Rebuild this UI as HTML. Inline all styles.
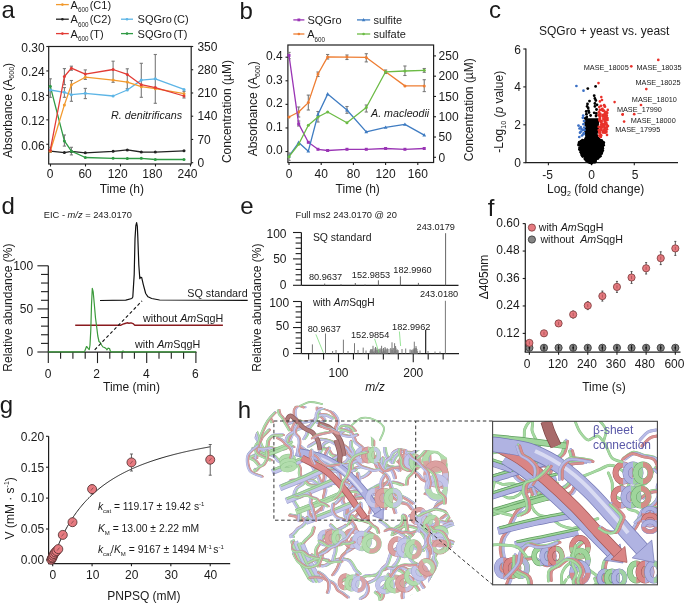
<!DOCTYPE html>
<html><head><meta charset="utf-8"><style>
html,body{margin:0;padding:0;background:#fff;}
body{width:685px;height:604px;overflow:hidden;}
svg{display:block;font-family:"Liberation Sans", sans-serif;filter:blur(0.3px);}
</style></head><body>
<svg width="685" height="604" viewBox="0 0 685 604">
<style>
.tg,.Tg,.tp,.Tp,.tl,.Tl,.td,.Td,.tG,.TG,.tP,.TP,.tL,.TL{fill:none;stroke-linecap:round;stroke-linejoin:round}.TG{stroke:#b2ddad}.tG{stroke:#8fc28b}.TP{stroke:#dca0a0}.tP{stroke:#c08585}.TL{stroke:#c4c6ea}.tL{stroke:#a0a3d3}
.Tg{stroke:#a6d9a2}.tg{stroke:#80b87c}.Tp{stroke:#d99090}.tp{stroke:#b87676}.Tl{stroke:#b8bbe6}.tl{stroke:#9093c8}.Td{stroke:#a86a6a}.td{stroke:#7a4545}
</style>
<defs><path id="q1" d="M287.6 423.3C288.5 423.0 291.2 422.2 292.9 421.6C294.7 421.1 296.4 419.8 298.2 419.8C299.9 419.8 301.6 421.4 303.4 421.5C305.2 421.7 307.1 421.0 308.9 420.8C310.8 420.6 312.7 420.1 314.5 420.3C316.3 420.5 318.0 422.1 319.7 422.0C321.5 422.0 324.0 420.4 324.9 420.0"/><path id="q2" d="M317.6 464.9C317.3 464.2 315.7 462.0 315.5 460.5C315.4 459.0 316.1 457.2 316.8 455.8C317.4 454.4 318.8 453.2 319.6 451.9C320.5 450.5 321.2 449.1 322.0 447.6C322.7 446.2 322.9 444.3 323.9 443.2C325.0 442.0 327.5 441.2 328.2 440.8"/><path id="q3" d="M335.7 428.9C335.8 429.7 335.8 432.3 336.4 433.7C337.0 435.1 338.9 436.0 339.4 437.4C340.0 438.8 339.7 440.6 339.8 442.2C339.9 443.8 340.1 445.4 340.0 446.9C339.9 448.5 339.1 450.0 339.0 451.6C338.8 453.2 339.0 454.8 339.0 456.4C339.0 458.0 338.9 459.7 339.1 461.2C339.3 462.7 339.8 464.0 340.0 465.5C340.2 466.9 340.0 470.0 340.0 470.0C340.0 470.0 340.5 466.8 340.0 465.5C339.5 464.1 337.4 462.4 336.9 461.8"/><path id="q4" d="M322.3 447.8C323.3 448.0 326.6 448.2 328.3 449.2C329.9 450.3 330.4 453.0 332.0 454.2C333.6 455.3 336.5 455.4 337.9 456.1C339.2 456.8 340.6 457.8 340.0 458.5C339.4 459.3 336.0 459.7 334.1 460.5C332.2 461.3 330.4 462.2 328.6 463.4C326.9 464.5 324.7 466.7 323.9 467.4"/><path id="q5" d="M282.9 434.3C281.9 434.4 279.2 434.3 277.3 434.5C275.5 434.7 273.4 434.6 271.9 435.5C270.4 436.3 269.0 438.0 268.3 439.6C267.5 441.2 268.0 443.3 267.4 445.1C266.8 446.8 266.2 448.8 264.9 450.0C263.7 451.2 261.6 451.5 259.9 452.3C258.2 453.0 256.5 453.8 254.9 454.6C253.2 455.3 250.0 456.1 250.0 456.9C250.0 457.7 253.4 458.4 254.8 459.6C256.2 460.7 257.8 463.1 258.4 463.8"/><path id="q6" d="M300.1 445.5C300.9 446.1 303.1 448.2 304.8 449.2C306.5 450.3 308.8 450.6 310.2 451.9C311.6 453.2 312.0 455.5 313.1 457.2C314.3 458.8 315.9 460.1 317.1 461.7C318.4 463.2 319.2 465.3 320.5 466.7C321.8 468.0 324.0 470.4 325.1 470.0C326.1 469.6 326.9 466.2 326.9 464.3C326.9 462.3 325.2 460.5 325.1 458.5C324.9 456.6 325.3 454.4 325.9 452.5C326.5 450.7 328.4 448.2 328.9 447.3"/><path id="q7" d="M310.8 463.4C311.8 463.0 314.6 461.1 316.6 461.0C318.5 460.9 320.9 461.7 322.5 462.8C324.1 464.0 325.1 466.6 326.2 467.8C327.3 469.0 327.8 470.2 329.2 470.0C330.6 469.8 332.8 467.9 334.5 466.9C336.3 465.8 339.0 464.9 339.9 463.7C340.8 462.5 340.0 460.3 340.0 459.6"/><path id="q8" d="M256.2 457.3C256.3 456.5 256.3 454.0 256.9 452.5C257.4 451.0 259.2 449.9 259.6 448.4C260.1 446.9 259.8 445.1 259.5 443.5C259.2 441.9 258.5 440.3 257.7 438.9C256.9 437.5 255.8 436.3 254.7 435.1C253.6 433.8 252.1 432.4 251.3 431.6C250.5 430.7 250.2 430.2 250.0 429.9"/><path id="q9" d="M263.2 414.8C262.4 414.1 260.6 411.5 258.9 410.4C257.2 409.4 254.6 409.4 253.1 408.6C251.6 407.8 249.5 406.1 250.0 405.6C250.5 405.2 254.1 405.9 256.1 406.0C258.1 406.1 260.4 405.6 262.2 406.3C264.0 406.9 265.9 408.5 267.0 410.0C268.1 411.6 268.2 414.0 269.0 415.8C269.9 417.6 271.6 420.2 272.1 421.1"/><path id="q10" d="M288.3 442.8C288.7 441.8 289.7 439.0 290.4 437.1C291.2 435.3 292.3 433.5 292.8 431.6C293.3 429.7 292.8 427.5 293.3 425.6C293.9 423.8 295.8 422.2 296.0 420.3C296.3 418.4 294.9 416.4 294.7 414.4C294.5 412.4 294.3 410.0 294.9 408.4C295.6 406.9 297.1 405.3 298.7 405.0C300.3 404.7 303.6 406.1 304.5 406.4"/><path id="q11" d="M336.0 432.4C336.0 431.5 335.4 428.9 335.7 427.3C335.9 425.6 337.3 424.1 337.5 422.5C337.7 420.8 337.4 418.9 336.8 417.4C336.2 415.9 334.9 414.6 333.8 413.3C332.7 412.0 331.6 410.6 330.1 409.7C328.7 408.8 326.9 408.6 325.3 407.9C323.8 407.2 322.2 405.7 321.0 405.2C319.7 404.7 318.5 404.2 318.0 405.0C317.5 405.8 317.5 408.5 317.9 410.1C318.3 411.7 319.3 413.3 320.4 414.6C321.4 415.9 323.5 417.5 324.1 418.1"/><path id="q12" d="M285.7 462.7C284.6 462.4 281.0 461.8 279.1 460.6C277.3 459.4 276.3 456.9 274.5 455.6C272.6 454.3 270.0 454.1 268.1 452.9C266.2 451.7 264.4 450.1 263.1 448.3C261.7 446.5 260.8 444.3 260.0 442.2C259.1 440.1 258.5 437.9 257.8 435.7C257.1 433.5 256.0 431.4 255.6 429.2C255.3 427.0 256.4 424.4 255.8 422.3C255.2 420.3 252.6 418.8 252.0 416.7C251.3 414.6 252.0 411.0 252.0 409.8"/><path id="q13" d="M285.8 441.9C286.1 440.8 286.5 437.2 287.7 435.5C288.9 433.7 291.2 432.7 293.0 431.5C294.9 430.3 296.8 429.0 298.9 428.3C301.0 427.7 303.4 428.1 305.5 427.4C307.6 426.7 309.7 425.6 311.3 424.2C312.9 422.7 313.5 420.2 315.0 418.6C316.5 417.0 318.2 415.1 320.2 414.5C322.2 413.8 324.8 414.1 326.9 414.6C329.0 415.1 331.9 417.1 332.8 417.6"/><path id="q14" d="M304.1 438.0C304.5 437.4 306.0 435.4 306.6 434.0C307.3 432.6 307.3 430.9 308.0 429.5C308.6 428.0 309.7 426.8 310.5 425.5C311.4 424.1 312.3 422.8 313.2 421.6C314.2 420.3 315.7 419.3 316.3 417.9C316.8 416.5 316.2 414.7 316.7 413.2C317.1 411.7 317.9 410.0 319.0 409.1C320.1 408.1 322.0 408.0 323.4 407.3C324.8 406.6 326.0 405.1 327.4 405.0C328.8 404.9 331.1 406.3 331.9 406.5"/><path id="q15" d="M308.7 445.7C309.6 445.2 312.5 443.4 314.4 442.3C316.3 441.2 318.1 439.4 320.1 438.9C322.2 438.4 324.6 439.0 326.8 439.5C328.9 440.0 331.1 440.7 333.0 441.8C335.0 442.8 337.3 444.4 338.4 445.7C339.6 447.0 339.7 448.8 340.0 449.4"/><path id="q16" d="M252.2 448.0C253.0 448.0 255.4 447.7 256.9 447.8C258.5 447.8 260.0 448.1 261.6 448.1C263.1 448.1 264.7 448.0 266.2 447.8C267.8 447.7 269.3 447.0 270.9 447.1C272.4 447.2 273.9 448.0 275.4 448.3C276.9 448.6 278.5 448.8 280.0 448.8C281.6 448.8 283.2 448.7 284.7 448.2C286.1 447.7 287.3 446.3 288.8 445.9C290.2 445.6 292.6 446.2 293.4 446.3"/><path id="q17" d="M368.7 500.2C369.6 499.9 372.3 498.9 374.2 498.5C376.0 498.1 377.9 497.7 379.8 497.9C381.7 498.0 383.6 498.6 385.3 499.2C387.1 499.9 389.0 500.6 390.4 501.8C391.8 503.1 392.8 504.9 393.6 506.6C394.4 508.3 395.0 511.1 395.3 512.0"/><path id="q18" d="M369.8 471.4C369.1 472.0 367.1 474.1 365.5 475.1C363.9 476.1 362.0 477.2 360.2 477.4C358.4 477.6 356.4 476.4 354.6 476.5C352.8 476.6 350.8 477.3 349.2 478.3C347.6 479.2 346.6 481.2 344.9 482.1C343.3 482.9 341.2 483.1 339.3 483.2C337.5 483.3 334.6 482.8 333.7 482.7"/><path id="q19" d="M373.6 493.4C372.8 493.8 370.7 495.4 369.1 495.5C367.6 495.7 365.6 495.2 364.3 494.4C363.0 493.5 362.6 491.5 361.3 490.4C360.1 489.4 358.4 488.9 356.9 488.3C355.4 487.6 353.7 487.3 352.3 486.5C350.8 485.8 349.6 484.5 348.2 483.7C346.8 482.9 345.2 482.4 343.7 481.6C342.3 480.9 341.0 479.6 339.5 479.1C338.0 478.6 336.2 478.2 334.6 478.5C333.1 478.8 330.9 480.4 330.2 480.8"/><path id="q20" d="M441.2 517.7C442.0 517.1 444.6 515.7 445.9 514.3C447.2 513.0 448.4 511.0 449.1 509.5C449.8 508.1 450.3 507.1 450.0 505.7C449.7 504.2 448.3 502.1 447.0 500.7C445.7 499.4 443.8 498.6 442.1 497.7C440.3 496.9 438.5 496.1 436.7 495.5C434.9 494.9 433.0 494.5 431.1 494.0C429.2 493.6 426.4 493.1 425.4 492.9"/><path id="q21" d="M351.5 469.1C351.3 469.9 350.2 472.3 350.3 473.8C350.4 475.4 351.9 476.8 352.2 478.4C352.5 480.0 352.5 481.9 352.0 483.3C351.4 484.8 350.1 486.1 349.0 487.3C347.8 488.4 345.9 488.9 345.0 490.2C344.1 491.5 344.2 493.4 343.7 495.0C343.3 496.5 342.3 498.2 342.4 499.7C342.5 501.3 343.8 502.7 344.3 504.3C344.8 505.9 345.2 507.5 345.4 509.1C345.5 510.7 344.9 512.4 345.1 514.0C345.4 515.6 346.4 517.9 346.7 518.7"/><path id="q22" d="M445.7 463.3C445.6 464.1 445.1 466.6 445.4 468.2C445.6 469.7 446.7 471.1 447.3 472.7C447.8 474.2 448.7 475.7 448.7 477.3C448.8 478.9 447.8 480.4 447.4 482.0C447.1 483.6 447.2 485.3 446.6 486.8C446.0 488.2 444.4 489.3 443.6 490.7C442.8 492.1 442.3 493.6 441.8 495.2C441.3 496.7 441.3 498.5 440.5 499.9C439.7 501.2 437.9 501.9 437.0 503.2C436.1 504.5 435.3 506.9 434.9 507.6"/><path id="q23" d="M301.7 480.5C302.6 480.1 305.5 478.8 307.4 478.3C309.4 477.8 311.7 478.2 313.5 477.4C315.3 476.7 316.8 475.0 318.5 473.8C320.1 472.6 321.7 471.3 323.4 470.1C325.1 468.9 326.8 467.8 328.5 466.7C330.2 465.6 332.9 464.0 333.7 463.5"/><path id="q24" d="M398.2 460.7C399.0 461.3 401.6 463.1 403.0 464.5C404.5 466.0 405.4 468.3 407.1 469.2C408.8 470.2 411.3 469.6 413.2 470.3C415.0 471.1 416.7 472.5 418.3 473.9C419.8 475.2 420.8 477.3 422.4 478.5C424.0 479.7 426.1 480.7 428.1 480.9C430.1 481.1 432.2 479.8 434.2 479.9C436.2 480.1 438.1 481.3 440.1 481.7C442.2 482.2 445.3 482.3 446.3 482.4"/><path id="q25" d="M383.6 469.3C383.7 468.5 384.5 465.9 384.2 464.4C383.8 462.9 382.7 461.4 381.6 460.2C380.5 459.0 379.1 458.1 377.7 457.2C376.3 456.4 374.8 455.5 373.3 455.1C371.7 454.7 370.0 454.4 368.4 454.6C366.8 454.8 364.5 455.9 363.7 456.2"/><path id="q26" d="M357.8 472.7C358.0 473.8 359.0 477.2 359.1 479.5C359.1 481.7 358.6 484.1 358.2 486.3C357.7 488.6 357.1 490.8 356.3 492.9C355.5 495.1 354.4 497.2 353.2 499.1C352.0 501.0 349.7 502.5 349.0 504.5C348.3 506.6 348.8 509.1 349.0 511.4C349.2 513.7 349.9 516.7 350.3 518.2C350.8 519.6 350.8 520.5 351.8 520.0C352.9 519.5 355.0 516.6 356.4 514.9C357.9 513.1 359.9 511.5 360.6 509.4C361.3 507.3 360.5 503.7 360.4 502.5"/><path id="q27" d="M398.9 495.3C398.5 494.8 397.2 492.6 396.0 491.8C394.7 490.9 393.1 490.6 391.6 490.3C390.1 490.0 388.5 489.8 387.0 490.0C385.5 490.2 384.0 491.0 382.6 491.5C381.1 492.1 379.8 492.9 378.3 493.3C376.8 493.7 375.2 493.5 373.7 493.8C372.2 494.2 370.7 495.2 369.3 495.2C367.8 495.2 366.3 494.0 364.8 494.0C363.3 493.9 361.7 494.3 360.2 494.8C358.8 495.3 357.2 496.0 356.2 497.1C355.2 498.1 354.7 500.6 354.4 501.3"/><path id="q28" d="M319.2 518.2C318.1 518.3 314.8 518.7 312.8 519.0C310.9 519.3 309.1 520.4 307.3 520.0C305.4 519.6 303.7 517.6 301.7 516.8C299.8 516.1 297.5 515.8 295.5 515.4C293.6 515.0 289.9 514.4 290.0 514.4C290.1 514.5 294.5 514.9 296.2 515.8C297.9 516.8 298.7 519.6 300.4 520.0C302.1 520.4 304.6 519.2 306.5 518.2C308.4 517.3 309.8 515.5 311.6 514.4C313.4 513.2 315.4 512.5 317.1 511.3C318.9 510.1 321.2 507.8 322.0 507.1"/><path id="q29" d="M294.3 479.6C293.6 479.7 290.0 479.9 290.0 480.4C290.0 480.8 292.9 481.9 294.5 482.2C296.0 482.5 297.8 482.6 299.3 482.1C300.8 481.7 301.9 479.9 303.4 479.5C304.9 479.1 306.6 479.6 308.2 479.7C309.8 479.8 311.6 479.5 313.0 480.0C314.5 480.5 315.6 481.9 316.9 482.8C318.2 483.8 319.4 485.1 320.8 485.7C322.3 486.3 324.0 486.3 325.6 486.2C327.2 486.1 329.5 485.2 330.3 485.0"/><path id="q30" d="M413.3 502.6C412.5 502.0 410.0 500.2 408.3 499.1C406.6 498.1 404.8 497.0 403.0 496.2C401.1 495.4 399.1 494.9 397.2 494.2C395.3 493.6 393.4 492.6 391.4 492.3C389.4 492.0 387.3 492.4 385.3 492.4C383.3 492.3 381.2 492.1 379.2 492.1C377.2 492.1 374.9 491.5 373.1 492.2C371.3 492.8 370.1 495.1 368.3 495.9C366.5 496.8 364.3 496.9 362.3 497.2C360.3 497.5 357.3 497.7 356.3 497.8"/><path id="q31" d="M325.0 461.1C325.8 461.3 328.3 461.6 329.7 462.2C331.2 462.9 332.7 463.9 333.7 465.1C334.7 466.3 334.8 468.2 335.7 469.5C336.5 470.9 338.1 471.8 338.9 473.2C339.6 474.6 339.6 476.3 340.0 477.9C340.5 479.4 341.0 481.0 341.5 482.5C342.0 484.0 343.0 485.5 343.1 487.1C343.2 488.6 342.5 490.3 342.2 491.8C341.8 493.4 341.6 495.1 340.9 496.5C340.2 498.0 339.1 499.3 338.0 500.4C336.9 501.6 334.9 503.0 334.3 503.5"/><path id="q32" d="M311.2 473.4C310.4 474.2 308.0 476.6 306.6 478.4C305.1 480.1 304.0 482.2 302.3 483.7C300.7 485.2 298.1 485.8 296.7 487.5C295.4 489.2 294.7 491.6 294.2 493.8C293.8 496.0 293.5 498.5 294.0 500.6C294.5 502.7 296.5 504.4 297.4 506.5C298.3 508.6 299.1 510.8 299.4 513.0C299.7 515.2 299.2 518.6 299.2 519.8"/><path id="q33" d="M321.8 509.3C322.1 508.2 323.4 505.0 323.8 502.8C324.1 500.6 323.7 498.2 323.9 496.0C324.2 493.7 325.4 491.5 325.3 489.3C325.3 487.1 323.5 485.0 323.4 482.8C323.3 480.6 324.6 478.3 324.6 476.1C324.7 473.8 323.8 470.4 323.6 469.3"/><path id="q34" d="M323.1 484.8C322.6 484.1 320.9 482.2 320.2 480.7C319.4 479.3 319.1 477.5 318.3 476.0C317.6 474.6 316.3 473.3 315.5 471.9C314.7 470.4 314.4 468.7 313.6 467.2C312.8 465.7 312.0 464.1 310.9 462.9C309.7 461.8 308.2 460.7 306.6 460.2C305.1 459.7 303.1 459.5 301.6 459.9C300.0 460.3 298.8 461.9 297.3 462.5C295.8 463.2 293.7 463.4 292.4 463.9C291.2 464.5 289.6 465.7 290.0 465.9C290.4 466.1 294.2 465.4 295.0 465.2"/><path id="q35" d="M402.7 484.2C401.9 483.9 399.5 483.1 397.9 482.6C396.2 482.2 394.5 481.4 392.9 481.6C391.3 481.8 389.9 483.6 388.3 483.8C386.7 484.1 385.0 482.8 383.3 483.0C381.7 483.1 380.1 484.0 378.5 484.6C377.0 485.3 375.5 486.1 374.0 486.9C372.5 487.7 371.2 488.8 369.6 489.5C368.1 490.3 366.5 490.9 364.8 491.2C363.2 491.5 361.5 491.4 359.8 491.4C358.1 491.3 356.4 491.0 354.7 490.9C353.0 490.9 350.5 490.9 349.6 490.9"/><path id="q36" d="M433.6 509.0C434.4 508.2 436.3 505.4 438.0 504.1C439.7 502.7 442.0 502.1 443.8 500.9C445.6 499.6 447.7 498.2 448.8 496.5C449.8 494.7 450.8 491.9 450.0 490.3C449.2 488.7 446.3 487.7 444.3 487.0C442.2 486.2 438.8 485.9 437.8 485.6"/><path id="q37" d="M297.7 463.1C298.1 463.8 299.5 466.0 299.9 467.6C300.2 469.2 299.4 471.0 299.7 472.7C299.9 474.3 300.4 476.1 301.4 477.4C302.3 478.7 304.0 479.5 305.3 480.6C306.6 481.6 307.6 483.2 309.1 483.9C310.5 484.6 312.3 484.6 314.0 484.8C315.7 485.1 317.4 484.7 319.0 485.1C320.6 485.5 322.9 486.9 323.6 487.2"/><path id="q38" d="M376.2 455.9C376.1 457.0 375.2 460.2 375.6 462.2C376.0 464.1 377.2 466.2 378.5 467.7C379.7 469.3 381.8 470.3 383.3 471.7C384.9 473.1 386.6 474.4 387.7 476.1C388.8 477.8 389.1 480.0 389.8 482.0C390.4 484.0 391.3 485.9 391.6 488.0C392.0 490.0 391.3 492.4 392.1 494.2C392.9 496.0 394.8 497.4 396.5 498.7C398.1 500.0 400.0 501.1 401.9 501.9C403.8 502.7 406.2 502.5 407.9 503.6C409.6 504.6 411.3 507.5 412.0 508.3"/><path id="q39" d="M369.7 512.4C369.9 511.7 370.8 509.4 370.9 508.0C370.9 506.5 369.8 504.9 370.0 503.5C370.1 502.0 371.6 500.7 371.7 499.2C371.9 497.8 370.7 496.2 370.9 494.7C371.0 493.3 372.0 491.8 372.9 490.6C373.8 489.4 375.1 488.4 376.3 487.6C377.6 486.8 379.1 486.3 380.5 485.7C381.9 485.1 383.6 484.9 384.8 484.0C386.0 483.2 387.3 481.2 387.8 480.6"/><path id="q40" d="M395.0 477.3C394.7 476.3 394.0 473.2 393.1 471.4C392.2 469.5 391.2 467.5 389.6 466.3C388.1 465.1 385.9 464.5 383.9 463.9C382.0 463.4 379.7 463.7 377.9 463.0C376.0 462.3 374.1 461.1 372.6 459.7C371.1 458.4 370.5 456.1 368.9 454.8C367.3 453.6 365.2 452.9 363.3 452.3C361.3 451.7 358.2 451.5 357.2 451.3"/><path id="q41" d="M360.8 466.2C359.8 466.5 356.8 467.2 354.9 467.9C353.0 468.6 351.2 469.7 349.2 470.2C347.2 470.7 345.1 470.9 343.1 470.9C341.0 471.0 339.0 470.6 336.9 470.6C334.9 470.5 332.8 470.5 330.8 470.4C328.7 470.3 326.7 469.8 324.7 469.8C322.6 469.7 320.4 469.7 318.5 470.3C316.6 470.9 314.1 472.8 313.2 473.3"/><path id="q42" d="M342.8 463.1C343.5 462.5 345.9 461.2 347.0 459.9C348.1 458.6 349.3 456.9 349.5 455.3C349.8 453.6 349.3 450.9 348.7 450.1C348.1 449.2 347.2 449.6 346.0 450.0C344.7 450.4 342.8 451.5 341.4 452.5C339.9 453.5 338.9 455.0 337.4 456.0C336.0 457.0 334.1 457.5 332.8 458.5C331.5 459.6 330.7 461.4 329.4 462.6C328.2 463.8 326.6 464.7 325.3 465.8C323.9 466.9 322.8 468.4 321.4 469.3C319.9 470.3 317.3 471.0 316.5 471.4"/><path id="q43" d="M385.1 508.2C384.7 507.4 383.9 504.9 383.1 503.4C382.2 501.9 380.6 500.8 380.0 499.2C379.4 497.7 379.3 495.7 379.5 494.1C379.8 492.4 381.3 490.9 381.6 489.3C381.8 487.6 381.0 485.8 381.1 484.1C381.1 482.4 381.3 480.6 381.8 479.0C382.4 477.4 384.0 475.2 384.5 474.5"/><path id="q44" d="M455.5 542.8C454.6 542.9 451.9 542.8 450.4 543.3C448.8 543.8 447.4 545.0 446.0 546.0C444.6 547.0 443.5 548.3 442.1 549.3C440.7 550.3 439.0 550.8 437.7 551.8C436.4 552.9 435.2 554.2 434.3 555.7C433.4 557.1 432.6 559.6 432.3 560.4"/><path id="q45" d="M438.3 585.0C439.4 584.8 442.7 584.1 445.0 584.1C447.2 584.1 449.7 584.7 451.6 585.0C453.4 585.4 456.2 586.5 456.0 586.1C455.8 585.8 451.9 584.2 450.1 583.0C448.3 581.7 446.8 580.0 445.0 578.6C443.3 577.3 440.5 575.4 439.6 574.8"/><path id="q46" d="M298.0 575.6C297.6 574.7 296.8 571.8 295.6 570.4C294.3 569.0 291.7 568.2 290.7 567.2C289.8 566.1 289.7 565.5 290.0 564.1C290.3 562.8 291.8 560.7 292.4 558.9C293.0 557.0 293.5 555.0 293.5 553.2C293.4 551.3 292.3 549.5 291.9 547.6C291.5 545.7 291.2 542.8 291.1 541.8"/><path id="q47" d="M417.3 595.8C416.4 595.8 413.6 595.2 412.1 595.7C410.5 596.2 409.3 598.2 408.0 598.9C406.7 599.6 405.2 600.6 404.3 600.0C403.3 599.4 402.5 596.8 402.4 595.1C402.2 593.5 402.9 591.7 403.2 590.0C403.4 588.2 403.1 586.3 403.7 584.8C404.3 583.2 405.6 581.7 407.0 580.7C408.3 579.7 410.4 579.7 411.9 578.8C413.3 578.0 414.7 576.7 415.9 575.5C417.1 574.3 418.0 572.7 419.1 571.4C420.2 570.0 422.0 568.1 422.5 567.4"/><path id="q48" d="M425.9 538.7C425.4 537.8 424.2 535.0 423.0 533.3C421.9 531.6 420.7 529.9 419.1 528.7C417.5 527.5 415.4 526.9 413.5 526.3C411.5 525.8 409.5 525.2 407.5 525.3C405.5 525.3 403.2 525.6 401.6 526.6C399.9 527.6 399.3 530.1 397.7 531.3C396.2 532.5 393.2 533.5 392.3 534.0"/><path id="q49" d="M382.0 587.2C382.7 586.5 385.2 584.6 386.2 583.0C387.2 581.3 387.1 579.1 388.0 577.3C388.9 575.6 391.0 574.5 391.7 572.7C392.5 571.0 391.7 568.6 392.4 566.8C393.2 565.1 395.3 564.0 396.3 562.4C397.4 560.7 398.4 558.9 398.9 557.0C399.4 555.2 399.7 553.1 399.5 551.1C399.3 549.2 398.1 546.4 397.8 545.5"/><path id="q50" d="M431.9 578.4C431.4 577.5 430.1 574.4 428.9 572.7C427.6 570.9 426.2 569.3 424.5 567.9C422.9 566.5 420.9 565.5 419.0 564.5C417.1 563.4 414.8 563.0 413.2 561.6C411.7 560.2 410.1 558.1 409.7 556.2C409.2 554.2 410.8 551.8 410.4 549.7C410.0 547.7 407.8 546.0 407.5 543.9C407.2 541.9 407.7 539.4 408.6 537.6C409.6 535.7 412.4 533.7 413.1 532.9"/><path id="q51" d="M420.2 530.9C420.1 529.9 419.0 526.7 419.2 524.7C419.4 522.7 420.2 520.5 421.4 518.9C422.6 517.3 425.2 515.9 426.4 515.2C427.6 514.6 428.2 514.0 428.6 515.0C429.0 516.0 428.8 519.1 429.0 521.2C429.1 523.3 429.9 525.5 429.5 527.4C429.1 529.4 427.0 531.0 426.5 532.9C426.0 534.9 426.4 537.1 426.3 539.1C426.2 541.2 425.4 543.4 425.7 545.3C426.0 547.3 427.9 549.0 428.3 551.0C428.8 553.0 428.4 556.2 428.4 557.2"/><path id="q52" d="M409.8 515.2C410.8 515.1 413.9 514.3 415.5 515.0C417.1 515.7 418.6 517.7 419.3 519.4C420.0 521.1 419.0 523.5 419.6 525.2C420.3 527.0 421.8 528.4 423.1 529.9C424.3 531.4 426.3 532.4 427.1 534.1C427.9 535.7 427.9 538.0 427.6 539.8C427.3 541.7 426.3 543.6 425.2 545.1C424.1 546.7 421.7 548.4 421.0 549.1"/><path id="q53" d="M383.9 569.3C384.7 569.0 386.9 567.3 388.6 567.1C390.2 566.8 392.0 568.0 393.7 567.8C395.3 567.7 396.9 566.1 398.5 566.0C400.1 565.9 401.9 566.7 403.5 567.2C405.1 567.8 406.7 568.6 408.2 569.5C409.7 570.3 411.4 570.9 412.6 572.0C413.9 573.2 414.7 574.8 415.8 576.1C417.0 577.4 418.6 578.3 419.6 579.6C420.6 581.0 421.0 582.8 422.0 584.2C422.9 585.7 424.1 586.9 425.1 588.3C426.2 589.7 427.7 591.8 428.2 592.4"/><path id="q54" d="M329.9 544.0C329.3 544.7 327.8 546.7 326.5 547.8C325.3 548.9 323.8 549.7 322.5 550.7C321.1 551.7 320.0 553.0 318.5 553.7C317.0 554.5 315.3 554.8 313.7 555.1C312.1 555.3 310.3 554.9 308.7 555.2C307.0 555.4 305.5 556.2 303.9 556.5C302.2 556.8 300.5 557.2 298.9 557.1C297.3 557.0 295.5 556.4 294.0 555.9C292.5 555.5 289.8 554.7 290.0 554.6C290.2 554.4 293.4 554.6 295.0 554.9C296.6 555.2 299.0 556.0 299.8 556.2"/><path id="q55" d="M452.2 559.9C452.6 558.9 454.0 555.9 454.6 554.2C455.2 552.5 456.7 550.9 456.0 549.6C455.3 548.3 452.2 547.8 450.6 546.5C449.1 545.2 448.1 543.3 446.7 541.8C445.3 540.3 443.7 539.0 442.2 537.5C440.8 536.0 439.6 534.2 438.0 533.0C436.3 531.8 433.4 530.7 432.4 530.2"/><path id="q56" d="M396.8 568.4C397.8 568.9 401.3 569.8 402.8 571.3C404.3 572.7 404.5 575.5 405.9 577.2C407.3 578.9 409.4 579.9 411.1 581.4C412.8 582.8 414.6 584.1 416.0 585.8C417.5 587.5 418.4 589.5 419.6 591.4C420.8 593.3 422.5 596.2 423.1 597.1"/><path id="q57" d="M359.7 573.1C359.0 572.5 356.8 570.7 355.6 569.3C354.5 567.8 353.8 566.0 352.8 564.5C351.8 562.9 350.9 561.0 349.5 560.0C348.1 559.0 345.9 558.7 344.1 558.5C342.3 558.3 340.4 558.5 338.5 558.7C336.7 558.9 334.7 559.1 333.1 559.9C331.4 560.6 330.2 562.2 328.6 563.1C327.0 564.0 325.2 565.2 323.4 565.3C321.7 565.3 319.5 564.6 318.1 563.6C316.6 562.6 315.6 560.8 314.6 559.2C313.6 557.7 312.5 555.1 312.0 554.3"/><path id="q58" d="M411.6 534.6C411.0 534.1 408.5 532.6 407.7 531.2C406.9 529.7 407.0 527.8 406.7 526.1C406.4 524.4 406.1 522.6 405.9 520.9C405.6 519.2 405.7 516.7 405.2 515.8C404.7 514.8 403.2 514.3 402.8 515.0C402.4 515.7 403.3 518.6 402.9 520.2C402.4 521.8 401.4 523.5 400.2 524.7C398.9 525.8 396.8 526.0 395.6 527.2C394.4 528.4 393.5 531.0 393.1 531.8"/><path id="q59" d="M318.7 565.6C318.7 564.5 319.5 561.2 319.1 559.2C318.6 557.2 316.3 555.6 315.9 553.6C315.5 551.6 315.9 549.1 316.6 547.2C317.4 545.3 319.1 543.7 320.3 541.9C321.5 540.1 322.3 537.9 323.8 536.5C325.4 535.2 327.6 534.4 329.5 533.5C331.5 532.7 334.6 531.7 335.6 531.4"/><path id="q60" d="M340.2 581.8C341.0 581.3 343.0 579.2 344.7 578.7C346.3 578.1 348.3 578.8 350.1 578.6C351.9 578.5 353.7 577.9 355.5 577.7C357.3 577.6 359.2 578.2 360.9 577.8C362.7 577.4 364.1 575.8 365.8 575.3C367.5 574.9 369.5 575.3 371.2 575.1C373.0 574.9 375.0 574.8 376.6 574.0C378.1 573.2 379.1 571.4 380.6 570.4C382.1 569.3 384.6 568.2 385.4 567.8"/><path id="q61" d="M345.9 524.8C345.2 525.2 343.2 526.4 341.8 527.2C340.4 528.0 339.0 528.9 337.5 529.3C336.0 529.7 334.3 529.5 332.7 529.6C331.1 529.7 329.4 529.4 328.0 530.0C326.5 530.5 325.6 532.2 324.2 532.9C322.8 533.7 320.4 534.3 319.7 534.5"/><path id="q62" d="M451.9 559.6C452.1 560.6 452.7 563.7 453.2 565.8C453.6 567.9 453.9 570.1 454.4 572.1C454.9 574.1 455.7 575.8 456.0 577.8C456.3 579.8 456.0 582.0 456.0 584.2C456.0 586.3 456.3 588.4 456.0 590.5C455.7 592.6 454.7 595.7 454.4 596.7"/><path id="q63" d="M423.0 550.0C421.9 549.7 418.5 549.1 416.6 548.1C414.6 547.1 412.9 545.5 411.4 543.8C409.9 542.2 409.2 539.8 407.7 538.2C406.2 536.6 404.2 535.4 402.4 534.1C400.6 532.8 398.9 531.2 396.9 530.2C394.9 529.2 392.4 529.3 390.5 528.3C388.6 527.2 387.2 525.2 385.4 523.9C383.7 522.5 380.8 520.7 379.9 520.0"/><path id="q64" d="M437.8 589.6C437.9 588.5 437.7 585.0 438.5 582.9C439.2 580.8 441.2 579.3 442.1 577.3C443.0 575.2 442.9 572.7 443.9 570.8C445.0 568.8 446.7 567.2 448.4 565.7C450.1 564.3 452.7 563.7 454.0 562.0C455.3 560.3 455.8 557.8 456.0 555.6C456.2 553.4 455.1 551.0 455.1 548.9C455.1 546.9 456.9 544.6 456.0 543.2C455.1 541.7 450.9 540.8 449.9 540.3"/><path id="q65" d="M367.9 582.2C369.0 581.7 372.4 580.7 374.2 579.4C376.1 578.1 377.7 576.4 379.0 574.5C380.3 572.7 380.6 570.1 381.9 568.3C383.3 566.5 385.8 565.6 387.0 563.7C388.3 561.9 388.5 559.3 389.3 557.2C390.1 555.1 390.5 552.5 391.9 550.9C393.3 549.2 396.1 548.7 397.7 547.1C399.3 545.6 400.0 543.2 401.5 541.4C402.9 539.6 405.4 537.3 406.2 536.4"/><path id="q66" d="M375.7 591.5C376.3 592.0 378.5 593.3 379.3 594.6C380.1 595.9 380.3 598.4 380.4 599.3C380.5 600.2 379.7 600.6 380.1 600.0C380.4 599.4 382.1 597.4 382.6 595.9C383.1 594.5 382.6 592.7 383.1 591.2C383.6 589.7 385.0 588.5 385.5 587.1C386.0 585.6 385.6 583.8 386.2 582.4C386.7 580.9 388.5 579.8 388.8 578.4C389.2 576.9 388.5 574.4 388.4 573.6"/><path id="q67" d="M356.0 574.2C356.6 574.8 358.6 576.6 360.0 577.6C361.5 578.7 363.4 579.2 364.6 580.4C365.8 581.7 366.8 583.4 367.3 585.0C367.8 586.7 368.1 588.7 367.7 590.3C367.4 592.0 366.3 593.8 365.1 595.0C364.0 596.3 361.3 597.3 360.6 597.8"/><path id="q68" d="M431.2 593.0C431.4 592.0 432.7 588.8 432.4 586.7C432.2 584.7 430.0 582.9 429.8 580.9C429.6 578.9 430.5 576.6 431.4 574.7C432.2 572.8 434.1 571.3 434.9 569.4C435.8 567.5 436.8 565.3 436.7 563.3C436.5 561.3 434.4 559.4 434.2 557.4C433.9 555.3 435.5 553.0 435.1 551.1C434.8 549.1 433.1 547.3 432.1 545.5C431.0 543.6 429.3 541.9 428.9 539.9C428.5 537.9 429.5 535.7 429.6 533.6C429.6 531.4 429.3 528.3 429.3 527.2"/><path id="q69" d="M303.4 587.4C304.1 586.6 306.4 584.3 307.4 582.4C308.4 580.6 309.0 578.4 309.5 576.4C309.9 574.3 310.3 572.1 310.0 570.0C309.7 568.0 309.0 565.6 307.7 564.0C306.5 562.5 303.6 562.2 302.3 560.6C301.1 559.0 300.3 556.7 300.1 554.6C299.9 552.6 300.8 550.4 301.3 548.3C301.8 546.3 302.1 544.0 303.2 542.2C304.2 540.4 306.0 539.1 307.5 537.6C309.0 536.0 310.9 534.7 311.9 532.9C313.0 531.2 313.5 527.8 313.8 526.8"/><path id="q70" d="M333.0 574.0C333.7 573.0 335.9 570.3 337.0 568.3C338.1 566.3 338.8 564.1 339.7 561.9C340.5 559.8 340.9 557.3 342.1 555.4C343.3 553.5 345.7 552.3 346.9 550.4C348.2 548.5 348.8 546.1 349.7 544.0C350.6 541.9 351.9 538.6 352.3 537.6"/><path id="q71" d="M345.9 515.1C346.5 515.0 348.3 514.1 349.2 515.0C350.1 515.9 350.6 518.6 351.5 520.4C352.3 522.1 353.6 523.6 354.5 525.3C355.4 527.1 355.7 529.3 357.0 530.6C358.3 531.9 360.4 532.9 362.3 533.1C364.1 533.3 366.1 531.5 367.9 531.7C369.7 531.8 372.3 533.7 373.2 534.1"/><path id="q72" d="M427.7 526.8C428.5 526.5 430.7 525.4 432.2 524.7C433.7 523.9 435.1 523.0 436.6 522.4C438.1 521.8 439.7 521.1 441.3 521.0C442.9 520.9 444.6 522.0 446.2 521.9C447.8 521.9 449.5 521.3 451.0 520.7C452.6 520.2 454.7 519.4 455.5 518.7C456.4 518.0 455.9 516.9 456.0 516.6"/><path id="q73" d="M347.7 550.6C348.4 550.2 350.5 549.0 351.8 548.0C353.1 547.1 354.5 546.1 355.4 544.8C356.4 543.6 356.5 541.7 357.5 540.5C358.4 539.2 360.2 538.6 361.2 537.4C362.2 536.2 362.3 534.2 363.3 533.0C364.3 531.8 366.0 531.2 367.1 530.1C368.3 529.0 369.7 527.1 370.3 526.5"/><path id="q74" d="M332.9 561.1C333.1 560.2 333.4 557.7 333.8 556.0C334.2 554.4 335.0 552.8 335.3 551.2C335.6 549.5 335.5 547.7 335.7 546.1C335.9 544.4 336.0 542.6 336.5 541.0C337.0 539.4 338.6 538.1 338.9 536.5C339.2 534.9 338.9 532.9 338.2 531.4C337.4 530.0 335.8 529.0 334.5 527.8C333.3 526.7 331.3 525.0 330.7 524.4"/><path id="q75" d="M430.6 528.1C431.4 527.9 434.0 526.8 435.9 526.4C437.7 526.1 439.6 526.6 441.4 526.2C443.2 525.7 444.8 524.6 446.5 523.8C448.2 523.1 450.0 521.8 451.6 521.7C453.2 521.7 456.2 522.9 456.0 523.4C455.8 523.9 452.3 524.0 450.6 524.7C448.9 525.3 446.9 526.0 445.6 527.1C444.3 528.3 443.6 530.3 442.6 531.8C441.5 533.3 440.3 534.7 439.2 536.2C438.0 537.6 436.7 539.0 435.7 540.6C434.8 542.1 433.9 544.8 433.5 545.6"/><path id="q76" d="M293.0 536.0C292.5 535.9 289.8 536.3 290.0 535.7C290.2 535.1 292.9 533.7 294.1 532.5C295.3 531.3 296.1 529.6 297.4 528.4C298.6 527.3 300.4 526.7 301.7 525.6C303.1 524.5 304.5 523.3 305.4 521.8C306.2 520.4 306.7 517.7 307.0 516.9"/><path id="q77" d="M392.3 461.6C391.5 460.9 388.9 459.0 387.7 457.4C386.5 455.7 385.8 453.6 385.3 451.6C384.8 449.6 385.0 447.4 384.8 445.4C384.6 443.3 384.3 441.2 384.2 439.2C384.2 437.1 384.6 435.0 384.6 432.9C384.5 430.9 384.7 428.1 383.9 426.7C383.1 425.4 381.5 425.0 379.8 425.0C378.2 425.0 374.9 426.7 373.9 427.0"/><path id="q78" d="M399.5 469.8C398.5 469.2 395.8 467.0 393.7 466.5C391.6 466.1 389.2 466.7 387.1 467.1C384.9 467.5 382.8 468.3 380.6 468.7C378.4 469.2 376.2 469.9 374.0 469.8C371.9 469.6 369.8 468.5 367.7 467.8C365.6 467.2 363.3 466.8 361.4 465.7C359.5 464.6 358.2 462.6 356.4 461.3C354.6 460.0 352.5 459.2 350.7 457.8C349.0 456.5 347.3 454.9 346.1 453.1C345.0 451.2 344.2 447.9 343.8 446.8"/><path id="q79" d="M340.0 438.6C340.5 439.5 341.6 442.6 342.9 444.1C344.2 445.6 346.4 446.2 347.8 447.7C349.3 449.1 349.9 451.4 351.5 452.6C353.1 453.8 355.3 454.4 357.3 454.6C359.3 454.9 361.4 454.0 363.4 454.1C365.5 454.3 367.7 454.4 369.5 455.3C371.2 456.3 373.1 459.0 373.8 459.7"/><path id="q80" d="M357.1 434.2C356.1 434.4 353.2 435.6 351.1 435.8C349.1 435.9 346.9 435.4 345.0 434.9C343.1 434.4 339.9 433.5 340.0 432.6C340.1 431.7 344.1 430.8 345.4 429.5C346.7 428.3 347.0 424.8 347.8 425.0C348.7 425.2 349.4 428.8 350.4 430.6C351.3 432.5 352.6 434.2 353.5 436.0C354.4 437.9 354.7 440.1 355.9 441.7C357.1 443.3 359.3 444.1 360.8 445.6C362.3 447.0 364.1 449.5 364.7 450.3"/><path id="q81" d="M409.7 440.5C409.6 439.5 409.2 436.6 409.2 434.6C409.3 432.7 409.5 430.3 409.8 428.7C410.2 427.1 411.6 424.7 411.5 425.0C411.3 425.3 410.2 428.8 409.1 430.4C408.0 432.0 405.8 432.9 404.9 434.5C403.9 436.2 403.7 439.3 403.4 440.3"/><path id="q82" d="M382.8 457.3C382.7 458.1 382.2 460.8 382.0 462.6C381.8 464.4 381.5 466.7 381.6 468.0C381.7 469.2 382.1 470.5 382.7 470.0C383.2 469.5 384.1 466.7 384.7 465.0C385.4 463.3 385.3 461.2 386.4 459.9C387.4 458.5 389.7 458.2 390.8 456.8C392.0 455.5 392.0 453.3 393.2 452.0C394.4 450.7 396.2 450.0 397.8 449.2C399.4 448.4 402.0 447.6 402.8 447.2"/><path id="q83" d="M417.6 449.1C416.9 449.6 414.7 451.4 413.1 451.8C411.5 452.3 409.6 451.8 407.9 451.7C406.2 451.5 404.4 450.5 402.8 450.8C401.1 451.1 399.5 452.1 398.1 453.2C396.8 454.3 395.6 455.7 394.7 457.2C393.8 458.7 393.1 461.2 392.8 462.0"/><path id="q84" d="M379.7 463.1C380.3 464.1 381.9 467.7 383.1 468.8C384.3 470.0 385.4 470.3 387.0 470.0C388.7 469.7 391.0 467.8 393.1 467.3C395.2 466.7 397.5 466.5 399.7 466.5C401.9 466.5 404.2 466.6 406.3 467.2C408.3 467.8 411.0 469.5 411.9 470.0"/><path id="q85" d="M351.1 440.8C351.1 441.7 350.6 444.6 351.1 446.4C351.5 448.1 353.4 449.5 353.8 451.3C354.2 453.0 353.7 455.0 353.4 456.9C353.2 458.7 352.6 460.5 352.3 462.4C352.0 464.2 351.3 466.7 351.5 467.9C351.8 469.2 353.4 469.7 353.7 470.0"/><path id="q86" d="M355.6 468.9C355.0 469.1 353.5 470.4 352.2 470.0C350.9 469.6 349.2 467.4 347.6 466.4C345.9 465.3 343.6 464.2 342.3 463.6C341.1 463.0 339.5 462.4 340.0 462.6C340.5 462.7 343.7 464.4 345.6 464.4C347.5 464.5 349.5 463.5 351.3 462.8C353.1 462.1 354.8 460.9 356.6 460.1C358.4 459.4 360.3 458.9 362.2 458.2C364.0 457.6 366.0 457.0 367.7 456.1C369.4 455.2 371.7 453.3 372.5 452.8"/><path id="q87" d="M373.2 444.6C373.2 443.8 373.3 441.5 373.2 439.9C373.1 438.4 372.7 436.8 372.7 435.3C372.7 433.8 373.3 432.2 373.2 430.7C373.1 429.1 372.5 427.1 372.2 426.1C372.0 425.2 371.5 424.4 371.6 425.0C371.7 425.6 372.6 427.9 372.9 429.5C373.2 431.0 373.3 432.5 373.5 434.1C373.6 435.6 373.8 438.0 373.8 438.7"/><path id="q88" d="M446.8 435.5C447.0 435.1 448.9 433.8 448.0 433.2C447.1 432.6 443.8 432.3 441.6 432.0C439.5 431.7 437.1 432.1 435.2 431.3C433.3 430.4 431.3 428.1 430.2 427.0C429.2 426.0 429.7 424.5 428.8 425.0C427.9 425.5 425.9 428.3 424.8 430.1C423.8 432.0 422.7 434.1 422.4 436.2C422.2 438.3 422.7 440.6 423.4 442.6C424.2 444.6 426.0 446.1 427.0 448.0C427.9 450.0 428.7 452.1 429.1 454.2C429.5 456.3 429.3 459.6 429.4 460.7"/><path id="q89" d="M271.0 459.6C270.2 459.3 268.0 458.4 266.5 457.7C265.0 457.1 263.5 456.3 262.0 455.6C260.6 454.9 258.7 454.5 257.7 453.3C256.6 452.2 255.9 450.4 255.7 448.8C255.5 447.3 255.7 445.4 256.4 444.0C257.1 442.6 258.9 441.7 259.9 440.4C260.8 439.1 261.3 437.5 262.3 436.2C263.3 434.9 264.6 433.9 265.8 432.7C266.9 431.5 268.6 429.7 269.2 429.1"/><path id="q90" d="M277.8 437.2C278.6 437.7 281.1 438.6 282.5 439.7C283.9 440.7 284.8 442.3 286.1 443.5C287.4 444.7 289.1 445.5 290.1 446.9C291.1 448.3 291.9 450.1 292.0 451.8C292.2 453.5 291.1 456.1 290.9 456.9"/><path id="q91" d="M255.0 468.7C255.2 468.9 255.2 470.4 255.9 470.0C256.6 469.6 257.9 467.4 259.2 466.5C260.4 465.5 262.3 465.3 263.4 464.2C264.5 463.2 265.3 461.6 266.0 460.2C266.6 458.8 267.2 457.2 267.4 455.6C267.6 454.1 267.2 451.6 267.2 450.8"/><path id="q92" d="M297.2 424.8C296.9 425.5 295.5 427.4 295.2 428.8C294.9 430.2 295.0 432.0 295.6 433.3C296.1 434.6 297.9 435.4 298.6 436.7C299.2 438.0 299.5 439.6 299.5 441.1C299.6 442.6 299.2 444.1 298.9 445.6C298.7 447.0 297.9 448.5 298.0 450.0C298.0 451.4 299.1 453.6 299.3 454.3"/><path id="q93" d="M278.5 408.7C278.7 409.5 279.0 412.0 279.7 413.4C280.4 414.8 281.9 415.8 282.7 417.1C283.6 418.4 284.2 420.0 284.9 421.4C285.7 422.8 286.5 424.2 287.4 425.5C288.2 426.9 289.5 428.9 289.9 429.6"/><path id="q94" d="M320.7 425.0C321.6 425.4 324.2 426.7 326.0 427.4C327.9 428.0 330.0 428.0 331.7 428.8C333.4 429.6 335.0 431.6 336.4 432.3C337.8 433.0 340.3 433.1 340.0 432.8C339.7 432.5 336.5 430.6 334.7 430.4C332.8 430.2 330.9 431.4 329.0 431.9C327.1 432.3 325.2 432.5 323.3 433.0C321.4 433.4 319.4 433.8 317.6 434.5C315.9 435.3 313.4 437.0 312.6 437.5"/><path id="q95" d="M406.7 483.8C406.9 482.7 406.9 479.1 407.8 477.2C408.8 475.2 411.3 474.1 412.5 472.3C413.8 470.5 414.9 468.4 415.6 466.2C416.3 464.1 415.7 461.5 416.6 459.5C417.6 457.6 419.9 456.3 421.4 454.7C422.9 453.2 424.8 450.8 425.5 450.0"/><path id="q96" d="M367.1 451.4C366.0 451.7 362.5 452.2 360.4 453.0C358.2 453.7 355.8 454.6 354.2 456.1C352.6 457.6 351.3 459.8 350.6 462.0C349.9 464.1 350.4 466.6 349.8 468.8C349.2 471.0 348.2 473.1 347.1 475.2C346.0 477.2 344.3 478.9 343.3 480.9C342.4 483.0 342.2 485.4 341.4 487.6C340.6 489.7 339.8 492.0 338.4 493.8C337.1 495.6 334.2 497.7 333.4 498.5"/><path id="q97" d="M419.5 514.8C420.4 514.4 422.8 513.0 424.5 512.2C426.2 511.5 428.0 510.9 429.7 510.3C431.5 509.7 433.2 508.6 435.0 508.5C436.8 508.3 438.7 508.9 440.5 509.3C442.3 509.8 444.2 510.3 445.8 511.1C447.4 512.0 449.8 513.1 450.0 514.5C450.2 515.8 447.5 518.3 447.1 519.2C446.6 520.2 447.2 519.9 447.2 520.0"/><path id="q98" d="M308.8 510.4C308.9 511.1 308.9 513.7 309.6 515.0C310.2 516.3 311.9 517.5 312.9 518.3C313.8 519.2 314.9 520.5 315.2 520.0C315.5 519.5 314.8 516.9 314.5 515.4C314.2 513.8 313.7 512.3 313.3 510.8C313.0 509.3 312.8 507.7 312.3 506.2C311.9 504.7 310.7 503.4 310.5 501.9C310.3 500.4 311.3 498.7 311.1 497.2C310.9 495.7 309.6 493.6 309.4 492.8"/><path id="q99" d="M312.1 452.8C313.0 453.3 316.2 454.6 317.8 456.0C319.3 457.5 320.1 459.8 321.7 461.3C323.2 462.7 325.2 464.1 327.2 464.7C329.2 465.3 331.6 465.0 333.8 464.8C335.9 464.6 339.1 463.8 340.2 463.6"/><path id="q100" d="M444.9 502.8C444.7 501.7 444.9 498.1 444.0 496.2C443.0 494.4 440.2 493.5 439.0 491.7C437.9 489.9 437.5 487.6 436.9 485.4C436.4 483.3 436.5 480.9 435.9 478.8C435.3 476.7 434.6 474.4 433.3 472.7C432.0 471.0 429.9 469.8 428.0 468.6C426.1 467.5 424.0 466.6 421.9 465.9C419.8 465.3 416.4 464.9 415.4 464.7"/><path id="q101" d="M428.8 487.0C429.0 486.1 429.9 483.6 429.9 481.9C429.9 480.2 429.1 478.5 428.7 476.9C428.3 475.2 428.4 473.3 427.6 471.8C426.9 470.3 425.4 469.2 424.3 467.9C423.1 466.6 422.0 465.3 420.8 464.0C419.6 462.8 418.5 461.4 417.1 460.4C415.8 459.3 414.0 458.8 412.7 457.7C411.4 456.6 409.9 454.4 409.3 453.8"/><path id="q102" d="M313.9 463.0C313.5 462.3 312.4 460.3 311.9 458.9C311.3 457.5 310.6 456.1 310.5 454.6C310.4 453.1 311.0 450.8 311.2 450.1C311.4 449.3 311.7 449.3 311.8 450.0C312.0 450.7 311.8 453.8 311.9 454.6"/><path id="q103" d="M333.1 503.4C333.0 504.5 332.0 508.1 332.5 510.2C333.1 512.3 334.7 514.6 336.3 516.0C338.0 517.4 340.9 518.0 342.7 518.7C344.5 519.3 346.2 520.9 347.2 520.0C348.3 519.1 347.9 515.2 349.2 513.4C350.4 511.6 352.9 510.7 354.6 509.1C356.3 507.6 358.5 504.9 359.3 504.1"/><path id="q104" d="M328.0 505.6C327.3 505.3 325.4 504.0 324.0 503.4C322.6 502.8 320.9 502.7 319.6 501.8C318.4 501.0 317.9 499.1 316.7 498.3C315.5 497.5 313.7 497.6 312.3 497.0C310.8 496.5 309.6 495.4 308.1 495.0C306.7 494.7 305.0 494.6 303.5 494.9C302.1 495.2 300.8 496.5 299.3 496.7C297.8 496.9 295.5 496.2 294.7 496.1"/><path id="q105" d="M353.9 541.5C353.0 541.7 350.6 542.7 348.9 542.9C347.2 543.2 345.4 542.8 343.7 542.9C341.9 543.1 340.2 543.4 338.5 543.8C336.8 544.1 335.2 544.7 333.5 545.0C331.7 545.2 329.8 545.6 328.3 545.2C326.7 544.7 325.5 543.0 324.0 542.2C322.5 541.3 320.1 540.4 319.3 540.0"/><path id="q106" d="M427.0 523.8C427.5 524.5 429.5 526.4 430.1 528.0C430.6 529.5 430.7 531.5 430.4 533.2C430.1 534.8 428.6 536.3 428.3 537.9C428.1 539.6 428.4 541.5 428.9 543.1C429.4 544.7 430.8 546.1 431.3 547.7C431.7 549.4 431.5 552.1 431.6 552.9"/><path id="q107" d="M442.3 563.4C442.8 564.4 445.1 567.3 445.4 569.4C445.7 571.5 445.0 574.1 443.9 576.0C442.9 577.9 440.8 579.2 439.2 580.8C437.6 582.4 435.8 583.8 434.3 585.4C432.8 587.1 431.6 589.1 430.1 590.8C428.7 592.5 427.2 594.4 425.4 595.6C423.6 596.8 421.3 598.1 419.1 598.2C417.0 598.2 413.8 596.5 412.7 596.1"/><path id="q108" d="M341.6 560.9C340.6 560.9 337.7 561.0 335.8 561.1C333.9 561.2 331.8 562.0 330.0 561.6C328.2 561.2 326.8 559.4 325.0 558.9C323.2 558.3 321.1 558.0 319.2 558.1C317.4 558.2 315.4 558.7 313.6 559.4C311.8 560.1 309.4 561.7 308.5 562.1"/><path id="q109" d="M292.4 541.3C292.0 542.2 289.5 545.2 290.0 546.8C290.5 548.4 293.5 550.2 295.6 550.9C297.7 551.6 300.4 550.2 302.5 550.8C304.6 551.5 306.0 553.9 308.1 554.9C310.1 556.0 312.4 556.4 314.7 556.9C316.9 557.5 319.2 557.8 321.5 558.3C323.7 558.7 327.1 559.4 328.3 559.6"/><path id="q110" d="M322.7 551.7C322.5 552.7 321.8 555.7 321.1 557.7C320.4 559.6 319.8 561.9 318.4 563.3C317.0 564.7 314.7 565.4 312.8 566.0C310.8 566.5 308.5 567.0 306.6 566.5C304.7 566.1 303.0 564.4 301.3 563.2C299.6 562.0 297.7 560.9 296.5 559.3C295.3 557.7 294.3 554.5 293.9 553.6"/><path id="q111" d="M416.0 530.6C415.3 530.8 413.1 531.9 411.6 532.0C410.2 532.1 408.6 531.3 407.1 531.2C405.6 531.2 404.1 531.9 402.6 531.8C401.1 531.6 399.7 530.8 398.3 530.3C396.8 529.8 395.4 529.1 394.0 528.7C392.5 528.4 390.9 528.0 389.4 528.3C388.0 528.5 386.0 529.9 385.3 530.2"/><path id="q112" d="M348.2 596.7C347.4 596.1 344.8 594.1 343.1 592.8C341.3 591.5 339.1 590.7 337.7 589.1C336.3 587.5 336.1 584.8 334.6 583.4C333.2 581.9 330.9 581.2 329.0 580.2C327.0 579.2 325.1 578.1 323.1 577.4C321.0 576.8 318.8 576.5 316.7 576.4C314.5 576.3 311.3 576.8 310.2 576.9"/><path id="q113" d="M354.4 527.3C353.7 528.2 351.7 530.6 350.5 532.3C349.2 534.0 348.3 536.0 346.8 537.4C345.3 538.8 343.0 539.4 341.3 540.6C339.7 541.8 338.4 543.7 336.7 544.8C334.9 545.9 332.6 546.1 330.8 547.2C329.1 548.3 327.7 550.1 326.0 551.2C324.2 552.3 321.2 553.5 320.3 553.9"/><path id="q114" d="M447.1 550.3C447.4 549.5 448.7 547.3 448.9 545.7C449.2 544.2 449.1 542.4 448.6 540.9C448.2 539.3 446.9 538.1 446.1 536.7C445.2 535.3 444.7 533.6 443.5 532.5C442.3 531.4 440.7 530.7 439.2 530.2C437.6 529.7 435.7 530.3 434.3 529.6C432.9 528.9 431.4 526.8 430.8 526.2"/><path id="q115" d="M378.4 532.0C378.1 531.2 377.7 528.6 376.8 527.4C375.8 526.2 373.9 525.8 372.6 524.8C371.3 523.8 370.4 522.3 369.0 521.5C367.6 520.7 365.9 520.3 364.3 520.0C362.7 519.7 361.0 520.0 359.4 519.6C357.8 519.2 356.0 518.5 354.9 517.7C353.7 516.9 353.0 514.7 352.4 515.0C351.8 515.3 351.8 518.3 351.1 519.7C350.4 521.2 348.7 523.1 348.2 523.7"/><path id="q116" d="M318.8 571.5C319.8 572.2 322.9 573.8 324.5 575.4C326.1 577.0 327.8 578.9 328.5 581.0C329.2 583.0 329.1 585.6 328.8 587.8C328.5 590.0 327.4 592.3 326.6 594.3C325.8 596.3 325.0 600.0 324.0 600.0C323.0 600.0 321.1 595.1 320.5 594.1"/><path id="q117" d="M391.5 575.7C392.0 574.8 393.6 572.2 394.8 570.6C396.1 569.0 397.3 567.1 399.0 566.1C400.7 565.1 402.9 564.6 404.9 564.3C406.9 564.1 408.9 564.7 411.0 564.6C413.0 564.5 416.0 564.0 417.1 563.9"/><path id="q118" d="M388.6 429.0C389.1 429.5 390.7 431.3 392.0 431.9C393.4 432.6 395.1 432.3 396.5 432.9C397.9 433.4 399.5 434.1 400.4 435.2C401.3 436.3 401.3 438.1 402.0 439.5C402.7 440.8 404.1 441.8 404.7 443.2C405.2 444.6 405.4 446.2 405.4 447.7C405.3 449.2 404.7 451.4 404.6 452.2"/><path id="q119" d="M355.0 430.1C354.4 429.5 352.8 427.3 351.5 426.5C350.1 425.6 348.5 425.2 346.9 425.0C345.4 424.8 343.1 424.6 341.9 425.2C340.8 425.7 339.5 427.5 340.0 428.2C340.5 429.0 343.2 429.0 344.8 429.5C346.5 430.0 348.8 430.9 349.6 431.1"/><path id="q120" d="M403.7 436.7C403.3 437.4 401.6 439.3 401.2 440.7C400.8 442.2 401.7 443.9 401.4 445.4C401.2 446.9 399.9 448.2 399.6 449.7C399.4 451.2 399.7 452.9 400.1 454.4C400.5 455.9 401.6 457.2 401.9 458.7C402.3 460.2 401.6 462.0 402.1 463.4C402.5 464.8 403.5 466.3 404.6 467.3C405.8 468.3 408.1 469.1 408.8 469.4"/><path id="q121" d="M398.9 427.8C399.7 427.7 402.1 427.2 403.7 427.3C405.3 427.3 406.9 428.4 408.5 428.2C410.0 428.0 411.3 426.5 412.8 426.0C414.2 425.5 415.7 425.0 417.2 425.0C418.8 425.0 420.6 425.2 422.0 425.8C423.4 426.5 424.5 427.9 425.8 428.8C427.2 429.7 428.6 430.5 430.1 431.1C431.6 431.7 434.0 432.2 434.8 432.4"/><path id="q122" d="M275.0 412.0C273.8 413.3 270.2 416.7 268.0 420.0C265.8 423.3 263.7 427.8 262.0 432.0C260.3 436.2 258.7 442.8 258.0 445.0"/><path id="q123" d="M258.0 445.0C256.3 446.7 249.3 450.8 248.0 455.0C246.7 459.2 247.7 466.5 250.0 470.0C252.3 473.5 260.0 475.0 262.0 476.0"/><path id="q124" d="M570.8 449.4C571.1 450.8 572.9 455.0 572.6 457.8C572.4 460.5 569.0 463.2 569.3 465.7C569.5 468.1 573.9 470.2 574.2 472.7C574.4 475.2 572.4 478.3 570.8 480.6C569.2 482.9 567.0 485.1 564.6 486.5C562.2 488.0 559.2 489.0 556.4 489.1C553.7 489.2 550.6 488.4 548.1 487.3C545.5 486.1 542.4 482.9 541.2 482.1"/><path id="q125" d="M488.8 463.8C488.6 462.2 487.9 457.0 487.7 454.2C487.5 451.5 486.0 448.6 487.6 447.4C489.2 446.3 494.4 446.1 497.2 447.1C500.1 448.1 501.8 451.9 504.6 453.2C507.4 454.6 512.5 454.9 514.1 455.2"/><path id="q126" d="M618.9 553.1C616.8 554.0 608.7 555.5 606.1 558.7C603.5 561.9 604.2 567.8 603.3 572.4C602.4 577.0 601.1 583.3 600.8 586.2C600.4 589.1 602.1 591.3 601.3 589.8C600.5 588.3 596.8 579.1 595.9 576.9"/><path id="q127" d="M510.6 439.3C510.3 440.9 508.9 445.7 508.7 449.0C508.4 452.2 508.3 455.7 509.0 458.9C509.6 462.1 511.2 465.1 512.6 468.1C514.0 471.1 515.1 474.5 517.3 476.8C519.5 479.2 524.2 481.3 525.6 482.2"/><path id="q128" d="M507.3 584.1C507.7 582.5 510.7 577.0 509.8 574.2C509.0 571.5 503.4 570.3 502.2 567.5C501.0 564.6 503.0 560.7 502.9 557.3C502.8 553.9 501.5 550.5 501.5 547.2C501.5 543.8 501.9 540.2 503.1 537.1C504.3 534.0 507.1 531.6 508.7 528.6C510.2 525.6 510.8 522.1 512.3 519.0C513.7 516.0 515.3 512.9 517.4 510.2C519.5 507.6 523.6 504.4 524.9 503.3"/><path id="q129" d="M625.5 535.8C626.8 534.5 631.1 531.0 633.3 528.2C635.5 525.4 637.0 522.1 638.7 518.9C640.4 515.7 640.9 511.5 643.3 509.0C645.6 506.6 650.3 506.4 652.9 504.1C655.6 501.8 658.2 498.5 659.1 495.2C660.1 491.9 657.9 487.6 658.5 484.4C659.0 481.2 662.9 478.7 662.4 476.0C661.9 473.2 656.4 469.2 655.2 467.8"/><path id="q130" d="M526.9 490.8C528.3 490.4 532.5 488.0 534.8 488.4C537.2 488.9 539.0 492.0 541.2 493.6C543.5 495.2 545.9 497.9 548.3 497.9C550.6 497.9 552.8 494.2 555.3 493.6C557.9 493.1 560.9 494.9 563.5 494.6C566.2 494.3 569.4 493.6 571.4 492.0C573.4 490.4 574.9 486.1 575.6 484.9"/><path id="q131" d="M584.1 540.0C583.0 540.9 578.7 542.9 577.5 545.2C576.4 547.4 577.4 550.7 577.1 553.5C576.9 556.2 576.2 559.0 576.0 561.7C575.8 564.5 576.9 567.7 575.8 570.0C574.8 572.4 570.7 574.7 569.7 575.7"/><path id="q132" d="M555.9 560.0C554.7 560.7 551.3 564.0 548.8 564.2C546.3 564.5 543.4 562.8 541.0 561.6C538.5 560.5 536.4 558.0 533.9 557.3C531.3 556.7 528.4 558.0 525.6 557.9C522.9 557.8 518.9 556.7 517.5 556.5"/><path id="q133" d="M649.6 518.8C650.4 517.2 652.0 511.1 654.2 509.5C656.3 507.9 662.7 509.2 662.4 508.9C662.1 508.6 655.1 506.7 652.2 507.6C649.2 508.5 647.1 512.3 644.4 514.5C641.8 516.7 637.7 519.8 636.3 520.9"/><path id="q134" d="M566.1 440.1C565.6 442.1 565.1 448.5 563.1 451.9C561.1 455.3 556.5 457.0 554.2 460.3C551.9 463.6 550.2 467.6 549.3 471.5C548.4 475.4 550.2 480.2 548.7 483.7C547.1 487.1 541.2 490.6 539.7 492.0"/><path id="q135" d="M584.4 461.5C582.6 461.6 577.2 462.0 573.6 462.4C570.0 462.8 566.4 463.2 562.9 463.7C559.3 464.2 555.8 465.2 552.2 465.3C548.6 465.5 544.4 463.5 541.4 464.6C538.3 465.8 535.6 469.4 533.9 472.4C532.1 475.4 530.8 479.3 530.8 482.8C530.8 486.2 533.3 491.4 533.9 493.1"/><path id="q136" d="M623.7 458.0C625.3 457.0 629.9 452.6 633.4 452.1C636.8 451.6 640.6 454.3 644.3 455.2C647.9 456.2 652.7 455.8 655.3 458.0C657.9 460.2 658.6 464.9 659.8 468.4C660.9 472.0 662.0 475.9 662.4 479.4C662.8 482.9 664.3 487.3 662.4 489.2C660.5 491.1 654.6 489.5 651.2 490.8C647.7 492.2 643.3 496.0 641.7 497.1"/><path id="q137" d="M521.9 589.6C523.2 589.6 528.6 592.1 529.7 589.8C530.8 587.5 530.5 579.5 528.3 575.9C526.1 572.4 518.7 572.1 516.5 568.5C514.3 565.0 515.4 556.9 515.2 554.6"/><path id="q138" d="M558.5 541.1C556.9 541.7 552.2 544.0 548.9 544.8C545.6 545.6 542.0 545.9 538.6 545.7C535.2 545.5 531.4 542.7 528.5 543.5C525.6 544.4 522.8 548.0 521.3 551.0C519.8 553.9 520.8 558.0 519.5 561.1C518.2 564.2 515.7 566.9 513.4 569.5C511.2 572.1 507.4 575.6 506.1 576.8"/><path id="q139" d="M518.2 444.8C518.8 446.2 519.7 451.3 521.7 453.6C523.6 455.9 527.3 456.5 529.7 458.6C532.0 460.6 534.8 463.0 535.8 465.7C536.8 468.5 536.5 472.2 535.8 475.2C535.0 478.1 532.1 482.1 531.3 483.5"/><path id="q140" d="M549.7 465.1C548.6 466.3 545.7 470.1 543.4 472.3C541.0 474.4 538.5 476.5 535.7 478.0C533.0 479.5 528.6 479.2 526.7 481.3C524.8 483.4 524.3 487.5 524.4 490.6C524.5 493.6 526.9 496.5 527.5 499.6C528.0 502.8 529.1 506.8 527.7 509.2C526.4 511.6 520.8 513.1 519.4 513.9"/><path id="q141" d="M591.6 460.4C589.8 460.1 584.2 458.7 580.5 458.3C576.7 458.0 572.3 456.9 569.1 458.4C566.0 459.8 562.9 463.5 561.5 466.8C560.1 470.1 560.9 476.2 560.8 478.1"/><path id="q142" d="M583.6 588.7C582.8 587.2 579.4 582.7 579.1 579.6C578.8 576.5 582.3 573.0 582.0 569.9C581.6 566.8 579.4 563.0 577.0 561.1C574.5 559.1 570.3 557.7 567.3 558.2C564.3 558.8 561.8 562.3 559.0 564.1C556.2 566.0 551.9 566.8 550.3 569.3C548.8 571.9 549.9 577.8 549.8 579.5"/><path id="q143" d="M600.4 526.8C601.6 527.5 605.0 530.3 607.6 530.9C610.2 531.6 613.9 531.9 615.9 530.6C617.9 529.3 618.6 525.8 619.7 523.2C620.8 520.7 623.0 517.8 622.6 515.5C622.2 513.1 619.4 511.0 617.5 508.9C615.7 506.9 612.5 504.2 611.5 503.2"/></defs>
<text x="1.50" y="18.30" font-size="24" text-anchor="start" fill="#1a1a1a"  style="">a</text>
<text x="239.50" y="18.50" font-size="24" text-anchor="start" fill="#1a1a1a"  style="">b</text>
<text x="489.00" y="18.20" font-size="24" text-anchor="start" fill="#1a1a1a"  style="">c</text>
<text x="1.50" y="213.60" font-size="24" text-anchor="start" fill="#1a1a1a"  style="">d</text>
<text x="240.20" y="213.80" font-size="24" text-anchor="start" fill="#1a1a1a"  style="">e</text>
<text x="487.80" y="215.50" font-size="24" text-anchor="start" fill="#1a1a1a"  style="">f</text>
<text x="-0.20" y="412.60" font-size="24" text-anchor="start" fill="#1a1a1a"  style="">g</text>
<text x="237.80" y="417.80" font-size="24" text-anchor="start" fill="#1a1a1a"  style="">h</text>
<rect x="48.7" y="46.5" width="142.5" height="117.5" fill="none" stroke="#1e1e1e" stroke-width="1.2"/>
<line x1="46.30" y1="46.50" x2="48.70" y2="46.50" stroke="#1e1e1e" stroke-width="1.1" />
<text x="44.60" y="51.80" font-size="12" text-anchor="end" fill="#1a1a1a"  style="">0.30</text>
<line x1="46.30" y1="70.95" x2="48.70" y2="70.95" stroke="#1e1e1e" stroke-width="1.1" />
<text x="44.60" y="76.25" font-size="12" text-anchor="end" fill="#1a1a1a"  style="">0.24</text>
<line x1="46.30" y1="95.40" x2="48.70" y2="95.40" stroke="#1e1e1e" stroke-width="1.1" />
<text x="44.60" y="100.70" font-size="12" text-anchor="end" fill="#1a1a1a"  style="">0.18</text>
<line x1="46.30" y1="119.85" x2="48.70" y2="119.85" stroke="#1e1e1e" stroke-width="1.1" />
<text x="44.60" y="125.15" font-size="12" text-anchor="end" fill="#1a1a1a"  style="">0.12</text>
<line x1="46.30" y1="144.30" x2="48.70" y2="144.30" stroke="#1e1e1e" stroke-width="1.1" />
<text x="44.60" y="149.60" font-size="12" text-anchor="end" fill="#1a1a1a"  style="">0.06</text>
<line x1="191.20" y1="162.70" x2="193.20" y2="162.70" stroke="#1e1e1e" stroke-width="1.1" />
<text x="197.40" y="166.90" font-size="12" text-anchor="start" fill="#1a1a1a"  style="">0</text>
<line x1="191.20" y1="139.46" x2="193.20" y2="139.46" stroke="#1e1e1e" stroke-width="1.1" />
<text x="197.40" y="143.66" font-size="12" text-anchor="start" fill="#1a1a1a"  style="">70</text>
<line x1="191.20" y1="116.22" x2="193.20" y2="116.22" stroke="#1e1e1e" stroke-width="1.1" />
<text x="197.40" y="120.42" font-size="12" text-anchor="start" fill="#1a1a1a"  style="">140</text>
<line x1="191.20" y1="92.98" x2="193.20" y2="92.98" stroke="#1e1e1e" stroke-width="1.1" />
<text x="197.40" y="97.18" font-size="12" text-anchor="start" fill="#1a1a1a"  style="">210</text>
<line x1="191.20" y1="69.74" x2="193.20" y2="69.74" stroke="#1e1e1e" stroke-width="1.1" />
<text x="197.40" y="73.94" font-size="12" text-anchor="start" fill="#1a1a1a"  style="">280</text>
<line x1="191.20" y1="46.50" x2="193.20" y2="46.50" stroke="#1e1e1e" stroke-width="1.1" />
<text x="197.40" y="50.70" font-size="12" text-anchor="start" fill="#1a1a1a"  style="">350</text>
<line x1="50.50" y1="164.00" x2="50.50" y2="166.50" stroke="#1e1e1e" stroke-width="1.1" />
<line x1="85.50" y1="164.00" x2="85.50" y2="166.50" stroke="#1e1e1e" stroke-width="1.1" />
<line x1="120.50" y1="164.00" x2="120.50" y2="166.50" stroke="#1e1e1e" stroke-width="1.1" />
<line x1="155.49" y1="164.00" x2="155.49" y2="166.50" stroke="#1e1e1e" stroke-width="1.1" />
<line x1="190.49" y1="164.00" x2="190.49" y2="166.50" stroke="#1e1e1e" stroke-width="1.1" />
<text x="50.00" y="177.70" font-size="12" text-anchor="middle" fill="#1a1a1a"  style="">0</text>
<text x="85.10" y="177.70" font-size="12" text-anchor="middle" fill="#1a1a1a"  style="">60</text>
<text x="117.70" y="177.70" font-size="12" text-anchor="middle" fill="#1a1a1a"  style="">120</text>
<text x="152.30" y="177.70" font-size="12" text-anchor="middle" fill="#1a1a1a"  style="">180</text>
<text x="187.50" y="177.70" font-size="12" text-anchor="middle" fill="#1a1a1a"  style="">240</text>
<text x="121.90" y="192.90" font-size="12" text-anchor="middle" fill="#1a1a1a"  style="">Time (h)</text>
<text transform="translate(11.8,110.5) rotate(-90)" font-size="12" text-anchor="middle" fill="#1a1a1a">Absorbance (A<tspan font-size="7" dy="2.5">600</tspan><tspan dy="-2.5">)</tspan></text>
<text transform="translate(230.9,111.6) rotate(-90)" font-size="12" text-anchor="middle" fill="#1a1a1a">Concentration (µM)</text>
<line x1="50.30" y1="78.80" x2="50.30" y2="97.30" stroke="#7a7a7a" stroke-width="1.1" />
<line x1="48.70" y1="78.80" x2="51.90" y2="78.80" stroke="#7a7a7a" stroke-width="1.1" />
<line x1="48.70" y1="97.30" x2="51.90" y2="97.30" stroke="#7a7a7a" stroke-width="1.1" />
<line x1="64.40" y1="68.60" x2="64.40" y2="84.70" stroke="#7a7a7a" stroke-width="1.1" />
<line x1="62.80" y1="68.60" x2="66.00" y2="68.60" stroke="#7a7a7a" stroke-width="1.1" />
<line x1="62.80" y1="84.70" x2="66.00" y2="84.70" stroke="#7a7a7a" stroke-width="1.1" />
<line x1="64.40" y1="87.60" x2="64.40" y2="97.30" stroke="#7a7a7a" stroke-width="1.1" />
<line x1="62.80" y1="87.60" x2="66.00" y2="87.60" stroke="#7a7a7a" stroke-width="1.1" />
<line x1="62.80" y1="97.30" x2="66.00" y2="97.30" stroke="#7a7a7a" stroke-width="1.1" />
<line x1="71.40" y1="66.20" x2="71.40" y2="70.20" stroke="#7a7a7a" stroke-width="1.1" />
<line x1="69.80" y1="66.20" x2="73.00" y2="66.20" stroke="#7a7a7a" stroke-width="1.1" />
<line x1="69.80" y1="70.20" x2="73.00" y2="70.20" stroke="#7a7a7a" stroke-width="1.1" />
<line x1="71.40" y1="80.50" x2="71.40" y2="101.30" stroke="#7a7a7a" stroke-width="1.1" />
<line x1="69.80" y1="80.50" x2="73.00" y2="80.50" stroke="#7a7a7a" stroke-width="1.1" />
<line x1="69.80" y1="101.30" x2="73.00" y2="101.30" stroke="#7a7a7a" stroke-width="1.1" />
<line x1="85.30" y1="69.90" x2="85.30" y2="79.40" stroke="#7a7a7a" stroke-width="1.1" />
<line x1="83.70" y1="69.90" x2="86.90" y2="69.90" stroke="#7a7a7a" stroke-width="1.1" />
<line x1="83.70" y1="79.40" x2="86.90" y2="79.40" stroke="#7a7a7a" stroke-width="1.1" />
<line x1="85.30" y1="88.40" x2="85.30" y2="98.60" stroke="#7a7a7a" stroke-width="1.1" />
<line x1="83.70" y1="88.40" x2="86.90" y2="88.40" stroke="#7a7a7a" stroke-width="1.1" />
<line x1="83.70" y1="98.60" x2="86.90" y2="98.60" stroke="#7a7a7a" stroke-width="1.1" />
<line x1="113.10" y1="61.20" x2="113.10" y2="82.30" stroke="#7a7a7a" stroke-width="1.1" />
<line x1="111.50" y1="61.20" x2="114.70" y2="61.20" stroke="#7a7a7a" stroke-width="1.1" />
<line x1="111.50" y1="82.30" x2="114.70" y2="82.30" stroke="#7a7a7a" stroke-width="1.1" />
<line x1="127.30" y1="68.80" x2="127.30" y2="88.70" stroke="#7a7a7a" stroke-width="1.1" />
<line x1="125.70" y1="68.80" x2="128.90" y2="68.80" stroke="#7a7a7a" stroke-width="1.1" />
<line x1="125.70" y1="88.70" x2="128.90" y2="88.70" stroke="#7a7a7a" stroke-width="1.1" />
<line x1="141.30" y1="63.30" x2="141.30" y2="97.30" stroke="#7a7a7a" stroke-width="1.1" />
<line x1="139.70" y1="63.30" x2="142.90" y2="63.30" stroke="#7a7a7a" stroke-width="1.1" />
<line x1="139.70" y1="97.30" x2="142.90" y2="97.30" stroke="#7a7a7a" stroke-width="1.1" />
<line x1="155.30" y1="54.50" x2="155.30" y2="103.30" stroke="#7a7a7a" stroke-width="1.1" />
<line x1="153.70" y1="54.50" x2="156.90" y2="54.50" stroke="#7a7a7a" stroke-width="1.1" />
<line x1="153.70" y1="103.30" x2="156.90" y2="103.30" stroke="#7a7a7a" stroke-width="1.1" />
<line x1="184.00" y1="91.30" x2="184.00" y2="98.00" stroke="#7a7a7a" stroke-width="1.1" />
<line x1="182.40" y1="91.30" x2="185.60" y2="91.30" stroke="#7a7a7a" stroke-width="1.1" />
<line x1="182.40" y1="98.00" x2="185.60" y2="98.00" stroke="#7a7a7a" stroke-width="1.1" />
<line x1="64.40" y1="135.00" x2="64.40" y2="146.10" stroke="#7a7a7a" stroke-width="1.1" />
<line x1="62.80" y1="135.00" x2="66.00" y2="135.00" stroke="#7a7a7a" stroke-width="1.1" />
<line x1="62.80" y1="146.10" x2="66.00" y2="146.10" stroke="#7a7a7a" stroke-width="1.1" />
<line x1="71.40" y1="147.30" x2="71.40" y2="154.90" stroke="#7a7a7a" stroke-width="1.1" />
<line x1="69.80" y1="147.30" x2="73.00" y2="147.30" stroke="#7a7a7a" stroke-width="1.1" />
<line x1="69.80" y1="154.90" x2="73.00" y2="154.90" stroke="#7a7a7a" stroke-width="1.1" />
<line x1="50.30" y1="147.30" x2="50.30" y2="152.00" stroke="#7a7a7a" stroke-width="1.1" />
<line x1="48.70" y1="147.30" x2="51.90" y2="147.30" stroke="#7a7a7a" stroke-width="1.1" />
<line x1="48.70" y1="152.00" x2="51.90" y2="152.00" stroke="#7a7a7a" stroke-width="1.1" />
<polyline points="50.30,151.20 64.40,152.60 71.40,151.40 85.30,152.80 113.10,151.30 127.30,149.90 141.30,152.00 155.30,152.10 184.00,150.80" fill="none" stroke="#222222" stroke-width="1.3" stroke-linejoin="round" />
<circle cx="50.30" cy="151.20" r="1.5" fill="#222222" stroke="none" stroke-width="0"/>
<circle cx="64.40" cy="152.60" r="1.5" fill="#222222" stroke="none" stroke-width="0"/>
<circle cx="71.40" cy="151.40" r="1.5" fill="#222222" stroke="none" stroke-width="0"/>
<circle cx="85.30" cy="152.80" r="1.5" fill="#222222" stroke="none" stroke-width="0"/>
<circle cx="113.10" cy="151.30" r="1.5" fill="#222222" stroke="none" stroke-width="0"/>
<circle cx="127.30" cy="149.90" r="1.5" fill="#222222" stroke="none" stroke-width="0"/>
<circle cx="141.30" cy="152.00" r="1.5" fill="#222222" stroke="none" stroke-width="0"/>
<circle cx="155.30" cy="152.10" r="1.5" fill="#222222" stroke="none" stroke-width="0"/>
<circle cx="184.00" cy="150.80" r="1.5" fill="#222222" stroke="none" stroke-width="0"/>
<polyline points="50.30,86.30 64.40,140.90 71.40,151.20 85.30,157.50 113.10,158.30 127.30,158.50 141.30,158.30 155.30,159.50 184.00,159.50" fill="none" stroke="#2f9a44" stroke-width="1.3" stroke-linejoin="round" />
<circle cx="50.30" cy="86.30" r="1.5" fill="#2f9a44" stroke="none" stroke-width="0"/>
<circle cx="64.40" cy="140.90" r="1.5" fill="#2f9a44" stroke="none" stroke-width="0"/>
<circle cx="71.40" cy="151.20" r="1.5" fill="#2f9a44" stroke="none" stroke-width="0"/>
<circle cx="85.30" cy="157.50" r="1.5" fill="#2f9a44" stroke="none" stroke-width="0"/>
<circle cx="113.10" cy="158.30" r="1.5" fill="#2f9a44" stroke="none" stroke-width="0"/>
<circle cx="127.30" cy="158.50" r="1.5" fill="#2f9a44" stroke="none" stroke-width="0"/>
<circle cx="141.30" cy="158.30" r="1.5" fill="#2f9a44" stroke="none" stroke-width="0"/>
<circle cx="155.30" cy="159.50" r="1.5" fill="#2f9a44" stroke="none" stroke-width="0"/>
<circle cx="184.00" cy="159.50" r="1.5" fill="#2f9a44" stroke="none" stroke-width="0"/>
<polyline points="50.30,90.00 64.40,92.30 71.40,94.70 85.30,93.30 113.10,96.00 127.30,90.00 141.30,80.10 155.30,78.80 184.00,89.40" fill="none" stroke="#5db5e6" stroke-width="1.3" stroke-linejoin="round" />
<circle cx="50.30" cy="90.00" r="1.5" fill="#5db5e6" stroke="none" stroke-width="0"/>
<circle cx="64.40" cy="92.30" r="1.5" fill="#5db5e6" stroke="none" stroke-width="0"/>
<circle cx="71.40" cy="94.70" r="1.5" fill="#5db5e6" stroke="none" stroke-width="0"/>
<circle cx="85.30" cy="93.30" r="1.5" fill="#5db5e6" stroke="none" stroke-width="0"/>
<circle cx="113.10" cy="96.00" r="1.5" fill="#5db5e6" stroke="none" stroke-width="0"/>
<circle cx="127.30" cy="90.00" r="1.5" fill="#5db5e6" stroke="none" stroke-width="0"/>
<circle cx="141.30" cy="80.10" r="1.5" fill="#5db5e6" stroke="none" stroke-width="0"/>
<circle cx="155.30" cy="78.80" r="1.5" fill="#5db5e6" stroke="none" stroke-width="0"/>
<circle cx="184.00" cy="89.40" r="1.5" fill="#5db5e6" stroke="none" stroke-width="0"/>
<polyline points="50.30,151.20 64.40,104.90 71.40,84.70 85.30,77.20 113.10,80.10 127.30,82.10 141.30,86.70 155.30,88.70 184.00,93.70" fill="none" stroke="#f29a2e" stroke-width="1.3" stroke-linejoin="round" />
<circle cx="50.30" cy="151.20" r="1.5" fill="#f29a2e" stroke="none" stroke-width="0"/>
<circle cx="64.40" cy="104.90" r="1.5" fill="#f29a2e" stroke="none" stroke-width="0"/>
<circle cx="71.40" cy="84.70" r="1.5" fill="#f29a2e" stroke="none" stroke-width="0"/>
<circle cx="85.30" cy="77.20" r="1.5" fill="#f29a2e" stroke="none" stroke-width="0"/>
<circle cx="113.10" cy="80.10" r="1.5" fill="#f29a2e" stroke="none" stroke-width="0"/>
<circle cx="127.30" cy="82.10" r="1.5" fill="#f29a2e" stroke="none" stroke-width="0"/>
<circle cx="141.30" cy="86.70" r="1.5" fill="#f29a2e" stroke="none" stroke-width="0"/>
<circle cx="155.30" cy="88.70" r="1.5" fill="#f29a2e" stroke="none" stroke-width="0"/>
<circle cx="184.00" cy="93.70" r="1.5" fill="#f29a2e" stroke="none" stroke-width="0"/>
<polyline points="50.30,150.20 64.40,76.50 71.40,68.20 85.30,74.10 113.10,69.50 127.30,74.40 141.30,84.70 155.30,87.60 184.00,96.00" fill="none" stroke="#e23b35" stroke-width="1.3" stroke-linejoin="round" />
<circle cx="50.30" cy="150.20" r="1.5" fill="#e23b35" stroke="none" stroke-width="0"/>
<circle cx="64.40" cy="76.50" r="1.5" fill="#e23b35" stroke="none" stroke-width="0"/>
<circle cx="71.40" cy="68.20" r="1.5" fill="#e23b35" stroke="none" stroke-width="0"/>
<circle cx="85.30" cy="74.10" r="1.5" fill="#e23b35" stroke="none" stroke-width="0"/>
<circle cx="113.10" cy="69.50" r="1.5" fill="#e23b35" stroke="none" stroke-width="0"/>
<circle cx="127.30" cy="74.40" r="1.5" fill="#e23b35" stroke="none" stroke-width="0"/>
<circle cx="141.30" cy="84.70" r="1.5" fill="#e23b35" stroke="none" stroke-width="0"/>
<circle cx="155.30" cy="87.60" r="1.5" fill="#e23b35" stroke="none" stroke-width="0"/>
<circle cx="184.00" cy="96.00" r="1.5" fill="#e23b35" stroke="none" stroke-width="0"/>
<text x="111.00" y="118.80" font-size="10.75" text-anchor="start" fill="#1a1a1a"  style="font-style:italic">R. denitrificans</text>
<line x1="56.00" y1="4.60" x2="68.80" y2="4.60" stroke="#f29a2e" stroke-width="1.3" />
<circle cx="62.40" cy="4.60" r="1.3" fill="#f29a2e" stroke="none" stroke-width="0"/>
<text x="70.6" y="8.80" font-size="11" fill="#1a1a1a">A<tspan font-size="6.3" dy="3.3">600</tspan><tspan dy="-3.3" dx="1.2">(C1)</tspan></text>
<line x1="56.00" y1="19.20" x2="68.80" y2="19.20" stroke="#222222" stroke-width="1.3" />
<circle cx="62.40" cy="19.20" r="1.3" fill="#222222" stroke="none" stroke-width="0"/>
<text x="70.6" y="23.40" font-size="11" fill="#1a1a1a">A<tspan font-size="6.3" dy="3.3">600</tspan><tspan dy="-3.3" dx="1.2">(C2)</tspan></text>
<line x1="56.00" y1="33.60" x2="68.80" y2="33.60" stroke="#e23b35" stroke-width="1.3" />
<circle cx="62.40" cy="33.60" r="1.3" fill="#e23b35" stroke="none" stroke-width="0"/>
<text x="70.6" y="37.80" font-size="11" fill="#1a1a1a">A<tspan font-size="6.3" dy="3.3">600</tspan><tspan dy="-3.3" dx="1.2">(T)</tspan></text>
<line x1="121.00" y1="19.20" x2="133.00" y2="19.20" stroke="#5db5e6" stroke-width="1.3" />
<circle cx="127.00" cy="19.20" r="1.3" fill="#5db5e6" stroke="none" stroke-width="0"/>
<text x="137.60" y="23.40" font-size="11" text-anchor="start" fill="#1a1a1a"  style="">SQGro<tspan dx="1.6">(C)</tspan></text>
<line x1="121.00" y1="33.60" x2="133.00" y2="33.60" stroke="#2f9a44" stroke-width="1.3" />
<circle cx="127.00" cy="33.60" r="1.3" fill="#2f9a44" stroke="none" stroke-width="0"/>
<text x="137.60" y="37.80" font-size="11" text-anchor="start" fill="#1a1a1a"  style="">SQGro<tspan dx="1.6">(T)</tspan></text>
<rect x="287.9" y="45.0" width="145.70000000000005" height="117.5" fill="none" stroke="#1e1e1e" stroke-width="1.2"/>
<line x1="285.50" y1="57.20" x2="287.90" y2="57.20" stroke="#1e1e1e" stroke-width="1.1" />
<text x="282.70" y="60.00" font-size="12" text-anchor="end" fill="#1a1a1a"  style="">0.4</text>
<line x1="285.50" y1="80.78" x2="287.90" y2="80.78" stroke="#1e1e1e" stroke-width="1.1" />
<text x="282.70" y="83.58" font-size="12" text-anchor="end" fill="#1a1a1a"  style="">0.3</text>
<line x1="285.50" y1="104.36" x2="287.90" y2="104.36" stroke="#1e1e1e" stroke-width="1.1" />
<text x="282.70" y="107.16" font-size="12" text-anchor="end" fill="#1a1a1a"  style="">0.2</text>
<line x1="285.50" y1="127.94" x2="287.90" y2="127.94" stroke="#1e1e1e" stroke-width="1.1" />
<text x="282.70" y="130.74" font-size="12" text-anchor="end" fill="#1a1a1a"  style="">0.1</text>
<line x1="285.50" y1="151.52" x2="287.90" y2="151.52" stroke="#1e1e1e" stroke-width="1.1" />
<text x="282.70" y="154.32" font-size="12" text-anchor="end" fill="#1a1a1a"  style="">0.0</text>
<line x1="433.60" y1="55.90" x2="436.00" y2="55.90" stroke="#1e1e1e" stroke-width="1.1" />
<text x="438.60" y="60.20" font-size="12" text-anchor="start" fill="#1a1a1a"  style="">250</text>
<line x1="433.60" y1="76.18" x2="436.00" y2="76.18" stroke="#1e1e1e" stroke-width="1.1" />
<text x="438.60" y="80.48" font-size="12" text-anchor="start" fill="#1a1a1a"  style="">200</text>
<line x1="433.60" y1="96.46" x2="436.00" y2="96.46" stroke="#1e1e1e" stroke-width="1.1" />
<text x="438.60" y="100.76" font-size="12" text-anchor="start" fill="#1a1a1a"  style="">150</text>
<line x1="433.60" y1="116.74" x2="436.00" y2="116.74" stroke="#1e1e1e" stroke-width="1.1" />
<text x="438.60" y="121.04" font-size="12" text-anchor="start" fill="#1a1a1a"  style="">100</text>
<line x1="433.60" y1="137.02" x2="436.00" y2="137.02" stroke="#1e1e1e" stroke-width="1.1" />
<text x="438.60" y="141.32" font-size="12" text-anchor="start" fill="#1a1a1a"  style="">50</text>
<line x1="433.60" y1="157.30" x2="436.00" y2="157.30" stroke="#1e1e1e" stroke-width="1.1" />
<text x="438.60" y="161.60" font-size="12" text-anchor="start" fill="#1a1a1a"  style="">0</text>
<line x1="289.00" y1="162.50" x2="289.00" y2="165.10" stroke="#1e1e1e" stroke-width="1.1" />
<text x="289.00" y="178.20" font-size="12" text-anchor="middle" fill="#1a1a1a"  style="">0</text>
<line x1="321.20" y1="162.50" x2="321.20" y2="165.10" stroke="#1e1e1e" stroke-width="1.1" />
<text x="321.20" y="178.20" font-size="12" text-anchor="middle" fill="#1a1a1a"  style="">40</text>
<line x1="353.40" y1="162.50" x2="353.40" y2="165.10" stroke="#1e1e1e" stroke-width="1.1" />
<text x="353.40" y="178.20" font-size="12" text-anchor="middle" fill="#1a1a1a"  style="">80</text>
<line x1="385.60" y1="162.50" x2="385.60" y2="165.10" stroke="#1e1e1e" stroke-width="1.1" />
<text x="385.60" y="178.20" font-size="12" text-anchor="middle" fill="#1a1a1a"  style="">120</text>
<line x1="417.80" y1="162.50" x2="417.80" y2="165.10" stroke="#1e1e1e" stroke-width="1.1" />
<text x="417.80" y="178.20" font-size="12" text-anchor="middle" fill="#1a1a1a"  style="">160</text>
<text x="357.70" y="192.80" font-size="12" text-anchor="middle" fill="#1a1a1a"  style="">Time (h)</text>
<text transform="translate(257.4,108.8) rotate(-90)" font-size="12" text-anchor="middle" fill="#1a1a1a">Absorbance (A<tspan font-size="7" dy="2.5">600</tspan><tspan dy="-2.5">)</tspan></text>
<text transform="translate(472.9,109.7) rotate(-90)" font-size="12" text-anchor="middle" fill="#1a1a1a">Concentration (µM)</text>
<line x1="298.66" y1="107.00" x2="298.66" y2="117.00" stroke="#7a7a7a" stroke-width="1.1" />
<line x1="297.06" y1="107.00" x2="300.26" y2="107.00" stroke="#7a7a7a" stroke-width="1.1" />
<line x1="297.06" y1="117.00" x2="300.26" y2="117.00" stroke="#7a7a7a" stroke-width="1.1" />
<line x1="308.32" y1="95.10" x2="308.32" y2="110.00" stroke="#7a7a7a" stroke-width="1.1" />
<line x1="306.72" y1="95.10" x2="309.92" y2="95.10" stroke="#7a7a7a" stroke-width="1.1" />
<line x1="306.72" y1="110.00" x2="309.92" y2="110.00" stroke="#7a7a7a" stroke-width="1.1" />
<line x1="366.28" y1="53.70" x2="366.28" y2="61.90" stroke="#7a7a7a" stroke-width="1.1" />
<line x1="364.68" y1="53.70" x2="367.88" y2="53.70" stroke="#7a7a7a" stroke-width="1.1" />
<line x1="364.68" y1="61.90" x2="367.88" y2="61.90" stroke="#7a7a7a" stroke-width="1.1" />
<line x1="424.24" y1="79.70" x2="424.24" y2="91.60" stroke="#7a7a7a" stroke-width="1.1" />
<line x1="422.64" y1="79.70" x2="425.84" y2="79.70" stroke="#7a7a7a" stroke-width="1.1" />
<line x1="422.64" y1="91.60" x2="425.84" y2="91.60" stroke="#7a7a7a" stroke-width="1.1" />
<line x1="289.00" y1="153.00" x2="289.00" y2="160.40" stroke="#7a7a7a" stroke-width="1.1" />
<line x1="287.40" y1="153.00" x2="290.60" y2="153.00" stroke="#7a7a7a" stroke-width="1.1" />
<line x1="287.40" y1="160.40" x2="290.60" y2="160.40" stroke="#7a7a7a" stroke-width="1.1" />
<line x1="366.28" y1="105.00" x2="366.28" y2="112.00" stroke="#7a7a7a" stroke-width="1.1" />
<line x1="364.68" y1="105.00" x2="367.88" y2="105.00" stroke="#7a7a7a" stroke-width="1.1" />
<line x1="364.68" y1="112.00" x2="367.88" y2="112.00" stroke="#7a7a7a" stroke-width="1.1" />
<line x1="404.92" y1="66.00" x2="404.92" y2="75.50" stroke="#7a7a7a" stroke-width="1.1" />
<line x1="403.32" y1="66.00" x2="406.52" y2="66.00" stroke="#7a7a7a" stroke-width="1.1" />
<line x1="403.32" y1="75.50" x2="406.52" y2="75.50" stroke="#7a7a7a" stroke-width="1.1" />
<line x1="424.24" y1="68.50" x2="424.24" y2="72.30" stroke="#7a7a7a" stroke-width="1.1" />
<line x1="422.64" y1="68.50" x2="425.84" y2="68.50" stroke="#7a7a7a" stroke-width="1.1" />
<line x1="422.64" y1="72.30" x2="425.84" y2="72.30" stroke="#7a7a7a" stroke-width="1.1" />
<line x1="346.96" y1="106.50" x2="346.96" y2="113.30" stroke="#7a7a7a" stroke-width="1.1" />
<line x1="345.36" y1="106.50" x2="348.56" y2="106.50" stroke="#7a7a7a" stroke-width="1.1" />
<line x1="345.36" y1="113.30" x2="348.56" y2="113.30" stroke="#7a7a7a" stroke-width="1.1" />
<line x1="317.98" y1="111.50" x2="317.98" y2="122.00" stroke="#7a7a7a" stroke-width="1.1" />
<line x1="316.38" y1="111.50" x2="319.58" y2="111.50" stroke="#7a7a7a" stroke-width="1.1" />
<line x1="316.38" y1="122.00" x2="319.58" y2="122.00" stroke="#7a7a7a" stroke-width="1.1" />
<line x1="289.00" y1="52.40" x2="289.00" y2="58.60" stroke="#7a7a7a" stroke-width="1.1" />
<line x1="287.40" y1="52.40" x2="290.60" y2="52.40" stroke="#7a7a7a" stroke-width="1.1" />
<line x1="287.40" y1="58.60" x2="290.60" y2="58.60" stroke="#7a7a7a" stroke-width="1.1" />
<line x1="327.64" y1="54.50" x2="327.64" y2="59.00" stroke="#7a7a7a" stroke-width="1.1" />
<line x1="326.04" y1="54.50" x2="329.24" y2="54.50" stroke="#7a7a7a" stroke-width="1.1" />
<line x1="326.04" y1="59.00" x2="329.24" y2="59.00" stroke="#7a7a7a" stroke-width="1.1" />
<line x1="346.96" y1="55.00" x2="346.96" y2="59.50" stroke="#7a7a7a" stroke-width="1.1" />
<line x1="345.36" y1="55.00" x2="348.56" y2="55.00" stroke="#7a7a7a" stroke-width="1.1" />
<line x1="345.36" y1="59.50" x2="348.56" y2="59.50" stroke="#7a7a7a" stroke-width="1.1" />
<line x1="317.98" y1="72.00" x2="317.98" y2="76.50" stroke="#7a7a7a" stroke-width="1.1" />
<line x1="316.38" y1="72.00" x2="319.58" y2="72.00" stroke="#7a7a7a" stroke-width="1.1" />
<line x1="316.38" y1="76.50" x2="319.58" y2="76.50" stroke="#7a7a7a" stroke-width="1.1" />
<line x1="298.66" y1="121.00" x2="298.66" y2="126.00" stroke="#7a7a7a" stroke-width="1.1" />
<line x1="297.06" y1="121.00" x2="300.26" y2="121.00" stroke="#7a7a7a" stroke-width="1.1" />
<line x1="297.06" y1="126.00" x2="300.26" y2="126.00" stroke="#7a7a7a" stroke-width="1.1" />
<line x1="385.60" y1="70.00" x2="385.60" y2="73.50" stroke="#7a7a7a" stroke-width="1.1" />
<line x1="384.00" y1="70.00" x2="387.20" y2="70.00" stroke="#7a7a7a" stroke-width="1.1" />
<line x1="384.00" y1="73.50" x2="387.20" y2="73.50" stroke="#7a7a7a" stroke-width="1.1" />
<polyline points="289.00,117.00 298.66,112.00 308.32,102.60 317.98,74.00 327.64,56.90 346.96,57.10 366.28,57.40 385.60,71.80 404.92,85.90 424.24,85.90" fill="none" stroke="#ee7d32" stroke-width="1.3" stroke-linejoin="round" />
<circle cx="289.00" cy="117.00" r="1.5" fill="#ee7d32" stroke="none" stroke-width="0"/>
<circle cx="298.66" cy="112.00" r="1.5" fill="#ee7d32" stroke="none" stroke-width="0"/>
<circle cx="308.32" cy="102.60" r="1.5" fill="#ee7d32" stroke="none" stroke-width="0"/>
<circle cx="317.98" cy="74.00" r="1.5" fill="#ee7d32" stroke="none" stroke-width="0"/>
<circle cx="327.64" cy="56.90" r="1.5" fill="#ee7d32" stroke="none" stroke-width="0"/>
<circle cx="346.96" cy="57.10" r="1.5" fill="#ee7d32" stroke="none" stroke-width="0"/>
<circle cx="366.28" cy="57.40" r="1.5" fill="#ee7d32" stroke="none" stroke-width="0"/>
<circle cx="385.60" cy="71.80" r="1.5" fill="#ee7d32" stroke="none" stroke-width="0"/>
<circle cx="404.92" cy="85.90" r="1.5" fill="#ee7d32" stroke="none" stroke-width="0"/>
<circle cx="424.24" cy="85.90" r="1.5" fill="#ee7d32" stroke="none" stroke-width="0"/>
<polyline points="289.00,55.40 298.66,123.90 308.32,142.30 317.98,149.30 327.64,150.50 346.96,149.30 366.28,149.30 385.60,148.50 404.92,149.30 424.24,148.50" fill="none" stroke="#9a35b5" stroke-width="1.3" stroke-linejoin="round" />
<rect x="287.50" y="53.90" width="3.00" height="3.00" fill="#9a35b5" stroke="none" stroke-width="0" />
<rect x="297.16" y="122.40" width="3.00" height="3.00" fill="#9a35b5" stroke="none" stroke-width="0" />
<rect x="306.82" y="140.80" width="3.00" height="3.00" fill="#9a35b5" stroke="none" stroke-width="0" />
<rect x="316.48" y="147.80" width="3.00" height="3.00" fill="#9a35b5" stroke="none" stroke-width="0" />
<rect x="326.14" y="149.00" width="3.00" height="3.00" fill="#9a35b5" stroke="none" stroke-width="0" />
<rect x="345.46" y="147.80" width="3.00" height="3.00" fill="#9a35b5" stroke="none" stroke-width="0" />
<rect x="364.78" y="147.80" width="3.00" height="3.00" fill="#9a35b5" stroke="none" stroke-width="0" />
<rect x="384.10" y="147.00" width="3.00" height="3.00" fill="#9a35b5" stroke="none" stroke-width="0" />
<rect x="403.42" y="147.80" width="3.00" height="3.00" fill="#9a35b5" stroke="none" stroke-width="0" />
<rect x="422.74" y="147.00" width="3.00" height="3.00" fill="#9a35b5" stroke="none" stroke-width="0" />
<polyline points="289.00,156.20 298.66,142.60 308.32,151.20 317.98,114.50 327.64,94.10 346.96,110.00 366.28,131.90 385.60,127.40 404.92,124.40 424.24,135.10" fill="none" stroke="#3f7cc2" stroke-width="1.3" stroke-linejoin="round" />
<path d="M287.10,157.60 L290.90,157.60 L289.00,154.20Z" fill="#3f7cc2"/>
<path d="M296.76,144.00 L300.56,144.00 L298.66,140.60Z" fill="#3f7cc2"/>
<path d="M306.42,152.60 L310.22,152.60 L308.32,149.20Z" fill="#3f7cc2"/>
<path d="M316.08,115.90 L319.88,115.90 L317.98,112.50Z" fill="#3f7cc2"/>
<path d="M325.74,95.50 L329.54,95.50 L327.64,92.10Z" fill="#3f7cc2"/>
<path d="M345.06,111.40 L348.86,111.40 L346.96,108.00Z" fill="#3f7cc2"/>
<path d="M364.38,133.30 L368.18,133.30 L366.28,129.90Z" fill="#3f7cc2"/>
<path d="M383.70,128.80 L387.50,128.80 L385.60,125.40Z" fill="#3f7cc2"/>
<path d="M403.02,125.80 L406.82,125.80 L404.92,122.40Z" fill="#3f7cc2"/>
<path d="M422.34,136.50 L426.14,136.50 L424.24,133.10Z" fill="#3f7cc2"/>
<polyline points="289.00,156.70 298.66,144.30 308.32,125.20 317.98,117.00 327.64,112.00 346.96,122.70 366.28,107.50 385.60,71.80 404.92,71.00 424.24,70.30" fill="none" stroke="#6cbb45" stroke-width="1.3" stroke-linejoin="round" />
<circle cx="289.00" cy="156.70" r="1.5" fill="#6cbb45" stroke="none" stroke-width="0"/>
<circle cx="298.66" cy="144.30" r="1.5" fill="#6cbb45" stroke="none" stroke-width="0"/>
<circle cx="308.32" cy="125.20" r="1.5" fill="#6cbb45" stroke="none" stroke-width="0"/>
<circle cx="317.98" cy="117.00" r="1.5" fill="#6cbb45" stroke="none" stroke-width="0"/>
<circle cx="327.64" cy="112.00" r="1.5" fill="#6cbb45" stroke="none" stroke-width="0"/>
<circle cx="346.96" cy="122.70" r="1.5" fill="#6cbb45" stroke="none" stroke-width="0"/>
<circle cx="366.28" cy="107.50" r="1.5" fill="#6cbb45" stroke="none" stroke-width="0"/>
<circle cx="385.60" cy="71.80" r="1.5" fill="#6cbb45" stroke="none" stroke-width="0"/>
<circle cx="404.92" cy="71.00" r="1.5" fill="#6cbb45" stroke="none" stroke-width="0"/>
<circle cx="424.24" cy="70.30" r="1.5" fill="#6cbb45" stroke="none" stroke-width="0"/>
<text x="371.00" y="117.30" font-size="10.7" text-anchor="start" fill="#1a1a1a"  style="font-style:italic">A. macleodii</text>
<line x1="293.30" y1="19.90" x2="304.40" y2="19.90" stroke="#9a35b5" stroke-width="1.3" />
<rect x="297.45" y="18.50" width="2.80" height="2.80" fill="#9a35b5" stroke="none" stroke-width="0" />
<text x="307.40" y="24.20" font-size="11" text-anchor="start" fill="#1a1a1a"  style="">SQGro</text>
<line x1="293.30" y1="34.00" x2="304.40" y2="34.00" stroke="#ee7d32" stroke-width="1.3" />
<circle cx="298.85" cy="34.00" r="1.3" fill="#ee7d32" stroke="none" stroke-width="0"/>
<text x="307.2" y="38.2" font-size="11" fill="#1a1a1a">A<tspan font-size="6.3" dy="3.3">600</tspan></text>
<line x1="357.00" y1="19.90" x2="370.20" y2="19.90" stroke="#3f7cc2" stroke-width="1.3" />
<path d="M361.80,21.20 L365.40,21.20 L363.60,18.00Z" fill="#3f7cc2"/>
<text x="373.40" y="24.20" font-size="11" text-anchor="start" fill="#1a1a1a"  style="">sulfite</text>
<line x1="357.00" y1="34.00" x2="370.20" y2="34.00" stroke="#6cbb45" stroke-width="1.3" />
<circle cx="363.60" cy="34.00" r="1.3" fill="#6cbb45" stroke="none" stroke-width="0"/>
<text x="373.40" y="38.20" font-size="11" text-anchor="start" fill="#1a1a1a"  style="">sulfate</text>
<line x1="525.90" y1="48.60" x2="525.90" y2="162.70" stroke="#1e1e1e" stroke-width="1.2" />
<line x1="525.30" y1="162.70" x2="678.00" y2="162.70" stroke="#1e1e1e" stroke-width="1.2" />
<line x1="523.30" y1="162.70" x2="525.90" y2="162.70" stroke="#1e1e1e" stroke-width="1.1" />
<text x="521.00" y="167.20" font-size="12" text-anchor="end" fill="#1a1a1a"  style="">0</text>
<line x1="523.30" y1="124.80" x2="525.90" y2="124.80" stroke="#1e1e1e" stroke-width="1.1" />
<text x="521.00" y="129.30" font-size="12" text-anchor="end" fill="#1a1a1a"  style="">2</text>
<line x1="523.30" y1="86.90" x2="525.90" y2="86.90" stroke="#1e1e1e" stroke-width="1.1" />
<text x="521.00" y="91.40" font-size="12" text-anchor="end" fill="#1a1a1a"  style="">4</text>
<line x1="523.30" y1="49.00" x2="525.90" y2="49.00" stroke="#1e1e1e" stroke-width="1.1" />
<text x="521.00" y="53.50" font-size="12" text-anchor="end" fill="#1a1a1a"  style="">6</text>
<line x1="548.40" y1="162.70" x2="548.40" y2="165.30" stroke="#1e1e1e" stroke-width="1.1" />
<line x1="591.60" y1="162.70" x2="591.60" y2="165.30" stroke="#1e1e1e" stroke-width="1.1" />
<line x1="634.30" y1="162.70" x2="634.30" y2="165.30" stroke="#1e1e1e" stroke-width="1.1" />
<text x="547.50" y="179.40" font-size="12" text-anchor="middle" fill="#1a1a1a"  style="">-5</text>
<text x="591.50" y="179.40" font-size="12" text-anchor="middle" fill="#1a1a1a"  style="">0</text>
<text x="635.00" y="179.40" font-size="12" text-anchor="middle" fill="#1a1a1a"  style="">5</text>
<text x="547.0" y="192.6" font-size="12" fill="#1a1a1a">Log<tspan font-size="7" dy="3">2</tspan><tspan dy="-3"> (fold change)</tspan></text>
<text transform="translate(502.5,111.8) rotate(-90)" font-size="12" text-anchor="middle" fill="#1a1a1a">-Log<tspan font-size="7" dy="3">10</tspan><tspan dy="-3"> (</tspan><tspan font-style="italic">p</tspan> value)</text>
<text x="604.20" y="34.50" font-size="12" text-anchor="middle" fill="#1a1a1a"  style="">SQGro + yeast vs. yeast</text>
<path d="M585.5,137.0 L585.5,120.0 L586.5,118.3 L596.5,118.3 L597.5,120.0 L597.5,137.0 L596.7,137.0 L597.3,137.5 L597.9,138.0 L598.6,138.5 L599.2,139.0 L599.8,139.5 L600.4,140.0 L601.0,140.5 L601.7,141.0 L602.3,141.5 L602.9,142.0 L603.5,142.5 L603.9,143.0 L603.8,143.5 L603.7,144.0 L603.6,144.5 L603.5,145.0 L603.4,145.5 L603.3,146.0 L603.2,146.5 L603.0,147.0 L602.9,147.5 L602.8,148.0 L602.7,148.5 L602.6,149.0 L602.5,149.5 L602.4,150.0 L602.3,150.5 L602.2,151.0 L601.9,151.5 L601.7,152.0 L601.5,152.5 L601.3,153.0 L601.0,153.5 L600.8,154.0 L600.6,154.5 L600.4,155.0 L600.2,155.5 L599.9,156.0 L599.6,156.5 L599.1,157.0 L598.7,157.5 L598.2,158.0 L597.7,158.5 L597.2,159.0 L596.7,159.5 L596.3,160.0 L595.8,160.5 L595.3,161.0 L594.9,161.5 L594.4,162.0 L594.0,162.5 L593.6,163.0 L593.1,163.5 L592.7,164.0 L592.2,164.5 L591.8,165.0 L591.2,165.0 L590.8,164.5 L590.3,164.0 L589.9,163.5 L589.4,163.0 L589.0,162.5 L588.6,162.0 L588.1,161.5 L587.7,161.0 L587.2,160.5 L586.7,160.0 L586.3,159.5 L585.8,159.0 L585.3,158.5 L584.8,158.0 L584.3,157.5 L583.9,157.0 L583.4,156.5 L583.1,156.0 L582.8,155.5 L582.6,155.0 L582.4,154.5 L582.2,154.0 L582.0,153.5 L581.7,153.0 L581.5,152.5 L581.3,152.0 L581.1,151.5 L580.8,151.0 L580.7,150.5 L580.6,150.0 L580.5,149.5 L580.4,149.0 L580.3,148.5 L580.2,148.0 L580.1,147.5 L580.0,147.0 L579.8,146.5 L579.7,146.0 L579.6,145.5 L579.5,145.0 L579.4,144.5 L579.3,144.0 L579.2,143.5 L579.1,143.0 L579.5,142.5 L580.1,142.0 L580.7,141.5 L581.3,141.0 L582.0,140.5 L582.6,140.0 L583.2,139.5 L583.8,139.0 L584.4,138.5 L585.1,138.0 L585.7,137.5 L586.3,137.0Z" fill="#000"/>
<circle cx="601.53" cy="148.76" r="1.35" fill="#000" stroke="none" stroke-width="0"/>
<circle cx="587.67" cy="159.23" r="1.35" fill="#000" stroke="none" stroke-width="0"/>
<circle cx="582.60" cy="150.31" r="1.35" fill="#000" stroke="none" stroke-width="0"/>
<circle cx="579.99" cy="144.89" r="1.35" fill="#000" stroke="none" stroke-width="0"/>
<circle cx="587.15" cy="160.15" r="1.35" fill="#000" stroke="none" stroke-width="0"/>
<circle cx="602.51" cy="147.30" r="1.35" fill="#000" stroke="none" stroke-width="0"/>
<circle cx="581.91" cy="153.00" r="1.35" fill="#000" stroke="none" stroke-width="0"/>
<circle cx="587.52" cy="158.62" r="1.35" fill="#000" stroke="none" stroke-width="0"/>
<circle cx="580.42" cy="141.95" r="1.35" fill="#000" stroke="none" stroke-width="0"/>
<circle cx="597.71" cy="157.23" r="1.35" fill="#000" stroke="none" stroke-width="0"/>
<circle cx="585.81" cy="158.90" r="1.35" fill="#000" stroke="none" stroke-width="0"/>
<circle cx="581.30" cy="149.99" r="1.35" fill="#000" stroke="none" stroke-width="0"/>
<circle cx="579.28" cy="144.23" r="1.35" fill="#000" stroke="none" stroke-width="0"/>
<circle cx="580.14" cy="145.20" r="1.35" fill="#000" stroke="none" stroke-width="0"/>
<circle cx="586.28" cy="137.77" r="1.35" fill="#000" stroke="none" stroke-width="0"/>
<circle cx="594.74" cy="159.01" r="1.35" fill="#000" stroke="none" stroke-width="0"/>
<circle cx="587.33" cy="137.44" r="1.35" fill="#000" stroke="none" stroke-width="0"/>
<circle cx="588.47" cy="161.10" r="1.35" fill="#000" stroke="none" stroke-width="0"/>
<circle cx="592.74" cy="162.49" r="1.35" fill="#000" stroke="none" stroke-width="0"/>
<circle cx="580.81" cy="151.72" r="1.35" fill="#000" stroke="none" stroke-width="0"/>
<circle cx="580.59" cy="144.01" r="1.35" fill="#000" stroke="none" stroke-width="0"/>
<circle cx="597.07" cy="137.39" r="1.35" fill="#000" stroke="none" stroke-width="0"/>
<circle cx="582.39" cy="140.07" r="1.35" fill="#000" stroke="none" stroke-width="0"/>
<circle cx="597.06" cy="137.28" r="1.35" fill="#000" stroke="none" stroke-width="0"/>
<circle cx="581.34" cy="141.62" r="1.35" fill="#000" stroke="none" stroke-width="0"/>
<circle cx="581.02" cy="141.96" r="1.35" fill="#000" stroke="none" stroke-width="0"/>
<circle cx="601.78" cy="146.98" r="1.35" fill="#000" stroke="none" stroke-width="0"/>
<circle cx="603.81" cy="142.53" r="1.35" fill="#000" stroke="none" stroke-width="0"/>
<circle cx="594.83" cy="162.35" r="1.35" fill="#000" stroke="none" stroke-width="0"/>
<circle cx="586.63" cy="137.51" r="1.35" fill="#000" stroke="none" stroke-width="0"/>
<circle cx="588.14" cy="159.21" r="1.35" fill="#000" stroke="none" stroke-width="0"/>
<circle cx="599.60" cy="140.81" r="1.35" fill="#000" stroke="none" stroke-width="0"/>
<circle cx="599.17" cy="157.09" r="1.35" fill="#000" stroke="none" stroke-width="0"/>
<circle cx="581.95" cy="147.04" r="1.35" fill="#000" stroke="none" stroke-width="0"/>
<circle cx="583.60" cy="152.15" r="1.35" fill="#000" stroke="none" stroke-width="0"/>
<circle cx="600.87" cy="146.59" r="1.35" fill="#000" stroke="none" stroke-width="0"/>
<circle cx="580.75" cy="152.27" r="1.35" fill="#000" stroke="none" stroke-width="0"/>
<circle cx="581.64" cy="141.75" r="1.35" fill="#000" stroke="none" stroke-width="0"/>
<circle cx="578.96" cy="142.94" r="1.35" fill="#000" stroke="none" stroke-width="0"/>
<circle cx="581.15" cy="141.12" r="1.35" fill="#000" stroke="none" stroke-width="0"/>
<circle cx="602.38" cy="147.09" r="1.35" fill="#000" stroke="none" stroke-width="0"/>
<circle cx="582.07" cy="147.96" r="1.35" fill="#000" stroke="none" stroke-width="0"/>
<circle cx="600.49" cy="150.32" r="1.35" fill="#000" stroke="none" stroke-width="0"/>
<circle cx="598.97" cy="155.32" r="1.35" fill="#000" stroke="none" stroke-width="0"/>
<circle cx="594.06" cy="160.53" r="1.35" fill="#000" stroke="none" stroke-width="0"/>
<circle cx="582.51" cy="141.56" r="1.35" fill="#000" stroke="none" stroke-width="0"/>
<circle cx="581.80" cy="149.46" r="1.35" fill="#000" stroke="none" stroke-width="0"/>
<circle cx="587.30" cy="160.85" r="1.35" fill="#000" stroke="none" stroke-width="0"/>
<circle cx="597.75" cy="138.80" r="1.35" fill="#000" stroke="none" stroke-width="0"/>
<circle cx="585.69" cy="138.57" r="1.35" fill="#000" stroke="none" stroke-width="0"/>
<circle cx="582.73" cy="150.81" r="1.35" fill="#000" stroke="none" stroke-width="0"/>
<circle cx="601.80" cy="140.60" r="1.35" fill="#000" stroke="none" stroke-width="0"/>
<circle cx="582.50" cy="154.08" r="1.35" fill="#000" stroke="none" stroke-width="0"/>
<circle cx="595.71" cy="161.01" r="1.35" fill="#000" stroke="none" stroke-width="0"/>
<circle cx="584.95" cy="155.23" r="1.35" fill="#000" stroke="none" stroke-width="0"/>
<circle cx="598.56" cy="153.54" r="1.35" fill="#000" stroke="none" stroke-width="0"/>
<circle cx="578.47" cy="145.09" r="1.35" fill="#000" stroke="none" stroke-width="0"/>
<circle cx="598.93" cy="138.96" r="1.35" fill="#000" stroke="none" stroke-width="0"/>
<circle cx="586.73" cy="160.41" r="1.35" fill="#000" stroke="none" stroke-width="0"/>
<circle cx="593.10" cy="160.79" r="1.35" fill="#000" stroke="none" stroke-width="0"/>
<circle cx="579.76" cy="149.31" r="1.35" fill="#000" stroke="none" stroke-width="0"/>
<circle cx="579.49" cy="147.85" r="1.35" fill="#000" stroke="none" stroke-width="0"/>
<circle cx="600.36" cy="151.89" r="1.35" fill="#000" stroke="none" stroke-width="0"/>
<circle cx="587.93" cy="137.32" r="1.35" fill="#000" stroke="none" stroke-width="0"/>
<circle cx="601.29" cy="153.62" r="1.35" fill="#000" stroke="none" stroke-width="0"/>
<circle cx="600.44" cy="155.93" r="1.35" fill="#000" stroke="none" stroke-width="0"/>
<circle cx="599.16" cy="155.05" r="1.35" fill="#000" stroke="none" stroke-width="0"/>
<circle cx="586.12" cy="158.80" r="1.35" fill="#000" stroke="none" stroke-width="0"/>
<circle cx="601.71" cy="150.38" r="1.35" fill="#000" stroke="none" stroke-width="0"/>
<circle cx="579.50" cy="149.50" r="1.35" fill="#000" stroke="none" stroke-width="0"/>
<circle cx="598.51" cy="139.94" r="1.35" fill="#000" stroke="none" stroke-width="0"/>
<circle cx="594.85" cy="137.29" r="1.35" fill="#000" stroke="none" stroke-width="0"/>
<circle cx="581.42" cy="152.91" r="1.35" fill="#000" stroke="none" stroke-width="0"/>
<circle cx="602.27" cy="145.91" r="1.35" fill="#000" stroke="none" stroke-width="0"/>
<circle cx="603.37" cy="143.28" r="1.35" fill="#000" stroke="none" stroke-width="0"/>
<circle cx="603.14" cy="142.16" r="1.35" fill="#000" stroke="none" stroke-width="0"/>
<circle cx="582.81" cy="156.62" r="1.35" fill="#000" stroke="none" stroke-width="0"/>
<circle cx="601.06" cy="146.99" r="1.35" fill="#000" stroke="none" stroke-width="0"/>
<circle cx="601.19" cy="140.50" r="1.35" fill="#000" stroke="none" stroke-width="0"/>
<circle cx="584.91" cy="159.07" r="1.35" fill="#000" stroke="none" stroke-width="0"/>
<circle cx="581.30" cy="144.20" r="1.35" fill="#000" stroke="none" stroke-width="0"/>
<circle cx="579.88" cy="149.26" r="1.35" fill="#000" stroke="none" stroke-width="0"/>
<circle cx="602.65" cy="146.95" r="1.35" fill="#000" stroke="none" stroke-width="0"/>
<circle cx="598.49" cy="155.62" r="1.35" fill="#000" stroke="none" stroke-width="0"/>
<circle cx="597.92" cy="158.55" r="1.35" fill="#000" stroke="none" stroke-width="0"/>
<circle cx="597.28" cy="138.08" r="1.35" fill="#000" stroke="none" stroke-width="0"/>
<circle cx="579.67" cy="145.03" r="1.35" fill="#000" stroke="none" stroke-width="0"/>
<circle cx="582.27" cy="147.53" r="1.35" fill="#000" stroke="none" stroke-width="0"/>
<circle cx="585.02" cy="158.57" r="1.35" fill="#000" stroke="none" stroke-width="0"/>
<circle cx="585.34" cy="157.72" r="1.35" fill="#000" stroke="none" stroke-width="0"/>
<circle cx="601.66" cy="153.38" r="1.35" fill="#000" stroke="none" stroke-width="0"/>
<circle cx="582.03" cy="154.80" r="1.35" fill="#000" stroke="none" stroke-width="0"/>
<circle cx="579.01" cy="143.66" r="1.35" fill="#000" stroke="none" stroke-width="0"/>
<circle cx="582.48" cy="150.91" r="1.35" fill="#000" stroke="none" stroke-width="0"/>
<circle cx="602.78" cy="144.08" r="1.35" fill="#000" stroke="none" stroke-width="0"/>
<circle cx="589.18" cy="161.62" r="1.35" fill="#000" stroke="none" stroke-width="0"/>
<circle cx="586.44" cy="157.59" r="1.35" fill="#000" stroke="none" stroke-width="0"/>
<circle cx="592.85" cy="161.25" r="1.35" fill="#000" stroke="none" stroke-width="0"/>
<circle cx="581.33" cy="148.79" r="1.35" fill="#000" stroke="none" stroke-width="0"/>
<circle cx="600.69" cy="151.79" r="1.35" fill="#000" stroke="none" stroke-width="0"/>
<circle cx="584.11" cy="153.93" r="1.35" fill="#000" stroke="none" stroke-width="0"/>
<circle cx="587.85" cy="159.52" r="1.35" fill="#000" stroke="none" stroke-width="0"/>
<circle cx="586.09" cy="160.40" r="1.35" fill="#000" stroke="none" stroke-width="0"/>
<circle cx="600.37" cy="150.96" r="1.35" fill="#000" stroke="none" stroke-width="0"/>
<circle cx="584.04" cy="155.67" r="1.35" fill="#000" stroke="none" stroke-width="0"/>
<circle cx="597.83" cy="139.15" r="1.35" fill="#000" stroke="none" stroke-width="0"/>
<circle cx="601.81" cy="147.96" r="1.35" fill="#000" stroke="none" stroke-width="0"/>
<circle cx="586.22" cy="137.74" r="1.35" fill="#000" stroke="none" stroke-width="0"/>
<circle cx="597.47" cy="137.91" r="1.35" fill="#000" stroke="none" stroke-width="0"/>
<circle cx="593.29" cy="160.82" r="1.35" fill="#000" stroke="none" stroke-width="0"/>
<circle cx="602.87" cy="150.43" r="1.35" fill="#000" stroke="none" stroke-width="0"/>
<circle cx="580.24" cy="149.81" r="1.35" fill="#000" stroke="none" stroke-width="0"/>
<circle cx="602.89" cy="148.42" r="1.35" fill="#000" stroke="none" stroke-width="0"/>
<circle cx="581.62" cy="151.60" r="1.35" fill="#000" stroke="none" stroke-width="0"/>
<circle cx="595.64" cy="158.93" r="1.35" fill="#000" stroke="none" stroke-width="0"/>
<circle cx="581.20" cy="146.91" r="1.35" fill="#000" stroke="none" stroke-width="0"/>
<circle cx="600.50" cy="140.67" r="1.35" fill="#000" stroke="none" stroke-width="0"/>
<circle cx="580.40" cy="142.23" r="1.35" fill="#000" stroke="none" stroke-width="0"/>
<circle cx="582.08" cy="152.74" r="1.35" fill="#000" stroke="none" stroke-width="0"/>
<circle cx="597.27" cy="138.14" r="1.35" fill="#000" stroke="none" stroke-width="0"/>
<circle cx="589.83" cy="162.72" r="1.35" fill="#000" stroke="none" stroke-width="0"/>
<circle cx="581.74" cy="154.97" r="1.35" fill="#000" stroke="none" stroke-width="0"/>
<circle cx="600.87" cy="148.93" r="1.35" fill="#000" stroke="none" stroke-width="0"/>
<circle cx="581.56" cy="149.30" r="1.35" fill="#000" stroke="none" stroke-width="0"/>
<circle cx="594.94" cy="160.42" r="1.35" fill="#000" stroke="none" stroke-width="0"/>
<circle cx="599.61" cy="139.82" r="1.35" fill="#000" stroke="none" stroke-width="0"/>
<circle cx="587.64" cy="161.06" r="1.35" fill="#000" stroke="none" stroke-width="0"/>
<circle cx="590.56" cy="162.41" r="1.35" fill="#000" stroke="none" stroke-width="0"/>
<circle cx="602.27" cy="142.91" r="1.35" fill="#000" stroke="none" stroke-width="0"/>
<circle cx="600.86" cy="146.24" r="1.35" fill="#000" stroke="none" stroke-width="0"/>
<circle cx="582.47" cy="156.00" r="1.35" fill="#000" stroke="none" stroke-width="0"/>
<circle cx="581.74" cy="153.21" r="1.35" fill="#000" stroke="none" stroke-width="0"/>
<circle cx="587.61" cy="159.85" r="1.35" fill="#000" stroke="none" stroke-width="0"/>
<circle cx="580.57" cy="147.75" r="1.35" fill="#000" stroke="none" stroke-width="0"/>
<circle cx="586.72" cy="159.46" r="1.35" fill="#000" stroke="none" stroke-width="0"/>
<circle cx="587.42" cy="159.13" r="1.35" fill="#000" stroke="none" stroke-width="0"/>
<circle cx="600.19" cy="156.26" r="1.35" fill="#000" stroke="none" stroke-width="0"/>
<circle cx="603.74" cy="145.21" r="1.35" fill="#000" stroke="none" stroke-width="0"/>
<circle cx="579.30" cy="142.06" r="1.35" fill="#000" stroke="none" stroke-width="0"/>
<circle cx="583.83" cy="140.48" r="1.35" fill="#000" stroke="none" stroke-width="0"/>
<circle cx="597.17" cy="139.29" r="1.35" fill="#000" stroke="none" stroke-width="0"/>
<circle cx="596.71" cy="158.64" r="1.35" fill="#000" stroke="none" stroke-width="0"/>
<circle cx="583.70" cy="155.33" r="1.35" fill="#000" stroke="none" stroke-width="0"/>
<circle cx="584.51" cy="154.82" r="1.35" fill="#000" stroke="none" stroke-width="0"/>
<circle cx="602.20" cy="151.82" r="1.35" fill="#000" stroke="none" stroke-width="0"/>
<circle cx="588.62" cy="162.18" r="1.35" fill="#000" stroke="none" stroke-width="0"/>
<circle cx="600.06" cy="153.50" r="1.35" fill="#000" stroke="none" stroke-width="0"/>
<circle cx="582.11" cy="154.83" r="1.35" fill="#000" stroke="none" stroke-width="0"/>
<circle cx="582.64" cy="149.53" r="1.35" fill="#000" stroke="none" stroke-width="0"/>
<circle cx="599.81" cy="151.34" r="1.35" fill="#000" stroke="none" stroke-width="0"/>
<circle cx="586.74" cy="121.51" r="1.35" fill="#000" stroke="none" stroke-width="0"/>
<circle cx="597.85" cy="121.00" r="1.35" fill="#000" stroke="none" stroke-width="0"/>
<circle cx="586.82" cy="119.81" r="1.35" fill="#000" stroke="none" stroke-width="0"/>
<circle cx="585.49" cy="130.94" r="1.35" fill="#000" stroke="none" stroke-width="0"/>
<circle cx="596.80" cy="124.21" r="1.35" fill="#000" stroke="none" stroke-width="0"/>
<circle cx="585.84" cy="124.74" r="1.35" fill="#000" stroke="none" stroke-width="0"/>
<circle cx="585.33" cy="118.25" r="1.35" fill="#000" stroke="none" stroke-width="0"/>
<circle cx="596.66" cy="121.44" r="1.35" fill="#000" stroke="none" stroke-width="0"/>
<circle cx="585.83" cy="125.03" r="1.35" fill="#000" stroke="none" stroke-width="0"/>
<circle cx="586.42" cy="119.80" r="1.35" fill="#000" stroke="none" stroke-width="0"/>
<circle cx="597.10" cy="119.61" r="1.35" fill="#000" stroke="none" stroke-width="0"/>
<circle cx="597.59" cy="121.63" r="1.35" fill="#000" stroke="none" stroke-width="0"/>
<circle cx="585.54" cy="122.91" r="1.35" fill="#000" stroke="none" stroke-width="0"/>
<circle cx="596.18" cy="132.78" r="1.35" fill="#000" stroke="none" stroke-width="0"/>
<circle cx="597.51" cy="124.27" r="1.35" fill="#000" stroke="none" stroke-width="0"/>
<circle cx="596.33" cy="132.54" r="1.35" fill="#000" stroke="none" stroke-width="0"/>
<circle cx="596.53" cy="121.51" r="1.35" fill="#000" stroke="none" stroke-width="0"/>
<circle cx="597.98" cy="119.92" r="1.35" fill="#000" stroke="none" stroke-width="0"/>
<circle cx="586.61" cy="135.15" r="1.35" fill="#000" stroke="none" stroke-width="0"/>
<circle cx="596.61" cy="135.95" r="1.35" fill="#000" stroke="none" stroke-width="0"/>
<circle cx="585.98" cy="130.54" r="1.35" fill="#000" stroke="none" stroke-width="0"/>
<circle cx="597.25" cy="125.40" r="1.35" fill="#000" stroke="none" stroke-width="0"/>
<circle cx="597.96" cy="131.32" r="1.35" fill="#000" stroke="none" stroke-width="0"/>
<circle cx="585.55" cy="118.43" r="1.35" fill="#000" stroke="none" stroke-width="0"/>
<circle cx="596.96" cy="122.88" r="1.35" fill="#000" stroke="none" stroke-width="0"/>
<circle cx="595.92" cy="132.46" r="1.35" fill="#000" stroke="none" stroke-width="0"/>
<circle cx="597.80" cy="122.91" r="1.35" fill="#000" stroke="none" stroke-width="0"/>
<circle cx="597.93" cy="128.45" r="1.35" fill="#000" stroke="none" stroke-width="0"/>
<circle cx="585.76" cy="128.79" r="1.35" fill="#000" stroke="none" stroke-width="0"/>
<circle cx="585.95" cy="133.38" r="1.35" fill="#000" stroke="none" stroke-width="0"/>
<circle cx="586.29" cy="130.70" r="1.35" fill="#000" stroke="none" stroke-width="0"/>
<circle cx="596.89" cy="135.83" r="1.35" fill="#000" stroke="none" stroke-width="0"/>
<circle cx="597.04" cy="121.21" r="1.35" fill="#000" stroke="none" stroke-width="0"/>
<circle cx="597.89" cy="129.33" r="1.35" fill="#000" stroke="none" stroke-width="0"/>
<circle cx="597.16" cy="125.99" r="1.35" fill="#000" stroke="none" stroke-width="0"/>
<circle cx="596.91" cy="124.95" r="1.35" fill="#000" stroke="none" stroke-width="0"/>
<circle cx="576.40" cy="86.00" r="1.35" fill="#3a6fc4" stroke="none" stroke-width="0"/>
<circle cx="583.50" cy="90.70" r="1.35" fill="#3a6fc4" stroke="none" stroke-width="0"/>
<circle cx="583.20" cy="115.60" r="1.35" fill="#3a6fc4" stroke="none" stroke-width="0"/>
<circle cx="582.80" cy="117.80" r="1.35" fill="#3a6fc4" stroke="none" stroke-width="0"/>
<circle cx="578.50" cy="125.60" r="1.35" fill="#3a6fc4" stroke="none" stroke-width="0"/>
<circle cx="580.70" cy="127.00" r="1.35" fill="#3a6fc4" stroke="none" stroke-width="0"/>
<circle cx="583.50" cy="124.20" r="1.35" fill="#3a6fc4" stroke="none" stroke-width="0"/>
<circle cx="582.80" cy="129.90" r="1.35" fill="#3a6fc4" stroke="none" stroke-width="0"/>
<circle cx="580.00" cy="132.70" r="1.35" fill="#3a6fc4" stroke="none" stroke-width="0"/>
<circle cx="579.30" cy="137.00" r="1.35" fill="#3a6fc4" stroke="none" stroke-width="0"/>
<circle cx="583.50" cy="134.20" r="1.35" fill="#3a6fc4" stroke="none" stroke-width="0"/>
<circle cx="584.50" cy="130.00" r="1.35" fill="#3a6fc4" stroke="none" stroke-width="0"/>
<circle cx="584.00" cy="121.00" r="1.35" fill="#3a6fc4" stroke="none" stroke-width="0"/>
<circle cx="581.50" cy="129.00" r="1.35" fill="#3a6fc4" stroke="none" stroke-width="0"/>
<circle cx="579.50" cy="128.50" r="1.35" fill="#3a6fc4" stroke="none" stroke-width="0"/>
<circle cx="582.00" cy="135.50" r="1.35" fill="#3a6fc4" stroke="none" stroke-width="0"/>
<circle cx="584.20" cy="127.50" r="1.35" fill="#3a6fc4" stroke="none" stroke-width="0"/>
<circle cx="583.80" cy="133.00" r="1.35" fill="#3a6fc4" stroke="none" stroke-width="0"/>
<circle cx="581.00" cy="131.50" r="1.35" fill="#3a6fc4" stroke="none" stroke-width="0"/>
<circle cx="601.00" cy="135.21" r="1.45" fill="#e8312a" stroke="none" stroke-width="0"/>
<circle cx="604.51" cy="129.30" r="1.45" fill="#e8312a" stroke="none" stroke-width="0"/>
<circle cx="598.84" cy="130.11" r="1.45" fill="#e8312a" stroke="none" stroke-width="0"/>
<circle cx="603.81" cy="125.57" r="1.45" fill="#e8312a" stroke="none" stroke-width="0"/>
<circle cx="602.24" cy="127.24" r="1.45" fill="#e8312a" stroke="none" stroke-width="0"/>
<circle cx="599.07" cy="115.24" r="1.45" fill="#e8312a" stroke="none" stroke-width="0"/>
<circle cx="602.14" cy="123.91" r="1.45" fill="#e8312a" stroke="none" stroke-width="0"/>
<circle cx="605.04" cy="115.38" r="1.45" fill="#e8312a" stroke="none" stroke-width="0"/>
<circle cx="605.70" cy="112.27" r="1.45" fill="#e8312a" stroke="none" stroke-width="0"/>
<circle cx="605.00" cy="113.15" r="1.45" fill="#e8312a" stroke="none" stroke-width="0"/>
<circle cx="599.48" cy="131.33" r="1.45" fill="#e8312a" stroke="none" stroke-width="0"/>
<circle cx="607.14" cy="112.97" r="1.45" fill="#e8312a" stroke="none" stroke-width="0"/>
<circle cx="604.89" cy="106.64" r="1.45" fill="#e8312a" stroke="none" stroke-width="0"/>
<circle cx="602.31" cy="108.83" r="1.45" fill="#e8312a" stroke="none" stroke-width="0"/>
<circle cx="606.26" cy="116.59" r="1.45" fill="#e8312a" stroke="none" stroke-width="0"/>
<circle cx="599.98" cy="116.81" r="1.45" fill="#e8312a" stroke="none" stroke-width="0"/>
<circle cx="599.84" cy="118.55" r="1.45" fill="#e8312a" stroke="none" stroke-width="0"/>
<circle cx="603.95" cy="125.79" r="1.45" fill="#e8312a" stroke="none" stroke-width="0"/>
<circle cx="604.67" cy="116.83" r="1.45" fill="#e8312a" stroke="none" stroke-width="0"/>
<circle cx="605.22" cy="131.49" r="1.45" fill="#e8312a" stroke="none" stroke-width="0"/>
<circle cx="599.82" cy="114.43" r="1.45" fill="#e8312a" stroke="none" stroke-width="0"/>
<circle cx="599.75" cy="120.64" r="1.45" fill="#e8312a" stroke="none" stroke-width="0"/>
<circle cx="603.08" cy="115.03" r="1.45" fill="#e8312a" stroke="none" stroke-width="0"/>
<circle cx="603.12" cy="132.51" r="1.45" fill="#e8312a" stroke="none" stroke-width="0"/>
<circle cx="601.05" cy="124.82" r="1.45" fill="#e8312a" stroke="none" stroke-width="0"/>
<circle cx="605.05" cy="127.72" r="1.45" fill="#e8312a" stroke="none" stroke-width="0"/>
<circle cx="600.29" cy="114.06" r="1.45" fill="#e8312a" stroke="none" stroke-width="0"/>
<circle cx="600.73" cy="135.94" r="1.45" fill="#e8312a" stroke="none" stroke-width="0"/>
<circle cx="603.07" cy="126.22" r="1.45" fill="#e8312a" stroke="none" stroke-width="0"/>
<circle cx="600.34" cy="127.20" r="1.45" fill="#e8312a" stroke="none" stroke-width="0"/>
<circle cx="604.19" cy="105.31" r="1.45" fill="#e8312a" stroke="none" stroke-width="0"/>
<circle cx="600.91" cy="105.87" r="1.45" fill="#e8312a" stroke="none" stroke-width="0"/>
<circle cx="598.94" cy="112.23" r="1.45" fill="#e8312a" stroke="none" stroke-width="0"/>
<circle cx="601.08" cy="129.56" r="1.45" fill="#e8312a" stroke="none" stroke-width="0"/>
<circle cx="600.69" cy="136.90" r="1.45" fill="#e8312a" stroke="none" stroke-width="0"/>
<circle cx="602.91" cy="116.51" r="1.45" fill="#e8312a" stroke="none" stroke-width="0"/>
<circle cx="601.61" cy="121.07" r="1.45" fill="#e8312a" stroke="none" stroke-width="0"/>
<circle cx="599.79" cy="133.26" r="1.45" fill="#e8312a" stroke="none" stroke-width="0"/>
<circle cx="605.74" cy="119.54" r="1.45" fill="#e8312a" stroke="none" stroke-width="0"/>
<circle cx="605.92" cy="132.23" r="1.45" fill="#e8312a" stroke="none" stroke-width="0"/>
<circle cx="605.44" cy="119.44" r="1.45" fill="#e8312a" stroke="none" stroke-width="0"/>
<circle cx="605.25" cy="117.68" r="1.45" fill="#e8312a" stroke="none" stroke-width="0"/>
<circle cx="599.94" cy="109.99" r="1.45" fill="#e8312a" stroke="none" stroke-width="0"/>
<circle cx="606.04" cy="124.39" r="1.45" fill="#e8312a" stroke="none" stroke-width="0"/>
<circle cx="601.19" cy="129.67" r="1.45" fill="#e8312a" stroke="none" stroke-width="0"/>
<circle cx="604.42" cy="123.87" r="1.45" fill="#e8312a" stroke="none" stroke-width="0"/>
<circle cx="602.71" cy="115.53" r="1.45" fill="#e8312a" stroke="none" stroke-width="0"/>
<circle cx="603.44" cy="119.04" r="1.45" fill="#e8312a" stroke="none" stroke-width="0"/>
<circle cx="603.65" cy="131.50" r="1.45" fill="#e8312a" stroke="none" stroke-width="0"/>
<circle cx="602.73" cy="131.76" r="1.45" fill="#e8312a" stroke="none" stroke-width="0"/>
<circle cx="598.68" cy="115.08" r="1.45" fill="#e8312a" stroke="none" stroke-width="0"/>
<circle cx="606.71" cy="124.62" r="1.45" fill="#e8312a" stroke="none" stroke-width="0"/>
<circle cx="604.79" cy="121.08" r="1.45" fill="#e8312a" stroke="none" stroke-width="0"/>
<circle cx="605.40" cy="115.66" r="1.45" fill="#e8312a" stroke="none" stroke-width="0"/>
<circle cx="606.45" cy="112.11" r="1.45" fill="#e8312a" stroke="none" stroke-width="0"/>
<circle cx="604.45" cy="115.63" r="1.45" fill="#e8312a" stroke="none" stroke-width="0"/>
<circle cx="606.67" cy="115.48" r="1.45" fill="#e8312a" stroke="none" stroke-width="0"/>
<circle cx="602.52" cy="124.33" r="1.45" fill="#e8312a" stroke="none" stroke-width="0"/>
<circle cx="606.63" cy="127.33" r="1.45" fill="#e8312a" stroke="none" stroke-width="0"/>
<circle cx="601.08" cy="122.23" r="1.45" fill="#e8312a" stroke="none" stroke-width="0"/>
<circle cx="607.43" cy="119.89" r="1.45" fill="#e8312a" stroke="none" stroke-width="0"/>
<circle cx="600.57" cy="136.45" r="1.45" fill="#e8312a" stroke="none" stroke-width="0"/>
<circle cx="605.10" cy="121.78" r="1.45" fill="#e8312a" stroke="none" stroke-width="0"/>
<circle cx="599.35" cy="131.93" r="1.45" fill="#e8312a" stroke="none" stroke-width="0"/>
<circle cx="598.81" cy="127.00" r="1.45" fill="#e8312a" stroke="none" stroke-width="0"/>
<circle cx="603.80" cy="130.87" r="1.45" fill="#e8312a" stroke="none" stroke-width="0"/>
<circle cx="605.18" cy="116.97" r="1.45" fill="#e8312a" stroke="none" stroke-width="0"/>
<circle cx="602.07" cy="110.03" r="1.45" fill="#e8312a" stroke="none" stroke-width="0"/>
<circle cx="603.86" cy="110.76" r="1.45" fill="#e8312a" stroke="none" stroke-width="0"/>
<circle cx="599.40" cy="119.77" r="1.45" fill="#e8312a" stroke="none" stroke-width="0"/>
<circle cx="606.21" cy="131.39" r="1.45" fill="#e8312a" stroke="none" stroke-width="0"/>
<circle cx="598.50" cy="83.10" r="1.3" fill="#e8312a" stroke="none" stroke-width="0"/>
<circle cx="601.30" cy="97.10" r="1.3" fill="#e8312a" stroke="none" stroke-width="0"/>
<circle cx="599.90" cy="101.40" r="1.3" fill="#e8312a" stroke="none" stroke-width="0"/>
<circle cx="602.00" cy="100.00" r="1.3" fill="#e8312a" stroke="none" stroke-width="0"/>
<circle cx="614.60" cy="102.10" r="1.3" fill="#e8312a" stroke="none" stroke-width="0"/>
<circle cx="599.20" cy="107.10" r="1.3" fill="#e8312a" stroke="none" stroke-width="0"/>
<circle cx="602.80" cy="110.60" r="1.3" fill="#e8312a" stroke="none" stroke-width="0"/>
<circle cx="607.80" cy="109.90" r="1.3" fill="#e8312a" stroke="none" stroke-width="0"/>
<circle cx="605.60" cy="113.50" r="1.3" fill="#e8312a" stroke="none" stroke-width="0"/>
<circle cx="604.90" cy="120.60" r="1.3" fill="#e8312a" stroke="none" stroke-width="0"/>
<circle cx="606.30" cy="122.80" r="1.3" fill="#e8312a" stroke="none" stroke-width="0"/>
<circle cx="607.00" cy="129.20" r="1.3" fill="#e8312a" stroke="none" stroke-width="0"/>
<circle cx="604.90" cy="132.70" r="1.3" fill="#e8312a" stroke="none" stroke-width="0"/>
<circle cx="607.00" cy="134.90" r="1.3" fill="#e8312a" stroke="none" stroke-width="0"/>
<circle cx="599.20" cy="135.60" r="1.3" fill="#e8312a" stroke="none" stroke-width="0"/>
<circle cx="622.70" cy="114.20" r="1.3" fill="#e8312a" stroke="none" stroke-width="0"/>
<circle cx="624.10" cy="121.60" r="1.3" fill="#e8312a" stroke="none" stroke-width="0"/>
<circle cx="608.00" cy="126.00" r="1.3" fill="#e8312a" stroke="none" stroke-width="0"/>
<circle cx="607.50" cy="118.00" r="1.3" fill="#e8312a" stroke="none" stroke-width="0"/>
<circle cx="587.80" cy="88.60" r="1.4" fill="#000" stroke="none" stroke-width="0"/>
<circle cx="595.60" cy="86.40" r="1.4" fill="#000" stroke="none" stroke-width="0"/>
<circle cx="594.20" cy="95.70" r="1.4" fill="#000" stroke="none" stroke-width="0"/>
<circle cx="594.90" cy="98.50" r="1.4" fill="#000" stroke="none" stroke-width="0"/>
<circle cx="589.50" cy="101.10" r="1.4" fill="#000" stroke="none" stroke-width="0"/>
<circle cx="594.90" cy="103.50" r="1.4" fill="#000" stroke="none" stroke-width="0"/>
<circle cx="587.10" cy="106.40" r="1.4" fill="#000" stroke="none" stroke-width="0"/>
<circle cx="594.90" cy="106.40" r="1.4" fill="#000" stroke="none" stroke-width="0"/>
<circle cx="588.50" cy="110.60" r="1.4" fill="#000" stroke="none" stroke-width="0"/>
<circle cx="586.40" cy="114.20" r="1.4" fill="#000" stroke="none" stroke-width="0"/>
<circle cx="594.20" cy="112.80" r="1.4" fill="#000" stroke="none" stroke-width="0"/>
<circle cx="590.60" cy="115.50" r="1.4" fill="#000" stroke="none" stroke-width="0"/>
<circle cx="586.80" cy="117.00" r="1.4" fill="#000" stroke="none" stroke-width="0"/>
<circle cx="596.00" cy="116.00" r="1.4" fill="#000" stroke="none" stroke-width="0"/>
<circle cx="589.00" cy="112.50" r="1.4" fill="#000" stroke="none" stroke-width="0"/>
<circle cx="595.80" cy="100.50" r="1.4" fill="#000" stroke="none" stroke-width="0"/>
<circle cx="596.50" cy="109.50" r="1.4" fill="#000" stroke="none" stroke-width="0"/>
<circle cx="587.50" cy="104.00" r="1.4" fill="#000" stroke="none" stroke-width="0"/>
<circle cx="588.20" cy="108.00" r="1.4" fill="#000" stroke="none" stroke-width="0"/>
<circle cx="596.20" cy="113.50" r="1.4" fill="#000" stroke="none" stroke-width="0"/>
<circle cx="597.00" cy="104.80" r="1.4" fill="#000" stroke="none" stroke-width="0"/>
<circle cx="586.20" cy="111.50" r="1.4" fill="#000" stroke="none" stroke-width="0"/>
<circle cx="658.30" cy="59.90" r="1.35" fill="#e8312a" stroke="none" stroke-width="0"/>
<circle cx="631.30" cy="66.30" r="1.35" fill="#e8312a" stroke="none" stroke-width="0"/>
<circle cx="646.30" cy="89.10" r="1.35" fill="#e8312a" stroke="none" stroke-width="0"/>
<circle cx="641.00" cy="105.00" r="1.35" fill="#e8312a" stroke="none" stroke-width="0"/>
<circle cx="622.60" cy="114.60" r="1.35" fill="#e8312a" stroke="none" stroke-width="0"/>
<circle cx="634.20" cy="114.20" r="1.35" fill="#e8312a" stroke="none" stroke-width="0"/>
<text x="583.70" y="69.80" font-size="7.3" text-anchor="start" fill="#1a1a1a"  style="">MASE_18005</text>
<text x="636.50" y="69.80" font-size="7.3" text-anchor="start" fill="#1a1a1a"  style="">MASE_18035</text>
<text x="635.50" y="85.40" font-size="7.3" text-anchor="start" fill="#1a1a1a"  style="">MASE_18025</text>
<text x="631.80" y="101.90" font-size="7.3" text-anchor="start" fill="#1a1a1a"  style="">MASE_18010</text>
<text x="616.90" y="111.70" font-size="7.3" text-anchor="start" fill="#1a1a1a"  style="">MASE_17990</text>
<text x="630.70" y="122.60" font-size="7.3" text-anchor="start" fill="#1a1a1a"  style="">MASE_18000</text>
<text x="615.20" y="132.00" font-size="7.3" text-anchor="start" fill="#1a1a1a"  style="">MASE_17995</text>
<line x1="48.30" y1="265.80" x2="48.30" y2="352.10" stroke="#1e1e1e" stroke-width="1.2" />
<line x1="48.30" y1="352.10" x2="196.50" y2="352.10" stroke="#1e1e1e" stroke-width="1.2" />
<line x1="37.40" y1="352.00" x2="48.30" y2="352.00" stroke="#1e1e1e" stroke-width="1.1" />
<line x1="41.00" y1="343.38" x2="48.30" y2="343.38" stroke="#1e1e1e" stroke-width="1.1" />
<line x1="41.00" y1="334.76" x2="48.30" y2="334.76" stroke="#1e1e1e" stroke-width="1.1" />
<line x1="41.00" y1="326.14" x2="48.30" y2="326.14" stroke="#1e1e1e" stroke-width="1.1" />
<line x1="41.00" y1="317.52" x2="48.30" y2="317.52" stroke="#1e1e1e" stroke-width="1.1" />
<line x1="37.40" y1="308.90" x2="48.30" y2="308.90" stroke="#1e1e1e" stroke-width="1.1" />
<line x1="41.00" y1="300.28" x2="48.30" y2="300.28" stroke="#1e1e1e" stroke-width="1.1" />
<line x1="41.00" y1="291.66" x2="48.30" y2="291.66" stroke="#1e1e1e" stroke-width="1.1" />
<line x1="41.00" y1="283.04" x2="48.30" y2="283.04" stroke="#1e1e1e" stroke-width="1.1" />
<line x1="41.00" y1="274.42" x2="48.30" y2="274.42" stroke="#1e1e1e" stroke-width="1.1" />
<line x1="37.40" y1="265.80" x2="48.30" y2="265.80" stroke="#1e1e1e" stroke-width="1.1" />
<text x="33.20" y="270.10" font-size="12" text-anchor="end" fill="#1a1a1a"  style="">100</text>
<text x="33.20" y="313.20" font-size="12" text-anchor="end" fill="#1a1a1a"  style="">50</text>
<text x="33.20" y="356.30" font-size="12" text-anchor="end" fill="#1a1a1a"  style="">0</text>
<line x1="48.30" y1="352.10" x2="48.30" y2="363.10" stroke="#1e1e1e" stroke-width="1.1" />
<line x1="60.60" y1="352.10" x2="60.60" y2="358.70" stroke="#1e1e1e" stroke-width="1.1" />
<line x1="72.90" y1="352.10" x2="72.90" y2="358.70" stroke="#1e1e1e" stroke-width="1.1" />
<line x1="85.20" y1="352.10" x2="85.20" y2="358.70" stroke="#1e1e1e" stroke-width="1.1" />
<line x1="97.50" y1="352.10" x2="97.50" y2="363.10" stroke="#1e1e1e" stroke-width="1.1" />
<line x1="109.80" y1="352.10" x2="109.80" y2="358.70" stroke="#1e1e1e" stroke-width="1.1" />
<line x1="122.10" y1="352.10" x2="122.10" y2="358.70" stroke="#1e1e1e" stroke-width="1.1" />
<line x1="134.40" y1="352.10" x2="134.40" y2="358.70" stroke="#1e1e1e" stroke-width="1.1" />
<line x1="146.70" y1="352.10" x2="146.70" y2="363.10" stroke="#1e1e1e" stroke-width="1.1" />
<line x1="159.00" y1="352.10" x2="159.00" y2="358.70" stroke="#1e1e1e" stroke-width="1.1" />
<line x1="171.30" y1="352.10" x2="171.30" y2="358.70" stroke="#1e1e1e" stroke-width="1.1" />
<line x1="183.60" y1="352.10" x2="183.60" y2="358.70" stroke="#1e1e1e" stroke-width="1.1" />
<line x1="195.90" y1="352.10" x2="195.90" y2="363.10" stroke="#1e1e1e" stroke-width="1.1" />
<text x="48.20" y="377.90" font-size="12" text-anchor="middle" fill="#1a1a1a"  style="">0</text>
<text x="96.50" y="377.90" font-size="12" text-anchor="middle" fill="#1a1a1a"  style="">2</text>
<text x="146.30" y="377.90" font-size="12" text-anchor="middle" fill="#1a1a1a"  style="">4</text>
<text x="195.30" y="377.90" font-size="12" text-anchor="middle" fill="#1a1a1a"  style="">6</text>
<text x="131.50" y="390.90" font-size="12" text-anchor="middle" fill="#1a1a1a"  style="">Time (min)</text>
<text transform="translate(11.5,307.6) rotate(-90)" font-size="12" text-anchor="middle" fill="#1a1a1a">Relative abundance (%)</text>
<text x="43.8" y="217.9" font-size="9.3" fill="#1a1a1a">EIC - <tspan font-style="italic">m/z</tspan> = 243.0170</text>
<polyline points="100.00,300.50 125.80,300.20 131.80,298.50 132.80,297.00 134.20,274.60 135.00,238.90 135.80,226.00 136.60,222.60 137.30,226.00 137.80,236.90 138.80,264.70 139.80,278.60 140.70,277.20 141.70,277.60 143.30,284.60 145.70,293.50 148.00,296.80 151.70,298.50 159.60,300.00 247.70,300.30" fill="none" stroke="#111" stroke-width="1.2" stroke-linejoin="round" />
<text x="187.30" y="296.90" font-size="10.75" text-anchor="start" fill="#1a1a1a"  style="">SQ standard</text>
<polyline points="75.20,325.20 120.90,325.20 123.00,324.20 125.00,323.50 127.00,322.80 129.00,323.20 131.00,322.90 133.00,323.60 134.80,325.20 222.90,325.20" fill="none" stroke="#8a1a1e" stroke-width="1.4" stroke-linejoin="round" />
<text x="143.1" y="322" font-size="10.75" fill="#1a1a1a">without <tspan font-style="italic">Am</tspan>SqgH</text>
<polyline points="48.30,351.80 84.00,351.80 85.00,350.50 86.50,346.50 87.50,347.50 88.50,349.00 89.30,349.50 90.00,345.00 90.80,330.00 91.50,305.00 92.30,288.30 93.20,292.00 94.30,304.00 95.50,318.00 96.50,325.50 97.80,336.00 99.00,341.50 100.50,342.80 101.50,345.00 103.00,347.00 104.50,347.50 106.00,348.50 107.00,349.80 108.00,348.20 109.50,348.50 110.50,351.50 112.00,351.80 122.00,351.80 123.00,351.00 124.50,351.80 196.00,351.80" fill="none" stroke="#3b9a3b" stroke-width="1.2" stroke-linejoin="round" />
<text x="135.1" y="348.2" font-size="10.75" fill="#1a1a1a">with <tspan font-style="italic">Am</tspan>SqgH</text>
<line x1="94.70" y1="349.80" x2="142.10" y2="300.80" stroke="#111" stroke-width="1.1" stroke-dasharray="3.2,2.4"/>
<line x1="301.40" y1="232.50" x2="301.40" y2="285.30" stroke="#1e1e1e" stroke-width="1.2" />
<line x1="301.40" y1="285.30" x2="458.50" y2="285.30" stroke="#1e1e1e" stroke-width="1.2" />
<line x1="293.00" y1="285.30" x2="301.40" y2="285.30" stroke="#1e1e1e" stroke-width="1.1" />
<line x1="295.60" y1="280.02" x2="301.40" y2="280.02" stroke="#1e1e1e" stroke-width="1.1" />
<line x1="295.60" y1="274.74" x2="301.40" y2="274.74" stroke="#1e1e1e" stroke-width="1.1" />
<line x1="295.60" y1="269.46" x2="301.40" y2="269.46" stroke="#1e1e1e" stroke-width="1.1" />
<line x1="295.60" y1="264.18" x2="301.40" y2="264.18" stroke="#1e1e1e" stroke-width="1.1" />
<line x1="293.00" y1="258.90" x2="301.40" y2="258.90" stroke="#1e1e1e" stroke-width="1.1" />
<line x1="295.60" y1="253.62" x2="301.40" y2="253.62" stroke="#1e1e1e" stroke-width="1.1" />
<line x1="295.60" y1="248.34" x2="301.40" y2="248.34" stroke="#1e1e1e" stroke-width="1.1" />
<line x1="295.60" y1="243.06" x2="301.40" y2="243.06" stroke="#1e1e1e" stroke-width="1.1" />
<line x1="295.60" y1="237.78" x2="301.40" y2="237.78" stroke="#1e1e1e" stroke-width="1.1" />
<line x1="293.00" y1="232.50" x2="301.40" y2="232.50" stroke="#1e1e1e" stroke-width="1.1" />
<line x1="301.40" y1="301.50" x2="301.40" y2="353.60" stroke="#1e1e1e" stroke-width="1.2" />
<line x1="301.40" y1="353.60" x2="459.00" y2="353.60" stroke="#1e1e1e" stroke-width="1.2" />
<line x1="293.00" y1="353.60" x2="301.40" y2="353.60" stroke="#1e1e1e" stroke-width="1.1" />
<line x1="295.60" y1="348.39" x2="301.40" y2="348.39" stroke="#1e1e1e" stroke-width="1.1" />
<line x1="295.60" y1="343.18" x2="301.40" y2="343.18" stroke="#1e1e1e" stroke-width="1.1" />
<line x1="295.60" y1="337.97" x2="301.40" y2="337.97" stroke="#1e1e1e" stroke-width="1.1" />
<line x1="295.60" y1="332.76" x2="301.40" y2="332.76" stroke="#1e1e1e" stroke-width="1.1" />
<line x1="293.00" y1="327.55" x2="301.40" y2="327.55" stroke="#1e1e1e" stroke-width="1.1" />
<line x1="295.60" y1="322.34" x2="301.40" y2="322.34" stroke="#1e1e1e" stroke-width="1.1" />
<line x1="295.60" y1="317.13" x2="301.40" y2="317.13" stroke="#1e1e1e" stroke-width="1.1" />
<line x1="295.60" y1="311.92" x2="301.40" y2="311.92" stroke="#1e1e1e" stroke-width="1.1" />
<line x1="295.60" y1="306.71" x2="301.40" y2="306.71" stroke="#1e1e1e" stroke-width="1.1" />
<line x1="293.00" y1="301.50" x2="301.40" y2="301.50" stroke="#1e1e1e" stroke-width="1.1" />
<text x="286.50" y="238.20" font-size="12" text-anchor="end" fill="#1a1a1a"  style="">100</text>
<text x="286.50" y="262.60" font-size="12" text-anchor="end" fill="#1a1a1a"  style="">50</text>
<text x="286.50" y="289.00" font-size="12" text-anchor="end" fill="#1a1a1a"  style="">0</text>
<text x="289.20" y="307.10" font-size="12" text-anchor="end" fill="#1a1a1a"  style="">100</text>
<text x="289.20" y="329.90" font-size="12" text-anchor="end" fill="#1a1a1a"  style="">50</text>
<text x="289.20" y="357.00" font-size="12" text-anchor="end" fill="#1a1a1a"  style="">0</text>
<line x1="308.60" y1="353.70" x2="308.60" y2="359.50" stroke="#1e1e1e" stroke-width="1.1" />
<line x1="323.55" y1="353.70" x2="323.55" y2="359.50" stroke="#1e1e1e" stroke-width="1.1" />
<line x1="338.50" y1="353.70" x2="338.50" y2="362.20" stroke="#1e1e1e" stroke-width="1.1" />
<line x1="353.45" y1="353.70" x2="353.45" y2="359.50" stroke="#1e1e1e" stroke-width="1.1" />
<line x1="368.40" y1="353.70" x2="368.40" y2="359.50" stroke="#1e1e1e" stroke-width="1.1" />
<line x1="383.35" y1="353.70" x2="383.35" y2="359.50" stroke="#1e1e1e" stroke-width="1.1" />
<line x1="398.30" y1="353.70" x2="398.30" y2="359.50" stroke="#1e1e1e" stroke-width="1.1" />
<line x1="413.25" y1="353.70" x2="413.25" y2="362.20" stroke="#1e1e1e" stroke-width="1.1" />
<line x1="428.20" y1="353.70" x2="428.20" y2="359.50" stroke="#1e1e1e" stroke-width="1.1" />
<line x1="443.15" y1="353.70" x2="443.15" y2="359.50" stroke="#1e1e1e" stroke-width="1.1" />
<text x="338.50" y="377.30" font-size="12" text-anchor="middle" fill="#1a1a1a"  style="">100</text>
<text x="413.25" y="377.30" font-size="12" text-anchor="middle" fill="#1a1a1a"  style="">200</text>
<text x="375.00" y="390.50" font-size="12" text-anchor="middle" fill="#1a1a1a"  style="font-style:italic">m/z</text>
<text transform="translate(260.8,307.6) rotate(-90)" font-size="12" text-anchor="middle" fill="#1a1a1a">Relative abundance (%)</text>
<text x="295.50" y="217.80" font-size="9.3" text-anchor="start" fill="#1a1a1a"  style="">Full ms2 243.0170 @ 20</text>
<text x="312.90" y="241.40" font-size="10.45" text-anchor="start" fill="#1a1a1a"  style="">SQ standard</text>
<text x="312.9" y="305.5" font-size="10.2" fill="#1a1a1a">with <tspan font-style="italic">Am</tspan>SqgH</text>
<line x1="445.60" y1="233.20" x2="445.60" y2="285.60" stroke="#555" stroke-width="0.9" />
<line x1="400.40" y1="276.30" x2="400.40" y2="285.60" stroke="#555" stroke-width="0.9" />
<line x1="378.40" y1="280.30" x2="378.40" y2="285.60" stroke="#555" stroke-width="0.9" />
<line x1="355.30" y1="283.00" x2="355.30" y2="285.60" stroke="#555" stroke-width="0.9" />
<line x1="324.70" y1="283.60" x2="324.70" y2="285.60" stroke="#555" stroke-width="0.9" />
<line x1="418.40" y1="282.90" x2="418.40" y2="285.60" stroke="#555" stroke-width="0.9" />
<line x1="341.00" y1="284.30" x2="341.00" y2="285.60" stroke="#555" stroke-width="0.9" />
<line x1="365.00" y1="284.60" x2="365.00" y2="285.60" stroke="#555" stroke-width="0.9" />
<line x1="430.00" y1="284.80" x2="430.00" y2="285.60" stroke="#555" stroke-width="0.9" />
<text x="308.90" y="279.60" font-size="9.2" text-anchor="start" fill="#1a1a1a"  style="">80.9637</text>
<text x="351.80" y="277.80" font-size="9.2" text-anchor="start" fill="#1a1a1a"  style="">152.9853</text>
<text x="393.30" y="273.40" font-size="9.2" text-anchor="start" fill="#1a1a1a"  style="">182.9960</text>
<text x="416.60" y="230.30" font-size="9.2" text-anchor="start" fill="#1a1a1a"  style="">243.0179</text>
<line x1="312.40" y1="344.40" x2="312.40" y2="353.70" stroke="#6a6a6a" stroke-width="0.9" />
<line x1="325.50" y1="333.50" x2="325.50" y2="353.70" stroke="#6a6a6a" stroke-width="0.9" />
<line x1="332.60" y1="351.00" x2="332.60" y2="353.70" stroke="#6a6a6a" stroke-width="0.9" />
<line x1="343.40" y1="339.70" x2="343.40" y2="353.70" stroke="#6a6a6a" stroke-width="0.9" />
<line x1="354.50" y1="343.20" x2="354.50" y2="353.70" stroke="#6a6a6a" stroke-width="0.9" />
<line x1="363.20" y1="347.60" x2="363.20" y2="353.70" stroke="#6a6a6a" stroke-width="0.9" />
<line x1="373.00" y1="345.80" x2="373.00" y2="353.70" stroke="#6a6a6a" stroke-width="0.9" />
<line x1="375.50" y1="347.00" x2="375.50" y2="353.70" stroke="#6a6a6a" stroke-width="0.9" />
<line x1="381.60" y1="345.80" x2="381.60" y2="353.70" stroke="#6a6a6a" stroke-width="0.9" />
<line x1="383.50" y1="348.00" x2="383.50" y2="353.70" stroke="#6a6a6a" stroke-width="0.9" />
<line x1="385.00" y1="347.00" x2="385.00" y2="353.70" stroke="#6a6a6a" stroke-width="0.9" />
<line x1="392.00" y1="342.30" x2="392.00" y2="353.70" stroke="#6a6a6a" stroke-width="0.9" />
<line x1="394.60" y1="343.20" x2="394.60" y2="353.70" stroke="#6a6a6a" stroke-width="0.9" />
<line x1="395.60" y1="346.00" x2="395.60" y2="353.70" stroke="#6a6a6a" stroke-width="0.9" />
<line x1="405.70" y1="348.50" x2="405.70" y2="353.70" stroke="#6a6a6a" stroke-width="0.9" />
<line x1="414.30" y1="341.70" x2="414.30" y2="353.70" stroke="#6a6a6a" stroke-width="0.9" />
<line x1="416.00" y1="346.00" x2="416.00" y2="353.70" stroke="#6a6a6a" stroke-width="0.9" />
<line x1="445.40" y1="300.80" x2="445.40" y2="353.70" stroke="#6a6a6a" stroke-width="0.9" />
<line x1="336.00" y1="350.00" x2="336.00" y2="353.70" stroke="#6a6a6a" stroke-width="0.9" />
<line x1="348.00" y1="351.00" x2="348.00" y2="353.70" stroke="#6a6a6a" stroke-width="0.9" />
<line x1="358.00" y1="350.00" x2="358.00" y2="353.70" stroke="#6a6a6a" stroke-width="0.9" />
<line x1="366.00" y1="350.50" x2="366.00" y2="353.70" stroke="#6a6a6a" stroke-width="0.9" />
<line x1="371.00" y1="349.00" x2="371.00" y2="353.70" stroke="#6a6a6a" stroke-width="0.9" />
<line x1="378.00" y1="350.00" x2="378.00" y2="353.70" stroke="#6a6a6a" stroke-width="0.9" />
<line x1="388.00" y1="349.00" x2="388.00" y2="353.70" stroke="#6a6a6a" stroke-width="0.9" />
<line x1="398.00" y1="350.00" x2="398.00" y2="353.70" stroke="#6a6a6a" stroke-width="0.9" />
<line x1="402.00" y1="349.00" x2="402.00" y2="353.70" stroke="#6a6a6a" stroke-width="0.9" />
<line x1="410.00" y1="349.50" x2="410.00" y2="353.70" stroke="#6a6a6a" stroke-width="0.9" />
<line x1="420.00" y1="350.50" x2="420.00" y2="353.70" stroke="#6a6a6a" stroke-width="0.9" />
<line x1="428.00" y1="351.00" x2="428.00" y2="353.70" stroke="#6a6a6a" stroke-width="0.9" />
<line x1="435.00" y1="351.50" x2="435.00" y2="353.70" stroke="#6a6a6a" stroke-width="0.9" />
<line x1="440.00" y1="351.50" x2="440.00" y2="353.70" stroke="#6a6a6a" stroke-width="0.9" />
<line x1="370.00" y1="350.75" x2="370.00" y2="353.70" stroke="#7a7a7a" stroke-width="0.8" />
<line x1="370.60" y1="349.52" x2="370.60" y2="353.70" stroke="#7a7a7a" stroke-width="0.8" />
<line x1="371.20" y1="350.22" x2="371.20" y2="353.70" stroke="#7a7a7a" stroke-width="0.8" />
<line x1="371.80" y1="349.28" x2="371.80" y2="353.70" stroke="#7a7a7a" stroke-width="0.8" />
<line x1="372.40" y1="349.20" x2="372.40" y2="353.70" stroke="#7a7a7a" stroke-width="0.8" />
<line x1="373.00" y1="351.44" x2="373.00" y2="353.70" stroke="#7a7a7a" stroke-width="0.8" />
<line x1="373.60" y1="351.65" x2="373.60" y2="353.70" stroke="#7a7a7a" stroke-width="0.8" />
<line x1="374.20" y1="348.35" x2="374.20" y2="353.70" stroke="#7a7a7a" stroke-width="0.8" />
<line x1="374.80" y1="350.66" x2="374.80" y2="353.70" stroke="#7a7a7a" stroke-width="0.8" />
<line x1="375.40" y1="350.76" x2="375.40" y2="353.70" stroke="#7a7a7a" stroke-width="0.8" />
<line x1="376.00" y1="347.72" x2="376.00" y2="353.70" stroke="#7a7a7a" stroke-width="0.8" />
<line x1="376.60" y1="349.82" x2="376.60" y2="353.70" stroke="#7a7a7a" stroke-width="0.8" />
<line x1="377.20" y1="348.35" x2="377.20" y2="353.70" stroke="#7a7a7a" stroke-width="0.8" />
<line x1="377.80" y1="349.79" x2="377.80" y2="353.70" stroke="#7a7a7a" stroke-width="0.8" />
<line x1="378.40" y1="349.14" x2="378.40" y2="353.70" stroke="#7a7a7a" stroke-width="0.8" />
<line x1="379.00" y1="351.10" x2="379.00" y2="353.70" stroke="#7a7a7a" stroke-width="0.8" />
<line x1="379.60" y1="349.16" x2="379.60" y2="353.70" stroke="#7a7a7a" stroke-width="0.8" />
<line x1="380.20" y1="348.23" x2="380.20" y2="353.70" stroke="#7a7a7a" stroke-width="0.8" />
<line x1="380.80" y1="349.61" x2="380.80" y2="353.70" stroke="#7a7a7a" stroke-width="0.8" />
<line x1="381.40" y1="348.73" x2="381.40" y2="353.70" stroke="#7a7a7a" stroke-width="0.8" />
<line x1="382.00" y1="349.01" x2="382.00" y2="353.70" stroke="#7a7a7a" stroke-width="0.8" />
<line x1="382.60" y1="351.44" x2="382.60" y2="353.70" stroke="#7a7a7a" stroke-width="0.8" />
<line x1="383.20" y1="348.67" x2="383.20" y2="353.70" stroke="#7a7a7a" stroke-width="0.8" />
<line x1="383.80" y1="349.34" x2="383.80" y2="353.70" stroke="#7a7a7a" stroke-width="0.8" />
<line x1="384.40" y1="350.49" x2="384.40" y2="353.70" stroke="#7a7a7a" stroke-width="0.8" />
<line x1="385.00" y1="351.58" x2="385.00" y2="353.70" stroke="#7a7a7a" stroke-width="0.8" />
<line x1="385.60" y1="348.24" x2="385.60" y2="353.70" stroke="#7a7a7a" stroke-width="0.8" />
<line x1="386.20" y1="349.81" x2="386.20" y2="353.70" stroke="#7a7a7a" stroke-width="0.8" />
<line x1="386.80" y1="348.82" x2="386.80" y2="353.70" stroke="#7a7a7a" stroke-width="0.8" />
<line x1="387.40" y1="348.18" x2="387.40" y2="353.70" stroke="#7a7a7a" stroke-width="0.8" />
<line x1="390.00" y1="348.84" x2="390.00" y2="353.70" stroke="#7a7a7a" stroke-width="0.8" />
<line x1="390.60" y1="348.02" x2="390.60" y2="353.70" stroke="#7a7a7a" stroke-width="0.8" />
<line x1="391.20" y1="350.12" x2="391.20" y2="353.70" stroke="#7a7a7a" stroke-width="0.8" />
<line x1="391.80" y1="348.50" x2="391.80" y2="353.70" stroke="#7a7a7a" stroke-width="0.8" />
<line x1="392.40" y1="349.92" x2="392.40" y2="353.70" stroke="#7a7a7a" stroke-width="0.8" />
<line x1="393.00" y1="347.96" x2="393.00" y2="353.70" stroke="#7a7a7a" stroke-width="0.8" />
<line x1="393.60" y1="348.18" x2="393.60" y2="353.70" stroke="#7a7a7a" stroke-width="0.8" />
<line x1="394.20" y1="351.31" x2="394.20" y2="353.70" stroke="#7a7a7a" stroke-width="0.8" />
<line x1="394.80" y1="351.16" x2="394.80" y2="353.70" stroke="#7a7a7a" stroke-width="0.8" />
<line x1="395.40" y1="350.83" x2="395.40" y2="353.70" stroke="#7a7a7a" stroke-width="0.8" />
<line x1="396.00" y1="347.84" x2="396.00" y2="353.70" stroke="#7a7a7a" stroke-width="0.8" />
<line x1="396.60" y1="349.96" x2="396.60" y2="353.70" stroke="#7a7a7a" stroke-width="0.8" />
<line x1="397.20" y1="349.19" x2="397.20" y2="353.70" stroke="#7a7a7a" stroke-width="0.8" />
<line x1="397.80" y1="350.50" x2="397.80" y2="353.70" stroke="#7a7a7a" stroke-width="0.8" />
<line x1="411.00" y1="349.67" x2="411.00" y2="353.70" stroke="#7a7a7a" stroke-width="0.8" />
<line x1="411.60" y1="350.16" x2="411.60" y2="353.70" stroke="#7a7a7a" stroke-width="0.8" />
<line x1="412.20" y1="350.30" x2="412.20" y2="353.70" stroke="#7a7a7a" stroke-width="0.8" />
<line x1="412.80" y1="349.36" x2="412.80" y2="353.70" stroke="#7a7a7a" stroke-width="0.8" />
<line x1="413.40" y1="349.36" x2="413.40" y2="353.70" stroke="#7a7a7a" stroke-width="0.8" />
<line x1="414.00" y1="348.08" x2="414.00" y2="353.70" stroke="#7a7a7a" stroke-width="0.8" />
<line x1="414.60" y1="348.97" x2="414.60" y2="353.70" stroke="#7a7a7a" stroke-width="0.8" />
<line x1="415.20" y1="347.98" x2="415.20" y2="353.70" stroke="#7a7a7a" stroke-width="0.8" />
<line x1="415.80" y1="348.27" x2="415.80" y2="353.70" stroke="#7a7a7a" stroke-width="0.8" />
<line x1="416.40" y1="347.74" x2="416.40" y2="353.70" stroke="#7a7a7a" stroke-width="0.8" />
<line x1="417.00" y1="349.01" x2="417.00" y2="353.70" stroke="#7a7a7a" stroke-width="0.8" />
<line x1="417.60" y1="351.05" x2="417.60" y2="353.70" stroke="#7a7a7a" stroke-width="0.8" />
<line x1="425.70" y1="330.00" x2="425.70" y2="353.70" stroke="#111" stroke-width="1.1" />
<line x1="315.90" y1="334.40" x2="323.40" y2="352.80" stroke="#7ddc7d" stroke-width="0.8" />
<line x1="374.60" y1="338.80" x2="379.00" y2="352.80" stroke="#7ddc7d" stroke-width="0.8" />
<line x1="399.40" y1="331.50" x2="400.60" y2="346.00" stroke="#7ddc7d" stroke-width="0.8" />
<text x="307.70" y="331.80" font-size="9.2" text-anchor="start" fill="#1a1a1a"  style="">80.9637</text>
<text x="351.00" y="337.90" font-size="9.2" text-anchor="start" fill="#1a1a1a"  style="">152.9854</text>
<text x="392.10" y="329.60" font-size="9.2" text-anchor="start" fill="#1a1a1a"  style="">182.9962</text>
<text x="419.90" y="296.80" font-size="9.2" text-anchor="start" fill="#1a1a1a"  style="">243.0180</text>
<line x1="525.30" y1="223.40" x2="525.30" y2="352.10" stroke="#1e1e1e" stroke-width="1.2" />
<line x1="524.70" y1="352.10" x2="680.50" y2="352.10" stroke="#1e1e1e" stroke-width="1.2" />
<line x1="522.70" y1="223.60" x2="525.30" y2="223.60" stroke="#1e1e1e" stroke-width="1.1" />
<text x="519.60" y="226.80" font-size="12" text-anchor="end" fill="#1a1a1a"  style="">0.60</text>
<line x1="522.70" y1="251.05" x2="525.30" y2="251.05" stroke="#1e1e1e" stroke-width="1.1" />
<text x="519.60" y="254.25" font-size="12" text-anchor="end" fill="#1a1a1a"  style="">0.48</text>
<line x1="522.70" y1="278.50" x2="525.30" y2="278.50" stroke="#1e1e1e" stroke-width="1.1" />
<text x="519.60" y="281.70" font-size="12" text-anchor="end" fill="#1a1a1a"  style="">0.36</text>
<line x1="522.70" y1="305.95" x2="525.30" y2="305.95" stroke="#1e1e1e" stroke-width="1.1" />
<text x="519.60" y="309.15" font-size="12" text-anchor="end" fill="#1a1a1a"  style="">0.24</text>
<line x1="522.70" y1="333.40" x2="525.30" y2="333.40" stroke="#1e1e1e" stroke-width="1.1" />
<text x="519.60" y="336.60" font-size="12" text-anchor="end" fill="#1a1a1a"  style="">0.12</text>
<line x1="529.40" y1="352.10" x2="529.40" y2="354.70" stroke="#1e1e1e" stroke-width="1.1" />
<line x1="558.58" y1="352.10" x2="558.58" y2="354.70" stroke="#1e1e1e" stroke-width="1.1" />
<line x1="587.77" y1="352.10" x2="587.77" y2="354.70" stroke="#1e1e1e" stroke-width="1.1" />
<line x1="616.95" y1="352.10" x2="616.95" y2="354.70" stroke="#1e1e1e" stroke-width="1.1" />
<line x1="646.14" y1="352.10" x2="646.14" y2="354.70" stroke="#1e1e1e" stroke-width="1.1" />
<line x1="675.32" y1="352.10" x2="675.32" y2="354.70" stroke="#1e1e1e" stroke-width="1.1" />
<text x="527.20" y="368.30" font-size="12" text-anchor="middle" fill="#1a1a1a"  style="">0</text>
<text x="558.00" y="368.30" font-size="12" text-anchor="middle" fill="#1a1a1a"  style="">120</text>
<text x="586.90" y="368.30" font-size="12" text-anchor="middle" fill="#1a1a1a"  style="">240</text>
<text x="615.80" y="368.30" font-size="12" text-anchor="middle" fill="#1a1a1a"  style="">360</text>
<text x="644.80" y="368.30" font-size="12" text-anchor="middle" fill="#1a1a1a"  style="">480</text>
<text x="674.40" y="368.30" font-size="12" text-anchor="middle" fill="#1a1a1a"  style="">600</text>
<text x="604.00" y="390.80" font-size="12" text-anchor="middle" fill="#1a1a1a"  style="">Time (s)</text>
<text transform="translate(488.4,277) rotate(-90)" font-size="12" text-anchor="middle" fill="#1a1a1a">Δ405nm</text>
<circle cx="529.40" cy="347.80" r="3.6" fill="#858585" stroke="#3a3a3a" stroke-width="0.9"/>
<line x1="529.40" y1="345.00" x2="529.40" y2="350.60" stroke="#111" stroke-width="0.9" />
<circle cx="529.40" cy="347.80" r="0.9" fill="#111" stroke="none" stroke-width="0"/>
<circle cx="543.99" cy="347.80" r="3.6" fill="#858585" stroke="#3a3a3a" stroke-width="0.9"/>
<line x1="543.99" y1="345.00" x2="543.99" y2="350.60" stroke="#111" stroke-width="0.9" />
<circle cx="543.99" cy="347.80" r="0.9" fill="#111" stroke="none" stroke-width="0"/>
<circle cx="558.58" cy="347.80" r="3.6" fill="#858585" stroke="#3a3a3a" stroke-width="0.9"/>
<line x1="558.58" y1="345.00" x2="558.58" y2="350.60" stroke="#111" stroke-width="0.9" />
<circle cx="558.58" cy="347.80" r="0.9" fill="#111" stroke="none" stroke-width="0"/>
<circle cx="573.18" cy="347.80" r="3.6" fill="#858585" stroke="#3a3a3a" stroke-width="0.9"/>
<line x1="573.18" y1="345.00" x2="573.18" y2="350.60" stroke="#111" stroke-width="0.9" />
<circle cx="573.18" cy="347.80" r="0.9" fill="#111" stroke="none" stroke-width="0"/>
<circle cx="587.77" cy="347.80" r="3.6" fill="#858585" stroke="#3a3a3a" stroke-width="0.9"/>
<line x1="587.77" y1="345.00" x2="587.77" y2="350.60" stroke="#111" stroke-width="0.9" />
<circle cx="587.77" cy="347.80" r="0.9" fill="#111" stroke="none" stroke-width="0"/>
<circle cx="602.36" cy="347.80" r="3.6" fill="#858585" stroke="#3a3a3a" stroke-width="0.9"/>
<line x1="602.36" y1="345.00" x2="602.36" y2="350.60" stroke="#111" stroke-width="0.9" />
<circle cx="602.36" cy="347.80" r="0.9" fill="#111" stroke="none" stroke-width="0"/>
<circle cx="616.95" cy="347.80" r="3.6" fill="#858585" stroke="#3a3a3a" stroke-width="0.9"/>
<line x1="616.95" y1="345.00" x2="616.95" y2="350.60" stroke="#111" stroke-width="0.9" />
<circle cx="616.95" cy="347.80" r="0.9" fill="#111" stroke="none" stroke-width="0"/>
<circle cx="631.54" cy="347.80" r="3.6" fill="#858585" stroke="#3a3a3a" stroke-width="0.9"/>
<line x1="631.54" y1="345.00" x2="631.54" y2="350.60" stroke="#111" stroke-width="0.9" />
<circle cx="631.54" cy="347.80" r="0.9" fill="#111" stroke="none" stroke-width="0"/>
<circle cx="646.14" cy="347.80" r="3.6" fill="#858585" stroke="#3a3a3a" stroke-width="0.9"/>
<line x1="646.14" y1="345.00" x2="646.14" y2="350.60" stroke="#111" stroke-width="0.9" />
<circle cx="646.14" cy="347.80" r="0.9" fill="#111" stroke="none" stroke-width="0"/>
<circle cx="660.73" cy="347.80" r="3.6" fill="#858585" stroke="#3a3a3a" stroke-width="0.9"/>
<line x1="660.73" y1="345.00" x2="660.73" y2="350.60" stroke="#111" stroke-width="0.9" />
<circle cx="660.73" cy="347.80" r="0.9" fill="#111" stroke="none" stroke-width="0"/>
<circle cx="675.32" cy="347.80" r="3.6" fill="#858585" stroke="#3a3a3a" stroke-width="0.9"/>
<line x1="675.32" y1="345.00" x2="675.32" y2="350.60" stroke="#111" stroke-width="0.9" />
<circle cx="675.32" cy="347.80" r="0.9" fill="#111" stroke="none" stroke-width="0"/>
<line x1="529.40" y1="340.40" x2="529.40" y2="345.40" stroke="#444" stroke-width="0.9" />
<line x1="528.40" y1="340.40" x2="530.40" y2="340.40" stroke="#444" stroke-width="0.9" />
<line x1="528.40" y1="345.40" x2="530.40" y2="345.40" stroke="#444" stroke-width="0.9" />
<circle cx="529.40" cy="342.90" r="3.6" fill="#e67a80" stroke="#7a3a3a" stroke-width="0.8"/>
<line x1="529.40" y1="341.30" x2="529.40" y2="344.50" stroke="#7a3a3a" stroke-width="0.5" />
<line x1="543.99" y1="330.80" x2="543.99" y2="335.80" stroke="#444" stroke-width="0.9" />
<line x1="542.99" y1="330.80" x2="544.99" y2="330.80" stroke="#444" stroke-width="0.9" />
<line x1="542.99" y1="335.80" x2="544.99" y2="335.80" stroke="#444" stroke-width="0.9" />
<circle cx="543.99" cy="333.30" r="3.6" fill="#e67a80" stroke="#7a3a3a" stroke-width="0.8"/>
<line x1="543.99" y1="331.70" x2="543.99" y2="334.90" stroke="#7a3a3a" stroke-width="0.5" />
<line x1="558.58" y1="320.90" x2="558.58" y2="325.90" stroke="#444" stroke-width="0.9" />
<line x1="557.58" y1="320.90" x2="559.58" y2="320.90" stroke="#444" stroke-width="0.9" />
<line x1="557.58" y1="325.90" x2="559.58" y2="325.90" stroke="#444" stroke-width="0.9" />
<circle cx="558.58" cy="323.40" r="3.6" fill="#e67a80" stroke="#7a3a3a" stroke-width="0.8"/>
<line x1="558.58" y1="321.80" x2="558.58" y2="325.00" stroke="#7a3a3a" stroke-width="0.5" />
<line x1="573.18" y1="311.00" x2="573.18" y2="318.00" stroke="#444" stroke-width="0.9" />
<line x1="572.18" y1="311.00" x2="574.18" y2="311.00" stroke="#444" stroke-width="0.9" />
<line x1="572.18" y1="318.00" x2="574.18" y2="318.00" stroke="#444" stroke-width="0.9" />
<circle cx="573.18" cy="314.50" r="3.6" fill="#e67a80" stroke="#7a3a3a" stroke-width="0.8"/>
<line x1="573.18" y1="312.90" x2="573.18" y2="316.10" stroke="#7a3a3a" stroke-width="0.5" />
<line x1="587.77" y1="301.60" x2="587.77" y2="309.60" stroke="#444" stroke-width="0.9" />
<line x1="586.77" y1="301.60" x2="588.77" y2="301.60" stroke="#444" stroke-width="0.9" />
<line x1="586.77" y1="309.60" x2="588.77" y2="309.60" stroke="#444" stroke-width="0.9" />
<circle cx="587.77" cy="305.60" r="3.6" fill="#e67a80" stroke="#7a3a3a" stroke-width="0.8"/>
<line x1="587.77" y1="304.00" x2="587.77" y2="307.20" stroke="#7a3a3a" stroke-width="0.5" />
<line x1="602.36" y1="291.10" x2="602.36" y2="301.10" stroke="#444" stroke-width="0.9" />
<line x1="601.36" y1="291.10" x2="603.36" y2="291.10" stroke="#444" stroke-width="0.9" />
<line x1="601.36" y1="301.10" x2="603.36" y2="301.10" stroke="#444" stroke-width="0.9" />
<circle cx="602.36" cy="296.10" r="3.6" fill="#e67a80" stroke="#7a3a3a" stroke-width="0.8"/>
<line x1="602.36" y1="294.50" x2="602.36" y2="297.70" stroke="#7a3a3a" stroke-width="0.5" />
<line x1="616.95" y1="281.40" x2="616.95" y2="292.40" stroke="#444" stroke-width="0.9" />
<line x1="615.95" y1="281.40" x2="617.95" y2="281.40" stroke="#444" stroke-width="0.9" />
<line x1="615.95" y1="292.40" x2="617.95" y2="292.40" stroke="#444" stroke-width="0.9" />
<circle cx="616.95" cy="286.90" r="3.6" fill="#e67a80" stroke="#7a3a3a" stroke-width="0.8"/>
<line x1="616.95" y1="285.30" x2="616.95" y2="288.50" stroke="#7a3a3a" stroke-width="0.5" />
<line x1="631.54" y1="271.60" x2="631.54" y2="283.40" stroke="#444" stroke-width="0.9" />
<line x1="630.54" y1="271.60" x2="632.54" y2="271.60" stroke="#444" stroke-width="0.9" />
<line x1="630.54" y1="283.40" x2="632.54" y2="283.40" stroke="#444" stroke-width="0.9" />
<circle cx="631.54" cy="277.50" r="3.6" fill="#e67a80" stroke="#7a3a3a" stroke-width="0.8"/>
<line x1="631.54" y1="275.90" x2="631.54" y2="279.10" stroke="#7a3a3a" stroke-width="0.5" />
<line x1="646.14" y1="262.60" x2="646.14" y2="274.00" stroke="#444" stroke-width="0.9" />
<line x1="645.14" y1="262.60" x2="647.14" y2="262.60" stroke="#444" stroke-width="0.9" />
<line x1="645.14" y1="274.00" x2="647.14" y2="274.00" stroke="#444" stroke-width="0.9" />
<circle cx="646.14" cy="268.30" r="3.6" fill="#e67a80" stroke="#7a3a3a" stroke-width="0.8"/>
<line x1="646.14" y1="266.70" x2="646.14" y2="269.90" stroke="#7a3a3a" stroke-width="0.5" />
<line x1="660.73" y1="251.80" x2="660.73" y2="264.60" stroke="#444" stroke-width="0.9" />
<line x1="659.73" y1="251.80" x2="661.73" y2="251.80" stroke="#444" stroke-width="0.9" />
<line x1="659.73" y1="264.60" x2="661.73" y2="264.60" stroke="#444" stroke-width="0.9" />
<circle cx="660.73" cy="258.20" r="3.6" fill="#e67a80" stroke="#7a3a3a" stroke-width="0.8"/>
<line x1="660.73" y1="256.60" x2="660.73" y2="259.80" stroke="#7a3a3a" stroke-width="0.5" />
<line x1="675.32" y1="241.40" x2="675.32" y2="255.40" stroke="#444" stroke-width="0.9" />
<line x1="674.32" y1="241.40" x2="676.32" y2="241.40" stroke="#444" stroke-width="0.9" />
<line x1="674.32" y1="255.40" x2="676.32" y2="255.40" stroke="#444" stroke-width="0.9" />
<circle cx="675.32" cy="248.40" r="3.6" fill="#e67a80" stroke="#7a3a3a" stroke-width="0.8"/>
<line x1="675.32" y1="246.80" x2="675.32" y2="250.00" stroke="#7a3a3a" stroke-width="0.5" />
<circle cx="531.90" cy="227.60" r="3.6" fill="#e67a80" stroke="#7a3a3a" stroke-width="0.8"/>
<circle cx="531.90" cy="239.50" r="3.6" fill="#858585" stroke="#3a3a3a" stroke-width="0.9"/>
<text x="538.7" y="231.3" font-size="10.7" fill="#1a1a1a">with <tspan font-style="italic">Am</tspan>SqgH</text>
<text x="540.4" y="243.2" font-size="10.7" fill="#1a1a1a" xml:space="preserve">without  <tspan font-style="italic">Am</tspan>SqgH</text>
<line x1="48.60" y1="436.20" x2="48.60" y2="563.60" stroke="#1e1e1e" stroke-width="1.2" />
<line x1="48.00" y1="563.60" x2="230.20" y2="563.60" stroke="#1e1e1e" stroke-width="1.2" />
<line x1="46.00" y1="436.30" x2="48.60" y2="436.30" stroke="#1e1e1e" stroke-width="1.1" />
<text x="44.10" y="440.60" font-size="12" text-anchor="end" fill="#1a1a1a"  style="">0.20</text>
<line x1="46.00" y1="467.20" x2="48.60" y2="467.20" stroke="#1e1e1e" stroke-width="1.1" />
<text x="44.10" y="471.50" font-size="12" text-anchor="end" fill="#1a1a1a"  style="">0.15</text>
<line x1="46.00" y1="498.10" x2="48.60" y2="498.10" stroke="#1e1e1e" stroke-width="1.1" />
<text x="44.10" y="502.40" font-size="12" text-anchor="end" fill="#1a1a1a"  style="">0.10</text>
<line x1="46.00" y1="529.00" x2="48.60" y2="529.00" stroke="#1e1e1e" stroke-width="1.1" />
<text x="44.10" y="533.30" font-size="12" text-anchor="end" fill="#1a1a1a"  style="">0.05</text>
<line x1="46.00" y1="559.90" x2="48.60" y2="559.90" stroke="#1e1e1e" stroke-width="1.1" />
<text x="44.10" y="564.20" font-size="12" text-anchor="end" fill="#1a1a1a"  style="">0.00</text>
<line x1="52.70" y1="563.60" x2="52.70" y2="566.20" stroke="#1e1e1e" stroke-width="1.1" />
<line x1="92.08" y1="563.60" x2="92.08" y2="566.20" stroke="#1e1e1e" stroke-width="1.1" />
<line x1="131.46" y1="563.60" x2="131.46" y2="566.20" stroke="#1e1e1e" stroke-width="1.1" />
<line x1="170.84" y1="563.60" x2="170.84" y2="566.20" stroke="#1e1e1e" stroke-width="1.1" />
<line x1="210.22" y1="563.60" x2="210.22" y2="566.20" stroke="#1e1e1e" stroke-width="1.1" />
<text x="52.80" y="579.20" font-size="12" text-anchor="middle" fill="#1a1a1a"  style="">0</text>
<text x="92.70" y="579.20" font-size="12" text-anchor="middle" fill="#1a1a1a"  style="">10</text>
<text x="131.80" y="579.20" font-size="12" text-anchor="middle" fill="#1a1a1a"  style="">20</text>
<text x="171.20" y="579.20" font-size="12" text-anchor="middle" fill="#1a1a1a"  style="">30</text>
<text x="210.60" y="579.20" font-size="12" text-anchor="middle" fill="#1a1a1a"  style="">40</text>
<text x="143.90" y="599.90" font-size="12" text-anchor="middle" fill="#1a1a1a"  style="">PNPSQ (mM)</text>
<text transform="translate(13.7,508.3) rotate(-90)" font-size="12" text-anchor="middle" fill="#1a1a1a">V (mM · s<tspan font-size="7" dy="-4.5">-1</tspan><tspan dy="4.5">)</tspan></text>
<polyline points="52.70,559.90 53.68,557.07 54.67,554.35 55.65,551.73 56.64,549.20 57.62,546.75 58.61,544.40 59.59,542.12 60.58,539.92 61.56,537.79 62.55,535.73 63.53,533.73 64.51,531.80 65.50,529.93 66.48,528.11 67.47,526.35 68.45,524.64 69.44,522.98 70.42,521.36 71.41,519.80 72.39,518.27 73.37,516.79 74.36,515.35 75.34,513.94 76.33,512.57 77.31,511.24 78.30,509.94 79.28,508.68 80.27,507.45 81.25,506.24 82.23,505.07 83.22,503.93 84.20,502.81 85.19,501.72 86.17,500.65 87.16,499.61 88.14,498.59 89.13,497.60 90.11,496.62 91.10,495.67 92.08,494.74 93.06,493.83 94.05,492.94 95.03,492.07 96.02,491.21 97.00,490.38 97.99,489.56 98.97,488.75 99.96,487.96 100.94,487.19 101.93,486.44 102.91,485.69 103.89,484.97 104.88,484.25 105.86,483.55 106.85,482.87 107.83,482.19 108.82,481.53 109.80,480.88 110.79,480.24 111.77,479.62 112.75,479.00 113.74,478.39 114.72,477.80 115.71,477.22 116.69,476.64 117.68,476.08 118.66,475.52 119.65,474.98 120.63,474.44 121.62,473.91 122.60,473.39 123.58,472.88 124.57,472.38 125.55,471.88 126.54,471.40 127.52,470.92 128.51,470.45 129.49,469.98 130.48,469.52 131.46,469.07 132.44,468.63 133.43,468.19 134.41,467.76 135.40,467.34 136.38,466.92 137.37,466.51 138.35,466.10 139.34,465.70 140.32,465.30 141.31,464.92 142.29,464.53 143.27,464.15 144.26,463.78 145.24,463.41 146.23,463.05 147.21,462.69 148.20,462.34 149.18,461.99 150.17,461.64 151.15,461.30 152.13,460.97 153.12,460.64 154.10,460.31 155.09,459.99 156.07,459.67 157.06,459.36 158.04,459.05 159.03,458.74 160.01,458.44 161.00,458.14 161.98,457.84 162.96,457.55 163.95,457.27 164.93,456.98 165.92,456.70 166.90,456.42 167.89,456.15 168.87,455.88 169.86,455.61 170.84,455.34 171.82,455.08 172.81,454.82 173.79,454.57 174.78,454.31 175.76,454.06 176.75,453.82 177.73,453.57 178.72,453.33 179.70,453.09 180.69,452.85 181.67,452.62 182.65,452.39 183.64,452.16 184.62,451.93 185.61,451.71 186.59,451.49 187.58,451.27 188.56,451.05 189.55,450.84 190.53,450.62 191.51,450.41 192.50,450.20 193.48,450.00 194.47,449.80 195.45,449.59 196.44,449.39 197.42,449.20 198.41,449.00 199.39,448.81 200.38,448.61 201.36,448.42 202.34,448.24 203.33,448.05 204.31,447.87 205.30,447.68 206.28,447.50 207.27,447.32 208.25,447.14 209.24,446.97 210.22,446.79" fill="none" stroke="#222" stroke-width="1.0" stroke-linejoin="round" />
<line x1="210.22" y1="444.50" x2="210.22" y2="475.20" stroke="#555" stroke-width="0.9" />
<line x1="208.72" y1="444.50" x2="211.72" y2="444.50" stroke="#555" stroke-width="0.9" />
<line x1="208.72" y1="475.20" x2="211.72" y2="475.20" stroke="#555" stroke-width="0.9" />
<line x1="131.46" y1="454.00" x2="131.46" y2="471.00" stroke="#555" stroke-width="0.9" />
<line x1="129.96" y1="454.00" x2="132.96" y2="454.00" stroke="#555" stroke-width="0.9" />
<line x1="129.96" y1="471.00" x2="132.96" y2="471.00" stroke="#555" stroke-width="0.9" />
<line x1="92.08" y1="485.00" x2="92.08" y2="494.00" stroke="#555" stroke-width="0.9" />
<line x1="90.58" y1="485.00" x2="93.58" y2="485.00" stroke="#555" stroke-width="0.9" />
<line x1="90.58" y1="494.00" x2="93.58" y2="494.00" stroke="#555" stroke-width="0.9" />
<circle cx="51.30" cy="559.70" r="4.5" fill="#e67a80" stroke="#4a2a2a" stroke-width="0.8"/>
<line x1="50.10" y1="561.20" x2="52.50" y2="558.20" stroke="#4a2a2a" stroke-width="0.5" />
<circle cx="51.90" cy="558.30" r="4.5" fill="#e67a80" stroke="#4a2a2a" stroke-width="0.8"/>
<line x1="50.70" y1="559.80" x2="53.10" y2="556.80" stroke="#4a2a2a" stroke-width="0.5" />
<circle cx="52.50" cy="557.50" r="4.5" fill="#e67a80" stroke="#4a2a2a" stroke-width="0.8"/>
<line x1="51.30" y1="559.00" x2="53.70" y2="556.00" stroke="#4a2a2a" stroke-width="0.5" />
<circle cx="53.20" cy="555.70" r="4.5" fill="#e67a80" stroke="#4a2a2a" stroke-width="0.8"/>
<line x1="52.00" y1="557.20" x2="54.40" y2="554.20" stroke="#4a2a2a" stroke-width="0.5" />
<circle cx="54.00" cy="554.00" r="4.5" fill="#e67a80" stroke="#4a2a2a" stroke-width="0.8"/>
<line x1="52.80" y1="555.50" x2="55.20" y2="552.50" stroke="#4a2a2a" stroke-width="0.5" />
<circle cx="55.20" cy="552.40" r="4.5" fill="#e67a80" stroke="#4a2a2a" stroke-width="0.8"/>
<line x1="54.00" y1="553.90" x2="56.40" y2="550.90" stroke="#4a2a2a" stroke-width="0.5" />
<circle cx="56.50" cy="551.00" r="4.5" fill="#e67a80" stroke="#4a2a2a" stroke-width="0.8"/>
<line x1="55.30" y1="552.50" x2="57.70" y2="549.50" stroke="#4a2a2a" stroke-width="0.5" />
<circle cx="58.30" cy="549.10" r="4.5" fill="#e67a80" stroke="#4a2a2a" stroke-width="0.8"/>
<line x1="57.10" y1="550.60" x2="59.50" y2="547.60" stroke="#4a2a2a" stroke-width="0.5" />
<circle cx="62.80" cy="534.90" r="4.5" fill="#e67a80" stroke="#4a2a2a" stroke-width="0.8"/>
<line x1="61.60" y1="536.40" x2="64.00" y2="533.40" stroke="#4a2a2a" stroke-width="0.5" />
<circle cx="72.50" cy="522.20" r="4.5" fill="#e67a80" stroke="#4a2a2a" stroke-width="0.8"/>
<line x1="71.30" y1="523.70" x2="73.70" y2="520.70" stroke="#4a2a2a" stroke-width="0.5" />
<circle cx="92.08" cy="489.10" r="4.5" fill="#e67a80" stroke="#4a2a2a" stroke-width="0.8"/>
<line x1="90.88" y1="490.60" x2="93.28" y2="487.60" stroke="#4a2a2a" stroke-width="0.5" />
<circle cx="131.46" cy="462.40" r="4.5" fill="#e67a80" stroke="#4a2a2a" stroke-width="0.8"/>
<line x1="130.26" y1="463.90" x2="132.66" y2="460.90" stroke="#4a2a2a" stroke-width="0.5" />
<circle cx="210.22" cy="459.70" r="4.5" fill="#e67a80" stroke="#4a2a2a" stroke-width="0.8"/>
<line x1="209.02" y1="461.20" x2="211.42" y2="458.20" stroke="#4a2a2a" stroke-width="0.5" />
<text x="97.9" y="510.4" font-size="10.35" fill="#1a1a1a"><tspan font-style="italic">k</tspan><tspan font-size="6" dy="2.8">cat</tspan><tspan dy="-2.8"> = 119.17 ± 19.42 s</tspan><tspan font-size="6" dy="-4">-1</tspan></text>
<text x="97.9" y="531.9" font-size="10.35" fill="#1a1a1a"><tspan font-style="italic">K</tspan><tspan font-size="6" dy="2.8">M</tspan><tspan dy="-2.8"> = 13.00 ± 2.22 mM</tspan></text>
<text x="97.9" y="553.2" font-size="10.35" fill="#1a1a1a"><tspan font-style="italic">k</tspan><tspan font-size="6" dy="2.8">cat</tspan><tspan dy="-2.8">/</tspan><tspan font-style="italic">K</tspan><tspan font-size="6" dy="2.8">M</tspan><tspan dy="-2.8"> = 9167 ± 1494 M</tspan><tspan font-size="6" dy="-4">-1</tspan><tspan dy="4" font-size="5"> </tspan><tspan>s</tspan><tspan font-size="6" dy="-4">-1</tspan></text>
<clipPath id="hsil"><path d="M275.0,410.6 L290.5,405.4 L320.0,407.0 L335.0,412.0 L352.0,425.0 L365.0,431.0 L382.0,446.9 L416.8,450.0 L437.5,451.0 L447.0,458.0 L449.0,475.0 L447.0,495.0 L446.0,510.0 L453.0,522.0 L457.0,533.0 L453.0,546.0 L441.0,557.0 L436.0,570.0 L425.0,588.0 L403.0,599.0 L375.3,600.8 L344.1,599.0 L323.4,592.2 L302.6,574.9 L292.3,554.1 L290.5,540.3 L285.3,526.4 L281.9,505.7 L268.0,491.9 L250.8,474.6 L247.3,460.7 L256.0,433.0Z"/></clipPath>
<g clip-path="url(#hsil)">

<use href="#q1" x="0.0" y="0.0" class="tP" stroke-width="2.2"/>
<use href="#q1" x="0.0" y="0.0" class="TP" stroke-width="1.5"/>
<use href="#q1" x="1.0" y="0.7" class="tG" stroke-width="2.2"/>
<use href="#q1" x="1.0" y="0.7" class="TG" stroke-width="1.5"/>
<use href="#q1" x="-0.8" y="1.0" class="tL" stroke-width="2.2"/>
<use href="#q1" x="-0.8" y="1.0" class="TL" stroke-width="1.5"/>

<use href="#q2" x="0.0" y="0.0" class="tP" stroke-width="2.2"/>
<use href="#q2" x="0.0" y="0.0" class="TP" stroke-width="1.5"/>
<use href="#q2" x="1.0" y="0.7" class="tG" stroke-width="2.2"/>
<use href="#q2" x="1.0" y="0.7" class="TG" stroke-width="1.5"/>
<use href="#q2" x="-0.8" y="1.0" class="tL" stroke-width="2.2"/>
<use href="#q2" x="-0.8" y="1.0" class="TL" stroke-width="1.5"/>

<use href="#q3" x="0.0" y="0.0" class="tL" stroke-width="2.2"/>
<use href="#q3" x="0.0" y="0.0" class="TL" stroke-width="1.5"/>
<use href="#q3" x="1.0" y="0.7" class="tP" stroke-width="2.2"/>
<use href="#q3" x="1.0" y="0.7" class="TP" stroke-width="1.5"/>
<use href="#q3" x="-0.8" y="1.0" class="tG" stroke-width="2.2"/>
<use href="#q3" x="-0.8" y="1.0" class="TG" stroke-width="1.5"/>

<use href="#q4" x="0.0" y="0.0" class="tL" stroke-width="2.2"/>
<use href="#q4" x="0.0" y="0.0" class="TL" stroke-width="1.5"/>
<use href="#q4" x="1.0" y="0.7" class="tP" stroke-width="2.2"/>
<use href="#q4" x="1.0" y="0.7" class="TP" stroke-width="1.5"/>
<use href="#q4" x="-0.8" y="1.0" class="tG" stroke-width="2.2"/>
<use href="#q4" x="-0.8" y="1.0" class="TG" stroke-width="1.5"/>

<use href="#q5" x="0.0" y="0.0" class="tL" stroke-width="2.2"/>
<use href="#q5" x="0.0" y="0.0" class="TL" stroke-width="1.5"/>
<use href="#q5" x="1.0" y="0.7" class="tP" stroke-width="2.2"/>
<use href="#q5" x="1.0" y="0.7" class="TP" stroke-width="1.5"/>
<use href="#q5" x="-0.8" y="1.0" class="tG" stroke-width="2.2"/>
<use href="#q5" x="-0.8" y="1.0" class="TG" stroke-width="1.5"/>

<use href="#q6" x="0.0" y="0.0" class="tG" stroke-width="2.2"/>
<use href="#q6" x="0.0" y="0.0" class="TG" stroke-width="1.5"/>
<use href="#q6" x="1.0" y="0.7" class="tL" stroke-width="2.2"/>
<use href="#q6" x="1.0" y="0.7" class="TL" stroke-width="1.5"/>
<use href="#q6" x="-0.8" y="1.0" class="tP" stroke-width="2.2"/>
<use href="#q6" x="-0.8" y="1.0" class="TP" stroke-width="1.5"/>

<use href="#q7" x="0.0" y="0.0" class="tL" stroke-width="2.2"/>
<use href="#q7" x="0.0" y="0.0" class="TL" stroke-width="1.5"/>
<use href="#q7" x="1.0" y="0.7" class="tP" stroke-width="2.2"/>
<use href="#q7" x="1.0" y="0.7" class="TP" stroke-width="1.5"/>
<use href="#q7" x="-0.8" y="1.0" class="tG" stroke-width="2.2"/>
<use href="#q7" x="-0.8" y="1.0" class="TG" stroke-width="1.5"/>

<use href="#q8" x="0.0" y="0.0" class="tG" stroke-width="2.2"/>
<use href="#q8" x="0.0" y="0.0" class="TG" stroke-width="1.5"/>
<use href="#q8" x="1.0" y="0.7" class="tP" stroke-width="2.2"/>
<use href="#q8" x="1.0" y="0.7" class="TP" stroke-width="1.5"/>
<use href="#q8" x="-0.8" y="1.0" class="tL" stroke-width="2.2"/>
<use href="#q8" x="-0.8" y="1.0" class="TL" stroke-width="1.5"/>

<use href="#q9" x="0.0" y="0.0" class="tL" stroke-width="2.2"/>
<use href="#q9" x="0.0" y="0.0" class="TL" stroke-width="1.5"/>
<use href="#q9" x="1.0" y="0.7" class="tP" stroke-width="2.2"/>
<use href="#q9" x="1.0" y="0.7" class="TP" stroke-width="1.5"/>
<use href="#q9" x="-0.8" y="1.0" class="tG" stroke-width="2.2"/>
<use href="#q9" x="-0.8" y="1.0" class="TG" stroke-width="1.5"/>

<use href="#q10" x="0.0" y="0.0" class="tG" stroke-width="2.2"/>
<use href="#q10" x="0.0" y="0.0" class="TG" stroke-width="1.5"/>
<use href="#q10" x="1.0" y="0.7" class="tL" stroke-width="2.2"/>
<use href="#q10" x="1.0" y="0.7" class="TL" stroke-width="1.5"/>
<use href="#q10" x="-0.8" y="1.0" class="tP" stroke-width="2.2"/>
<use href="#q10" x="-0.8" y="1.0" class="TP" stroke-width="1.5"/>

<use href="#q11" x="0.0" y="0.0" class="tG" stroke-width="2.2"/>
<use href="#q11" x="0.0" y="0.0" class="TG" stroke-width="1.5"/>
<use href="#q11" x="1.0" y="0.7" class="tL" stroke-width="2.2"/>
<use href="#q11" x="1.0" y="0.7" class="TL" stroke-width="1.5"/>
<use href="#q11" x="-0.8" y="1.0" class="tP" stroke-width="2.2"/>
<use href="#q11" x="-0.8" y="1.0" class="TP" stroke-width="1.5"/>

<use href="#q12" x="0.0" y="0.0" class="tP" stroke-width="2.2"/>
<use href="#q12" x="0.0" y="0.0" class="TP" stroke-width="1.5"/>
<use href="#q12" x="1.0" y="0.7" class="tG" stroke-width="2.2"/>
<use href="#q12" x="1.0" y="0.7" class="TG" stroke-width="1.5"/>
<use href="#q12" x="-0.8" y="1.0" class="tL" stroke-width="2.2"/>
<use href="#q12" x="-0.8" y="1.0" class="TL" stroke-width="1.5"/>

<use href="#q13" x="0.0" y="0.0" class="tP" stroke-width="2.2"/>
<use href="#q13" x="0.0" y="0.0" class="TP" stroke-width="1.5"/>
<use href="#q13" x="1.0" y="0.7" class="tG" stroke-width="2.2"/>
<use href="#q13" x="1.0" y="0.7" class="TG" stroke-width="1.5"/>
<use href="#q13" x="-0.8" y="1.0" class="tL" stroke-width="2.2"/>
<use href="#q13" x="-0.8" y="1.0" class="TL" stroke-width="1.5"/>

<use href="#q14" x="0.0" y="0.0" class="tP" stroke-width="2.2"/>
<use href="#q14" x="0.0" y="0.0" class="TP" stroke-width="1.5"/>
<use href="#q14" x="1.0" y="0.7" class="tG" stroke-width="2.2"/>
<use href="#q14" x="1.0" y="0.7" class="TG" stroke-width="1.5"/>
<use href="#q14" x="-0.8" y="1.0" class="tL" stroke-width="2.2"/>
<use href="#q14" x="-0.8" y="1.0" class="TL" stroke-width="1.5"/>

<use href="#q15" x="0.0" y="0.0" class="tP" stroke-width="2.2"/>
<use href="#q15" x="0.0" y="0.0" class="TP" stroke-width="1.5"/>
<use href="#q15" x="1.0" y="0.7" class="tG" stroke-width="2.2"/>
<use href="#q15" x="1.0" y="0.7" class="TG" stroke-width="1.5"/>
<use href="#q15" x="-0.8" y="1.0" class="tL" stroke-width="2.2"/>
<use href="#q15" x="-0.8" y="1.0" class="TL" stroke-width="1.5"/>

<use href="#q16" x="0.0" y="0.0" class="tG" stroke-width="2.2"/>
<use href="#q16" x="0.0" y="0.0" class="TG" stroke-width="1.5"/>
<use href="#q16" x="1.0" y="0.7" class="tP" stroke-width="2.2"/>
<use href="#q16" x="1.0" y="0.7" class="TP" stroke-width="1.5"/>
<use href="#q16" x="-0.8" y="1.0" class="tL" stroke-width="2.2"/>
<use href="#q16" x="-0.8" y="1.0" class="TL" stroke-width="1.5"/>

<use href="#q17" x="0.0" y="0.0" class="tG" stroke-width="2.2"/>
<use href="#q17" x="0.0" y="0.0" class="TG" stroke-width="1.5"/>
<use href="#q17" x="1.0" y="0.7" class="tL" stroke-width="2.2"/>
<use href="#q17" x="1.0" y="0.7" class="TL" stroke-width="1.5"/>
<use href="#q17" x="-0.8" y="1.0" class="tP" stroke-width="2.2"/>
<use href="#q17" x="-0.8" y="1.0" class="TP" stroke-width="1.5"/>

<use href="#q18" x="0.0" y="0.0" class="tG" stroke-width="2.2"/>
<use href="#q18" x="0.0" y="0.0" class="TG" stroke-width="1.5"/>
<use href="#q18" x="1.0" y="0.7" class="tP" stroke-width="2.2"/>
<use href="#q18" x="1.0" y="0.7" class="TP" stroke-width="1.5"/>
<use href="#q18" x="-0.8" y="1.0" class="tL" stroke-width="2.2"/>
<use href="#q18" x="-0.8" y="1.0" class="TL" stroke-width="1.5"/>

<use href="#q19" x="0.0" y="0.0" class="tG" stroke-width="2.2"/>
<use href="#q19" x="0.0" y="0.0" class="TG" stroke-width="1.5"/>
<use href="#q19" x="1.0" y="0.7" class="tP" stroke-width="2.2"/>
<use href="#q19" x="1.0" y="0.7" class="TP" stroke-width="1.5"/>
<use href="#q19" x="-0.8" y="1.0" class="tL" stroke-width="2.2"/>
<use href="#q19" x="-0.8" y="1.0" class="TL" stroke-width="1.5"/>

<use href="#q20" x="0.0" y="0.0" class="tG" stroke-width="2.2"/>
<use href="#q20" x="0.0" y="0.0" class="TG" stroke-width="1.5"/>
<use href="#q20" x="1.0" y="0.7" class="tL" stroke-width="2.2"/>
<use href="#q20" x="1.0" y="0.7" class="TL" stroke-width="1.5"/>
<use href="#q20" x="-0.8" y="1.0" class="tP" stroke-width="2.2"/>
<use href="#q20" x="-0.8" y="1.0" class="TP" stroke-width="1.5"/>

<use href="#q21" x="0.0" y="0.0" class="tG" stroke-width="2.2"/>
<use href="#q21" x="0.0" y="0.0" class="TG" stroke-width="1.5"/>
<use href="#q21" x="1.0" y="0.7" class="tP" stroke-width="2.2"/>
<use href="#q21" x="1.0" y="0.7" class="TP" stroke-width="1.5"/>
<use href="#q21" x="-0.8" y="1.0" class="tL" stroke-width="2.2"/>
<use href="#q21" x="-0.8" y="1.0" class="TL" stroke-width="1.5"/>

<use href="#q22" x="0.0" y="0.0" class="tP" stroke-width="2.2"/>
<use href="#q22" x="0.0" y="0.0" class="TP" stroke-width="1.5"/>
<use href="#q22" x="1.0" y="0.7" class="tG" stroke-width="2.2"/>
<use href="#q22" x="1.0" y="0.7" class="TG" stroke-width="1.5"/>
<use href="#q22" x="-0.8" y="1.0" class="tL" stroke-width="2.2"/>
<use href="#q22" x="-0.8" y="1.0" class="TL" stroke-width="1.5"/>

<use href="#q23" x="0.0" y="0.0" class="tP" stroke-width="2.2"/>
<use href="#q23" x="0.0" y="0.0" class="TP" stroke-width="1.5"/>
<use href="#q23" x="1.0" y="0.7" class="tG" stroke-width="2.2"/>
<use href="#q23" x="1.0" y="0.7" class="TG" stroke-width="1.5"/>
<use href="#q23" x="-0.8" y="1.0" class="tL" stroke-width="2.2"/>
<use href="#q23" x="-0.8" y="1.0" class="TL" stroke-width="1.5"/>

<use href="#q24" x="0.0" y="0.0" class="tG" stroke-width="2.2"/>
<use href="#q24" x="0.0" y="0.0" class="TG" stroke-width="1.5"/>
<use href="#q24" x="1.0" y="0.7" class="tL" stroke-width="2.2"/>
<use href="#q24" x="1.0" y="0.7" class="TL" stroke-width="1.5"/>
<use href="#q24" x="-0.8" y="1.0" class="tP" stroke-width="2.2"/>
<use href="#q24" x="-0.8" y="1.0" class="TP" stroke-width="1.5"/>

<use href="#q25" x="0.0" y="0.0" class="tL" stroke-width="2.2"/>
<use href="#q25" x="0.0" y="0.0" class="TL" stroke-width="1.5"/>
<use href="#q25" x="1.0" y="0.7" class="tP" stroke-width="2.2"/>
<use href="#q25" x="1.0" y="0.7" class="TP" stroke-width="1.5"/>
<use href="#q25" x="-0.8" y="1.0" class="tG" stroke-width="2.2"/>
<use href="#q25" x="-0.8" y="1.0" class="TG" stroke-width="1.5"/>

<use href="#q26" x="0.0" y="0.0" class="tG" stroke-width="2.2"/>
<use href="#q26" x="0.0" y="0.0" class="TG" stroke-width="1.5"/>
<use href="#q26" x="1.0" y="0.7" class="tL" stroke-width="2.2"/>
<use href="#q26" x="1.0" y="0.7" class="TL" stroke-width="1.5"/>
<use href="#q26" x="-0.8" y="1.0" class="tP" stroke-width="2.2"/>
<use href="#q26" x="-0.8" y="1.0" class="TP" stroke-width="1.5"/>

<use href="#q27" x="0.0" y="0.0" class="tP" stroke-width="2.2"/>
<use href="#q27" x="0.0" y="0.0" class="TP" stroke-width="1.5"/>
<use href="#q27" x="1.0" y="0.7" class="tG" stroke-width="2.2"/>
<use href="#q27" x="1.0" y="0.7" class="TG" stroke-width="1.5"/>
<use href="#q27" x="-0.8" y="1.0" class="tL" stroke-width="2.2"/>
<use href="#q27" x="-0.8" y="1.0" class="TL" stroke-width="1.5"/>

<use href="#q28" x="0.0" y="0.0" class="tG" stroke-width="2.2"/>
<use href="#q28" x="0.0" y="0.0" class="TG" stroke-width="1.5"/>
<use href="#q28" x="1.0" y="0.7" class="tL" stroke-width="2.2"/>
<use href="#q28" x="1.0" y="0.7" class="TL" stroke-width="1.5"/>
<use href="#q28" x="-0.8" y="1.0" class="tP" stroke-width="2.2"/>
<use href="#q28" x="-0.8" y="1.0" class="TP" stroke-width="1.5"/>

<use href="#q29" x="0.0" y="0.0" class="tP" stroke-width="2.2"/>
<use href="#q29" x="0.0" y="0.0" class="TP" stroke-width="1.5"/>
<use href="#q29" x="1.0" y="0.7" class="tG" stroke-width="2.2"/>
<use href="#q29" x="1.0" y="0.7" class="TG" stroke-width="1.5"/>
<use href="#q29" x="-0.8" y="1.0" class="tL" stroke-width="2.2"/>
<use href="#q29" x="-0.8" y="1.0" class="TL" stroke-width="1.5"/>

<use href="#q30" x="0.0" y="0.0" class="tG" stroke-width="2.2"/>
<use href="#q30" x="0.0" y="0.0" class="TG" stroke-width="1.5"/>
<use href="#q30" x="1.0" y="0.7" class="tL" stroke-width="2.2"/>
<use href="#q30" x="1.0" y="0.7" class="TL" stroke-width="1.5"/>
<use href="#q30" x="-0.8" y="1.0" class="tP" stroke-width="2.2"/>
<use href="#q30" x="-0.8" y="1.0" class="TP" stroke-width="1.5"/>

<use href="#q31" x="0.0" y="0.0" class="tG" stroke-width="2.2"/>
<use href="#q31" x="0.0" y="0.0" class="TG" stroke-width="1.5"/>
<use href="#q31" x="1.0" y="0.7" class="tP" stroke-width="2.2"/>
<use href="#q31" x="1.0" y="0.7" class="TP" stroke-width="1.5"/>
<use href="#q31" x="-0.8" y="1.0" class="tL" stroke-width="2.2"/>
<use href="#q31" x="-0.8" y="1.0" class="TL" stroke-width="1.5"/>

<use href="#q32" x="0.0" y="0.0" class="tP" stroke-width="2.2"/>
<use href="#q32" x="0.0" y="0.0" class="TP" stroke-width="1.5"/>
<use href="#q32" x="1.0" y="0.7" class="tG" stroke-width="2.2"/>
<use href="#q32" x="1.0" y="0.7" class="TG" stroke-width="1.5"/>
<use href="#q32" x="-0.8" y="1.0" class="tL" stroke-width="2.2"/>
<use href="#q32" x="-0.8" y="1.0" class="TL" stroke-width="1.5"/>

<use href="#q33" x="0.0" y="0.0" class="tG" stroke-width="2.2"/>
<use href="#q33" x="0.0" y="0.0" class="TG" stroke-width="1.5"/>
<use href="#q33" x="1.0" y="0.7" class="tL" stroke-width="2.2"/>
<use href="#q33" x="1.0" y="0.7" class="TL" stroke-width="1.5"/>
<use href="#q33" x="-0.8" y="1.0" class="tP" stroke-width="2.2"/>
<use href="#q33" x="-0.8" y="1.0" class="TP" stroke-width="1.5"/>

<use href="#q34" x="0.0" y="0.0" class="tG" stroke-width="2.2"/>
<use href="#q34" x="0.0" y="0.0" class="TG" stroke-width="1.5"/>
<use href="#q34" x="1.0" y="0.7" class="tP" stroke-width="2.2"/>
<use href="#q34" x="1.0" y="0.7" class="TP" stroke-width="1.5"/>
<use href="#q34" x="-0.8" y="1.0" class="tL" stroke-width="2.2"/>
<use href="#q34" x="-0.8" y="1.0" class="TL" stroke-width="1.5"/>

<use href="#q35" x="0.0" y="0.0" class="tL" stroke-width="2.2"/>
<use href="#q35" x="0.0" y="0.0" class="TL" stroke-width="1.5"/>
<use href="#q35" x="1.0" y="0.7" class="tP" stroke-width="2.2"/>
<use href="#q35" x="1.0" y="0.7" class="TP" stroke-width="1.5"/>
<use href="#q35" x="-0.8" y="1.0" class="tG" stroke-width="2.2"/>
<use href="#q35" x="-0.8" y="1.0" class="TG" stroke-width="1.5"/>

<use href="#q36" x="0.0" y="0.0" class="tG" stroke-width="2.2"/>
<use href="#q36" x="0.0" y="0.0" class="TG" stroke-width="1.5"/>
<use href="#q36" x="1.0" y="0.7" class="tL" stroke-width="2.2"/>
<use href="#q36" x="1.0" y="0.7" class="TL" stroke-width="1.5"/>
<use href="#q36" x="-0.8" y="1.0" class="tP" stroke-width="2.2"/>
<use href="#q36" x="-0.8" y="1.0" class="TP" stroke-width="1.5"/>

<use href="#q37" x="0.0" y="0.0" class="tL" stroke-width="2.2"/>
<use href="#q37" x="0.0" y="0.0" class="TL" stroke-width="1.5"/>
<use href="#q37" x="1.0" y="0.7" class="tP" stroke-width="2.2"/>
<use href="#q37" x="1.0" y="0.7" class="TP" stroke-width="1.5"/>
<use href="#q37" x="-0.8" y="1.0" class="tG" stroke-width="2.2"/>
<use href="#q37" x="-0.8" y="1.0" class="TG" stroke-width="1.5"/>

<use href="#q38" x="0.0" y="0.0" class="tG" stroke-width="2.2"/>
<use href="#q38" x="0.0" y="0.0" class="TG" stroke-width="1.5"/>
<use href="#q38" x="1.0" y="0.7" class="tL" stroke-width="2.2"/>
<use href="#q38" x="1.0" y="0.7" class="TL" stroke-width="1.5"/>
<use href="#q38" x="-0.8" y="1.0" class="tP" stroke-width="2.2"/>
<use href="#q38" x="-0.8" y="1.0" class="TP" stroke-width="1.5"/>

<use href="#q39" x="0.0" y="0.0" class="tG" stroke-width="2.2"/>
<use href="#q39" x="0.0" y="0.0" class="TG" stroke-width="1.5"/>
<use href="#q39" x="1.0" y="0.7" class="tL" stroke-width="2.2"/>
<use href="#q39" x="1.0" y="0.7" class="TL" stroke-width="1.5"/>
<use href="#q39" x="-0.8" y="1.0" class="tP" stroke-width="2.2"/>
<use href="#q39" x="-0.8" y="1.0" class="TP" stroke-width="1.5"/>

<use href="#q40" x="0.0" y="0.0" class="tG" stroke-width="2.2"/>
<use href="#q40" x="0.0" y="0.0" class="TG" stroke-width="1.5"/>
<use href="#q40" x="1.0" y="0.7" class="tP" stroke-width="2.2"/>
<use href="#q40" x="1.0" y="0.7" class="TP" stroke-width="1.5"/>
<use href="#q40" x="-0.8" y="1.0" class="tL" stroke-width="2.2"/>
<use href="#q40" x="-0.8" y="1.0" class="TL" stroke-width="1.5"/>

<use href="#q41" x="0.0" y="0.0" class="tP" stroke-width="2.2"/>
<use href="#q41" x="0.0" y="0.0" class="TP" stroke-width="1.5"/>
<use href="#q41" x="1.0" y="0.7" class="tG" stroke-width="2.2"/>
<use href="#q41" x="1.0" y="0.7" class="TG" stroke-width="1.5"/>
<use href="#q41" x="-0.8" y="1.0" class="tL" stroke-width="2.2"/>
<use href="#q41" x="-0.8" y="1.0" class="TL" stroke-width="1.5"/>

<use href="#q42" x="0.0" y="0.0" class="tP" stroke-width="2.2"/>
<use href="#q42" x="0.0" y="0.0" class="TP" stroke-width="1.5"/>
<use href="#q42" x="1.0" y="0.7" class="tG" stroke-width="2.2"/>
<use href="#q42" x="1.0" y="0.7" class="TG" stroke-width="1.5"/>
<use href="#q42" x="-0.8" y="1.0" class="tL" stroke-width="2.2"/>
<use href="#q42" x="-0.8" y="1.0" class="TL" stroke-width="1.5"/>

<use href="#q43" x="0.0" y="0.0" class="tG" stroke-width="2.2"/>
<use href="#q43" x="0.0" y="0.0" class="TG" stroke-width="1.5"/>
<use href="#q43" x="1.0" y="0.7" class="tP" stroke-width="2.2"/>
<use href="#q43" x="1.0" y="0.7" class="TP" stroke-width="1.5"/>
<use href="#q43" x="-0.8" y="1.0" class="tL" stroke-width="2.2"/>
<use href="#q43" x="-0.8" y="1.0" class="TL" stroke-width="1.5"/>

<use href="#q44" x="0.0" y="0.0" class="tL" stroke-width="2.2"/>
<use href="#q44" x="0.0" y="0.0" class="TL" stroke-width="1.5"/>
<use href="#q44" x="1.0" y="0.7" class="tP" stroke-width="2.2"/>
<use href="#q44" x="1.0" y="0.7" class="TP" stroke-width="1.5"/>
<use href="#q44" x="-0.8" y="1.0" class="tG" stroke-width="2.2"/>
<use href="#q44" x="-0.8" y="1.0" class="TG" stroke-width="1.5"/>

<use href="#q45" x="0.0" y="0.0" class="tG" stroke-width="2.2"/>
<use href="#q45" x="0.0" y="0.0" class="TG" stroke-width="1.5"/>
<use href="#q45" x="1.0" y="0.7" class="tL" stroke-width="2.2"/>
<use href="#q45" x="1.0" y="0.7" class="TL" stroke-width="1.5"/>
<use href="#q45" x="-0.8" y="1.0" class="tP" stroke-width="2.2"/>
<use href="#q45" x="-0.8" y="1.0" class="TP" stroke-width="1.5"/>

<use href="#q46" x="0.0" y="0.0" class="tP" stroke-width="2.2"/>
<use href="#q46" x="0.0" y="0.0" class="TP" stroke-width="1.5"/>
<use href="#q46" x="1.0" y="0.7" class="tG" stroke-width="2.2"/>
<use href="#q46" x="1.0" y="0.7" class="TG" stroke-width="1.5"/>
<use href="#q46" x="-0.8" y="1.0" class="tL" stroke-width="2.2"/>
<use href="#q46" x="-0.8" y="1.0" class="TL" stroke-width="1.5"/>

<use href="#q47" x="0.0" y="0.0" class="tG" stroke-width="2.2"/>
<use href="#q47" x="0.0" y="0.0" class="TG" stroke-width="1.5"/>
<use href="#q47" x="1.0" y="0.7" class="tL" stroke-width="2.2"/>
<use href="#q47" x="1.0" y="0.7" class="TL" stroke-width="1.5"/>
<use href="#q47" x="-0.8" y="1.0" class="tP" stroke-width="2.2"/>
<use href="#q47" x="-0.8" y="1.0" class="TP" stroke-width="1.5"/>

<use href="#q48" x="0.0" y="0.0" class="tL" stroke-width="2.2"/>
<use href="#q48" x="0.0" y="0.0" class="TL" stroke-width="1.5"/>
<use href="#q48" x="1.0" y="0.7" class="tP" stroke-width="2.2"/>
<use href="#q48" x="1.0" y="0.7" class="TP" stroke-width="1.5"/>
<use href="#q48" x="-0.8" y="1.0" class="tG" stroke-width="2.2"/>
<use href="#q48" x="-0.8" y="1.0" class="TG" stroke-width="1.5"/>

<use href="#q49" x="0.0" y="0.0" class="tP" stroke-width="2.2"/>
<use href="#q49" x="0.0" y="0.0" class="TP" stroke-width="1.5"/>
<use href="#q49" x="1.0" y="0.7" class="tG" stroke-width="2.2"/>
<use href="#q49" x="1.0" y="0.7" class="TG" stroke-width="1.5"/>
<use href="#q49" x="-0.8" y="1.0" class="tL" stroke-width="2.2"/>
<use href="#q49" x="-0.8" y="1.0" class="TL" stroke-width="1.5"/>

<use href="#q50" x="0.0" y="0.0" class="tP" stroke-width="2.2"/>
<use href="#q50" x="0.0" y="0.0" class="TP" stroke-width="1.5"/>
<use href="#q50" x="1.0" y="0.7" class="tG" stroke-width="2.2"/>
<use href="#q50" x="1.0" y="0.7" class="TG" stroke-width="1.5"/>
<use href="#q50" x="-0.8" y="1.0" class="tL" stroke-width="2.2"/>
<use href="#q50" x="-0.8" y="1.0" class="TL" stroke-width="1.5"/>

<use href="#q51" x="0.0" y="0.0" class="tG" stroke-width="2.2"/>
<use href="#q51" x="0.0" y="0.0" class="TG" stroke-width="1.5"/>
<use href="#q51" x="1.0" y="0.7" class="tP" stroke-width="2.2"/>
<use href="#q51" x="1.0" y="0.7" class="TP" stroke-width="1.5"/>
<use href="#q51" x="-0.8" y="1.0" class="tL" stroke-width="2.2"/>
<use href="#q51" x="-0.8" y="1.0" class="TL" stroke-width="1.5"/>

<use href="#q52" x="0.0" y="0.0" class="tP" stroke-width="2.2"/>
<use href="#q52" x="0.0" y="0.0" class="TP" stroke-width="1.5"/>
<use href="#q52" x="1.0" y="0.7" class="tG" stroke-width="2.2"/>
<use href="#q52" x="1.0" y="0.7" class="TG" stroke-width="1.5"/>
<use href="#q52" x="-0.8" y="1.0" class="tL" stroke-width="2.2"/>
<use href="#q52" x="-0.8" y="1.0" class="TL" stroke-width="1.5"/>

<use href="#q53" x="0.0" y="0.0" class="tG" stroke-width="2.2"/>
<use href="#q53" x="0.0" y="0.0" class="TG" stroke-width="1.5"/>
<use href="#q53" x="1.0" y="0.7" class="tP" stroke-width="2.2"/>
<use href="#q53" x="1.0" y="0.7" class="TP" stroke-width="1.5"/>
<use href="#q53" x="-0.8" y="1.0" class="tL" stroke-width="2.2"/>
<use href="#q53" x="-0.8" y="1.0" class="TL" stroke-width="1.5"/>

<use href="#q54" x="0.0" y="0.0" class="tG" stroke-width="2.2"/>
<use href="#q54" x="0.0" y="0.0" class="TG" stroke-width="1.5"/>
<use href="#q54" x="1.0" y="0.7" class="tL" stroke-width="2.2"/>
<use href="#q54" x="1.0" y="0.7" class="TL" stroke-width="1.5"/>
<use href="#q54" x="-0.8" y="1.0" class="tP" stroke-width="2.2"/>
<use href="#q54" x="-0.8" y="1.0" class="TP" stroke-width="1.5"/>

<use href="#q55" x="0.0" y="0.0" class="tG" stroke-width="2.2"/>
<use href="#q55" x="0.0" y="0.0" class="TG" stroke-width="1.5"/>
<use href="#q55" x="1.0" y="0.7" class="tL" stroke-width="2.2"/>
<use href="#q55" x="1.0" y="0.7" class="TL" stroke-width="1.5"/>
<use href="#q55" x="-0.8" y="1.0" class="tP" stroke-width="2.2"/>
<use href="#q55" x="-0.8" y="1.0" class="TP" stroke-width="1.5"/>

<use href="#q56" x="0.0" y="0.0" class="tL" stroke-width="2.2"/>
<use href="#q56" x="0.0" y="0.0" class="TL" stroke-width="1.5"/>
<use href="#q56" x="1.0" y="0.7" class="tP" stroke-width="2.2"/>
<use href="#q56" x="1.0" y="0.7" class="TP" stroke-width="1.5"/>
<use href="#q56" x="-0.8" y="1.0" class="tG" stroke-width="2.2"/>
<use href="#q56" x="-0.8" y="1.0" class="TG" stroke-width="1.5"/>

<use href="#q57" x="0.0" y="0.0" class="tP" stroke-width="2.2"/>
<use href="#q57" x="0.0" y="0.0" class="TP" stroke-width="1.5"/>
<use href="#q57" x="1.0" y="0.7" class="tG" stroke-width="2.2"/>
<use href="#q57" x="1.0" y="0.7" class="TG" stroke-width="1.5"/>
<use href="#q57" x="-0.8" y="1.0" class="tL" stroke-width="2.2"/>
<use href="#q57" x="-0.8" y="1.0" class="TL" stroke-width="1.5"/>

<use href="#q58" x="0.0" y="0.0" class="tL" stroke-width="2.2"/>
<use href="#q58" x="0.0" y="0.0" class="TL" stroke-width="1.5"/>
<use href="#q58" x="1.0" y="0.7" class="tP" stroke-width="2.2"/>
<use href="#q58" x="1.0" y="0.7" class="TP" stroke-width="1.5"/>
<use href="#q58" x="-0.8" y="1.0" class="tG" stroke-width="2.2"/>
<use href="#q58" x="-0.8" y="1.0" class="TG" stroke-width="1.5"/>

<use href="#q59" x="0.0" y="0.0" class="tL" stroke-width="2.2"/>
<use href="#q59" x="0.0" y="0.0" class="TL" stroke-width="1.5"/>
<use href="#q59" x="1.0" y="0.7" class="tP" stroke-width="2.2"/>
<use href="#q59" x="1.0" y="0.7" class="TP" stroke-width="1.5"/>
<use href="#q59" x="-0.8" y="1.0" class="tG" stroke-width="2.2"/>
<use href="#q59" x="-0.8" y="1.0" class="TG" stroke-width="1.5"/>

<use href="#q60" x="0.0" y="0.0" class="tL" stroke-width="2.2"/>
<use href="#q60" x="0.0" y="0.0" class="TL" stroke-width="1.5"/>
<use href="#q60" x="1.0" y="0.7" class="tP" stroke-width="2.2"/>
<use href="#q60" x="1.0" y="0.7" class="TP" stroke-width="1.5"/>
<use href="#q60" x="-0.8" y="1.0" class="tG" stroke-width="2.2"/>
<use href="#q60" x="-0.8" y="1.0" class="TG" stroke-width="1.5"/>

<use href="#q61" x="0.0" y="0.0" class="tP" stroke-width="2.2"/>
<use href="#q61" x="0.0" y="0.0" class="TP" stroke-width="1.5"/>
<use href="#q61" x="1.0" y="0.7" class="tG" stroke-width="2.2"/>
<use href="#q61" x="1.0" y="0.7" class="TG" stroke-width="1.5"/>
<use href="#q61" x="-0.8" y="1.0" class="tL" stroke-width="2.2"/>
<use href="#q61" x="-0.8" y="1.0" class="TL" stroke-width="1.5"/>

<use href="#q62" x="0.0" y="0.0" class="tP" stroke-width="2.2"/>
<use href="#q62" x="0.0" y="0.0" class="TP" stroke-width="1.5"/>
<use href="#q62" x="1.0" y="0.7" class="tG" stroke-width="2.2"/>
<use href="#q62" x="1.0" y="0.7" class="TG" stroke-width="1.5"/>
<use href="#q62" x="-0.8" y="1.0" class="tL" stroke-width="2.2"/>
<use href="#q62" x="-0.8" y="1.0" class="TL" stroke-width="1.5"/>

<use href="#q63" x="0.0" y="0.0" class="tP" stroke-width="2.2"/>
<use href="#q63" x="0.0" y="0.0" class="TP" stroke-width="1.5"/>
<use href="#q63" x="1.0" y="0.7" class="tG" stroke-width="2.2"/>
<use href="#q63" x="1.0" y="0.7" class="TG" stroke-width="1.5"/>
<use href="#q63" x="-0.8" y="1.0" class="tL" stroke-width="2.2"/>
<use href="#q63" x="-0.8" y="1.0" class="TL" stroke-width="1.5"/>

<use href="#q64" x="0.0" y="0.0" class="tG" stroke-width="2.2"/>
<use href="#q64" x="0.0" y="0.0" class="TG" stroke-width="1.5"/>
<use href="#q64" x="1.0" y="0.7" class="tP" stroke-width="2.2"/>
<use href="#q64" x="1.0" y="0.7" class="TP" stroke-width="1.5"/>
<use href="#q64" x="-0.8" y="1.0" class="tL" stroke-width="2.2"/>
<use href="#q64" x="-0.8" y="1.0" class="TL" stroke-width="1.5"/>

<use href="#q65" x="0.0" y="0.0" class="tP" stroke-width="2.2"/>
<use href="#q65" x="0.0" y="0.0" class="TP" stroke-width="1.5"/>
<use href="#q65" x="1.0" y="0.7" class="tG" stroke-width="2.2"/>
<use href="#q65" x="1.0" y="0.7" class="TG" stroke-width="1.5"/>
<use href="#q65" x="-0.8" y="1.0" class="tL" stroke-width="2.2"/>
<use href="#q65" x="-0.8" y="1.0" class="TL" stroke-width="1.5"/>

<use href="#q66" x="0.0" y="0.0" class="tL" stroke-width="2.2"/>
<use href="#q66" x="0.0" y="0.0" class="TL" stroke-width="1.5"/>
<use href="#q66" x="1.0" y="0.7" class="tP" stroke-width="2.2"/>
<use href="#q66" x="1.0" y="0.7" class="TP" stroke-width="1.5"/>
<use href="#q66" x="-0.8" y="1.0" class="tG" stroke-width="2.2"/>
<use href="#q66" x="-0.8" y="1.0" class="TG" stroke-width="1.5"/>

<use href="#q67" x="0.0" y="0.0" class="tG" stroke-width="2.2"/>
<use href="#q67" x="0.0" y="0.0" class="TG" stroke-width="1.5"/>
<use href="#q67" x="1.0" y="0.7" class="tP" stroke-width="2.2"/>
<use href="#q67" x="1.0" y="0.7" class="TP" stroke-width="1.5"/>
<use href="#q67" x="-0.8" y="1.0" class="tL" stroke-width="2.2"/>
<use href="#q67" x="-0.8" y="1.0" class="TL" stroke-width="1.5"/>

<use href="#q68" x="0.0" y="0.0" class="tP" stroke-width="2.2"/>
<use href="#q68" x="0.0" y="0.0" class="TP" stroke-width="1.5"/>
<use href="#q68" x="1.0" y="0.7" class="tG" stroke-width="2.2"/>
<use href="#q68" x="1.0" y="0.7" class="TG" stroke-width="1.5"/>
<use href="#q68" x="-0.8" y="1.0" class="tL" stroke-width="2.2"/>
<use href="#q68" x="-0.8" y="1.0" class="TL" stroke-width="1.5"/>

<use href="#q69" x="0.0" y="0.0" class="tL" stroke-width="2.2"/>
<use href="#q69" x="0.0" y="0.0" class="TL" stroke-width="1.5"/>
<use href="#q69" x="1.0" y="0.7" class="tP" stroke-width="2.2"/>
<use href="#q69" x="1.0" y="0.7" class="TP" stroke-width="1.5"/>
<use href="#q69" x="-0.8" y="1.0" class="tG" stroke-width="2.2"/>
<use href="#q69" x="-0.8" y="1.0" class="TG" stroke-width="1.5"/>

<use href="#q70" x="0.0" y="0.0" class="tG" stroke-width="2.2"/>
<use href="#q70" x="0.0" y="0.0" class="TG" stroke-width="1.5"/>
<use href="#q70" x="1.0" y="0.7" class="tL" stroke-width="2.2"/>
<use href="#q70" x="1.0" y="0.7" class="TL" stroke-width="1.5"/>
<use href="#q70" x="-0.8" y="1.0" class="tP" stroke-width="2.2"/>
<use href="#q70" x="-0.8" y="1.0" class="TP" stroke-width="1.5"/>

<use href="#q71" x="0.0" y="0.0" class="tG" stroke-width="2.2"/>
<use href="#q71" x="0.0" y="0.0" class="TG" stroke-width="1.5"/>
<use href="#q71" x="1.0" y="0.7" class="tP" stroke-width="2.2"/>
<use href="#q71" x="1.0" y="0.7" class="TP" stroke-width="1.5"/>
<use href="#q71" x="-0.8" y="1.0" class="tL" stroke-width="2.2"/>
<use href="#q71" x="-0.8" y="1.0" class="TL" stroke-width="1.5"/>

<use href="#q72" x="0.0" y="0.0" class="tG" stroke-width="2.2"/>
<use href="#q72" x="0.0" y="0.0" class="TG" stroke-width="1.5"/>
<use href="#q72" x="1.0" y="0.7" class="tP" stroke-width="2.2"/>
<use href="#q72" x="1.0" y="0.7" class="TP" stroke-width="1.5"/>
<use href="#q72" x="-0.8" y="1.0" class="tL" stroke-width="2.2"/>
<use href="#q72" x="-0.8" y="1.0" class="TL" stroke-width="1.5"/>

<use href="#q73" x="0.0" y="0.0" class="tG" stroke-width="2.2"/>
<use href="#q73" x="0.0" y="0.0" class="TG" stroke-width="1.5"/>
<use href="#q73" x="1.0" y="0.7" class="tP" stroke-width="2.2"/>
<use href="#q73" x="1.0" y="0.7" class="TP" stroke-width="1.5"/>
<use href="#q73" x="-0.8" y="1.0" class="tL" stroke-width="2.2"/>
<use href="#q73" x="-0.8" y="1.0" class="TL" stroke-width="1.5"/>

<use href="#q74" x="0.0" y="0.0" class="tP" stroke-width="2.2"/>
<use href="#q74" x="0.0" y="0.0" class="TP" stroke-width="1.5"/>
<use href="#q74" x="1.0" y="0.7" class="tG" stroke-width="2.2"/>
<use href="#q74" x="1.0" y="0.7" class="TG" stroke-width="1.5"/>
<use href="#q74" x="-0.8" y="1.0" class="tL" stroke-width="2.2"/>
<use href="#q74" x="-0.8" y="1.0" class="TL" stroke-width="1.5"/>

<use href="#q75" x="0.0" y="0.0" class="tP" stroke-width="2.2"/>
<use href="#q75" x="0.0" y="0.0" class="TP" stroke-width="1.5"/>
<use href="#q75" x="1.0" y="0.7" class="tG" stroke-width="2.2"/>
<use href="#q75" x="1.0" y="0.7" class="TG" stroke-width="1.5"/>
<use href="#q75" x="-0.8" y="1.0" class="tL" stroke-width="2.2"/>
<use href="#q75" x="-0.8" y="1.0" class="TL" stroke-width="1.5"/>

<use href="#q76" x="0.0" y="0.0" class="tP" stroke-width="2.2"/>
<use href="#q76" x="0.0" y="0.0" class="TP" stroke-width="1.5"/>
<use href="#q76" x="1.0" y="0.7" class="tG" stroke-width="2.2"/>
<use href="#q76" x="1.0" y="0.7" class="TG" stroke-width="1.5"/>
<use href="#q76" x="-0.8" y="1.0" class="tL" stroke-width="2.2"/>
<use href="#q76" x="-0.8" y="1.0" class="TL" stroke-width="1.5"/>

<use href="#q77" x="0.0" y="0.0" class="tP" stroke-width="2.2"/>
<use href="#q77" x="0.0" y="0.0" class="TP" stroke-width="1.5"/>
<use href="#q77" x="1.0" y="0.7" class="tG" stroke-width="2.2"/>
<use href="#q77" x="1.0" y="0.7" class="TG" stroke-width="1.5"/>
<use href="#q77" x="-0.8" y="1.0" class="tL" stroke-width="2.2"/>
<use href="#q77" x="-0.8" y="1.0" class="TL" stroke-width="1.5"/>

<use href="#q78" x="0.0" y="0.0" class="tG" stroke-width="2.2"/>
<use href="#q78" x="0.0" y="0.0" class="TG" stroke-width="1.5"/>
<use href="#q78" x="1.0" y="0.7" class="tP" stroke-width="2.2"/>
<use href="#q78" x="1.0" y="0.7" class="TP" stroke-width="1.5"/>
<use href="#q78" x="-0.8" y="1.0" class="tL" stroke-width="2.2"/>
<use href="#q78" x="-0.8" y="1.0" class="TL" stroke-width="1.5"/>

<use href="#q79" x="0.0" y="0.0" class="tG" stroke-width="2.2"/>
<use href="#q79" x="0.0" y="0.0" class="TG" stroke-width="1.5"/>
<use href="#q79" x="1.0" y="0.7" class="tP" stroke-width="2.2"/>
<use href="#q79" x="1.0" y="0.7" class="TP" stroke-width="1.5"/>
<use href="#q79" x="-0.8" y="1.0" class="tL" stroke-width="2.2"/>
<use href="#q79" x="-0.8" y="1.0" class="TL" stroke-width="1.5"/>

<use href="#q80" x="0.0" y="0.0" class="tG" stroke-width="2.2"/>
<use href="#q80" x="0.0" y="0.0" class="TG" stroke-width="1.5"/>
<use href="#q80" x="1.0" y="0.7" class="tP" stroke-width="2.2"/>
<use href="#q80" x="1.0" y="0.7" class="TP" stroke-width="1.5"/>
<use href="#q80" x="-0.8" y="1.0" class="tL" stroke-width="2.2"/>
<use href="#q80" x="-0.8" y="1.0" class="TL" stroke-width="1.5"/>

<use href="#q81" x="0.0" y="0.0" class="tL" stroke-width="2.2"/>
<use href="#q81" x="0.0" y="0.0" class="TL" stroke-width="1.5"/>
<use href="#q81" x="1.0" y="0.7" class="tP" stroke-width="2.2"/>
<use href="#q81" x="1.0" y="0.7" class="TP" stroke-width="1.5"/>
<use href="#q81" x="-0.8" y="1.0" class="tG" stroke-width="2.2"/>
<use href="#q81" x="-0.8" y="1.0" class="TG" stroke-width="1.5"/>

<use href="#q82" x="0.0" y="0.0" class="tP" stroke-width="2.2"/>
<use href="#q82" x="0.0" y="0.0" class="TP" stroke-width="1.5"/>
<use href="#q82" x="1.0" y="0.7" class="tG" stroke-width="2.2"/>
<use href="#q82" x="1.0" y="0.7" class="TG" stroke-width="1.5"/>
<use href="#q82" x="-0.8" y="1.0" class="tL" stroke-width="2.2"/>
<use href="#q82" x="-0.8" y="1.0" class="TL" stroke-width="1.5"/>

<use href="#q83" x="0.0" y="0.0" class="tP" stroke-width="2.2"/>
<use href="#q83" x="0.0" y="0.0" class="TP" stroke-width="1.5"/>
<use href="#q83" x="1.0" y="0.7" class="tG" stroke-width="2.2"/>
<use href="#q83" x="1.0" y="0.7" class="TG" stroke-width="1.5"/>
<use href="#q83" x="-0.8" y="1.0" class="tL" stroke-width="2.2"/>
<use href="#q83" x="-0.8" y="1.0" class="TL" stroke-width="1.5"/>

<use href="#q84" x="0.0" y="0.0" class="tG" stroke-width="2.2"/>
<use href="#q84" x="0.0" y="0.0" class="TG" stroke-width="1.5"/>
<use href="#q84" x="1.0" y="0.7" class="tL" stroke-width="2.2"/>
<use href="#q84" x="1.0" y="0.7" class="TL" stroke-width="1.5"/>
<use href="#q84" x="-0.8" y="1.0" class="tP" stroke-width="2.2"/>
<use href="#q84" x="-0.8" y="1.0" class="TP" stroke-width="1.5"/>

<use href="#q85" x="0.0" y="0.0" class="tP" stroke-width="2.2"/>
<use href="#q85" x="0.0" y="0.0" class="TP" stroke-width="1.5"/>
<use href="#q85" x="1.0" y="0.7" class="tG" stroke-width="2.2"/>
<use href="#q85" x="1.0" y="0.7" class="TG" stroke-width="1.5"/>
<use href="#q85" x="-0.8" y="1.0" class="tL" stroke-width="2.2"/>
<use href="#q85" x="-0.8" y="1.0" class="TL" stroke-width="1.5"/>

<use href="#q86" x="0.0" y="0.0" class="tP" stroke-width="2.2"/>
<use href="#q86" x="0.0" y="0.0" class="TP" stroke-width="1.5"/>
<use href="#q86" x="1.0" y="0.7" class="tG" stroke-width="2.2"/>
<use href="#q86" x="1.0" y="0.7" class="TG" stroke-width="1.5"/>
<use href="#q86" x="-0.8" y="1.0" class="tL" stroke-width="2.2"/>
<use href="#q86" x="-0.8" y="1.0" class="TL" stroke-width="1.5"/>

<use href="#q87" x="0.0" y="0.0" class="tL" stroke-width="2.2"/>
<use href="#q87" x="0.0" y="0.0" class="TL" stroke-width="1.5"/>
<use href="#q87" x="1.0" y="0.7" class="tP" stroke-width="2.2"/>
<use href="#q87" x="1.0" y="0.7" class="TP" stroke-width="1.5"/>
<use href="#q87" x="-0.8" y="1.0" class="tG" stroke-width="2.2"/>
<use href="#q87" x="-0.8" y="1.0" class="TG" stroke-width="1.5"/>

<use href="#q88" x="0.0" y="0.0" class="tG" stroke-width="2.2"/>
<use href="#q88" x="0.0" y="0.0" class="TG" stroke-width="1.5"/>
<use href="#q88" x="1.0" y="0.7" class="tP" stroke-width="2.2"/>
<use href="#q88" x="1.0" y="0.7" class="TP" stroke-width="1.5"/>
<use href="#q88" x="-0.8" y="1.0" class="tL" stroke-width="2.2"/>
<use href="#q88" x="-0.8" y="1.0" class="TL" stroke-width="1.5"/>
<path d="M280.0 488.0C283.3 486.7 293.0 483.0 300.0 480.0C307.0 477.0 318.3 471.7 322.0 470.0" fill="none" stroke="#a0a3d3" stroke-width="6.40" stroke-linecap="butt" stroke-linejoin="round"/>
<path d="M280.0 488.0C283.3 486.7 293.0 483.0 300.0 480.0C307.0 477.0 318.3 471.7 322.0 470.0" fill="none" stroke="#c4c6ea" stroke-width="5.00" stroke-linecap="butt" stroke-linejoin="round"/>
<path d="M280.8 485.8C284.1 484.5 293.8 480.8 300.8 477.8C307.8 474.8 319.1 469.5 322.8 467.8" fill="none" stroke="#8fc28b" stroke-width="2.60" stroke-linecap="butt" stroke-linejoin="round"/>
<path d="M280.8 485.8C284.1 484.5 293.8 480.8 300.8 477.8C307.8 474.8 319.1 469.5 322.8 467.8" fill="none" stroke="#b2ddad" stroke-width="1.20" stroke-linecap="butt" stroke-linejoin="round"/>
<path d="M286.0 501.0C289.7 499.5 300.0 495.3 308.0 492.0C316.0 488.7 329.7 482.8 334.0 481.0" fill="none" stroke="#a0a3d3" stroke-width="6.40" stroke-linecap="butt" stroke-linejoin="round"/>
<path d="M286.0 501.0C289.7 499.5 300.0 495.3 308.0 492.0C316.0 488.7 329.7 482.8 334.0 481.0" fill="none" stroke="#c4c6ea" stroke-width="5.00" stroke-linecap="butt" stroke-linejoin="round"/>
<path d="M286.8 498.8C290.5 497.3 300.8 493.1 308.8 489.8C316.8 486.5 330.5 480.6 334.8 478.8" fill="none" stroke="#8fc28b" stroke-width="2.60" stroke-linecap="butt" stroke-linejoin="round"/>
<path d="M286.8 498.8C290.5 497.3 300.8 493.1 308.8 489.8C316.8 486.5 330.5 480.6 334.8 478.8" fill="none" stroke="#b2ddad" stroke-width="1.20" stroke-linecap="butt" stroke-linejoin="round"/>
<path d="M296.0 512.0C300.0 510.5 311.7 506.3 320.0 503.0C328.3 499.7 341.7 493.8 346.0 492.0" fill="none" stroke="#8fc28b" stroke-width="5.90" stroke-linecap="butt" stroke-linejoin="round"/>
<path d="M296.0 512.0C300.0 510.5 311.7 506.3 320.0 503.0C328.3 499.7 341.7 493.8 346.0 492.0" fill="none" stroke="#b2ddad" stroke-width="4.50" stroke-linecap="butt" stroke-linejoin="round"/>
<path d="M296.8 509.8C300.8 508.3 312.5 504.1 320.8 500.8C329.1 497.5 342.5 491.6 346.8 489.8" fill="none" stroke="#8fc28b" stroke-width="2.60" stroke-linecap="butt" stroke-linejoin="round"/>
<path d="M296.8 509.8C300.8 508.3 312.5 504.1 320.8 500.8C329.1 497.5 342.5 491.6 346.8 489.8" fill="none" stroke="#b2ddad" stroke-width="1.20" stroke-linecap="butt" stroke-linejoin="round"/>
<path d="M306.0 522.0C310.0 520.5 322.3 516.0 330.0 513.0C337.7 510.0 348.3 505.5 352.0 504.0" fill="none" stroke="#a0a3d3" stroke-width="5.90" stroke-linecap="butt" stroke-linejoin="round"/>
<path d="M306.0 522.0C310.0 520.5 322.3 516.0 330.0 513.0C337.7 510.0 348.3 505.5 352.0 504.0" fill="none" stroke="#c4c6ea" stroke-width="4.50" stroke-linecap="butt" stroke-linejoin="round"/>
<path d="M306.8 519.8C310.8 518.3 323.1 513.8 330.8 510.8C338.5 507.8 349.1 503.3 352.8 501.8" fill="none" stroke="#8fc28b" stroke-width="2.60" stroke-linecap="butt" stroke-linejoin="round"/>
<path d="M306.8 519.8C310.8 518.3 323.1 513.8 330.8 510.8C338.5 507.8 349.1 503.3 352.8 501.8" fill="none" stroke="#b2ddad" stroke-width="1.20" stroke-linecap="butt" stroke-linejoin="round"/>
<path d="M272.0 472.0C275.0 470.8 284.0 467.5 290.0 465.0C296.0 462.5 305.0 458.3 308.0 457.0" fill="none" stroke="#a0a3d3" stroke-width="5.90" stroke-linecap="butt" stroke-linejoin="round"/>
<path d="M272.0 472.0C275.0 470.8 284.0 467.5 290.0 465.0C296.0 462.5 305.0 458.3 308.0 457.0" fill="none" stroke="#c4c6ea" stroke-width="4.50" stroke-linecap="butt" stroke-linejoin="round"/>
<path d="M272.8 469.8C275.8 468.6 284.8 465.3 290.8 462.8C296.8 460.3 305.8 456.1 308.8 454.8" fill="none" stroke="#8fc28b" stroke-width="2.60" stroke-linecap="butt" stroke-linejoin="round"/>
<path d="M272.8 469.8C275.8 468.6 284.8 465.3 290.8 462.8C296.8 460.3 305.8 456.1 308.8 454.8" fill="none" stroke="#b2ddad" stroke-width="1.20" stroke-linecap="butt" stroke-linejoin="round"/>
<path d="M262.0 456.0C264.7 455.0 273.0 452.0 278.0 450.0C283.0 448.0 289.7 445.0 292.0 444.0" fill="none" stroke="#8fc28b" stroke-width="5.40" stroke-linecap="butt" stroke-linejoin="round"/>
<path d="M262.0 456.0C264.7 455.0 273.0 452.0 278.0 450.0C283.0 448.0 289.7 445.0 292.0 444.0" fill="none" stroke="#b2ddad" stroke-width="4.00" stroke-linecap="butt" stroke-linejoin="round"/>
<path d="M262.8 453.8C265.5 452.8 273.8 449.8 278.8 447.8C283.8 445.8 290.5 442.8 292.8 441.8" fill="none" stroke="#8fc28b" stroke-width="2.60" stroke-linecap="butt" stroke-linejoin="round"/>
<path d="M262.8 453.8C265.5 452.8 273.8 449.8 278.8 447.8C283.8 445.8 290.5 442.8 292.8 441.8" fill="none" stroke="#b2ddad" stroke-width="1.20" stroke-linecap="butt" stroke-linejoin="round"/>
<path d="M286.0 422.0C286.8 421.0 288.0 415.0 291.0 416.0C294.0 417.0 300.3 425.2 304.0 428.0C307.7 430.8 310.7 430.8 313.0 433.0C315.3 435.2 316.8 438.2 318.0 441.0C319.2 443.8 319.7 448.5 320.0 450.0" fill="none" stroke="#8a5a5a" stroke-width="4.60" stroke-linecap="butt" stroke-linejoin="round"/>
<path d="M286.0 422.0C286.8 421.0 288.0 415.0 291.0 416.0C294.0 417.0 300.3 425.2 304.0 428.0C307.7 430.8 310.7 430.8 313.0 433.0C315.3 435.2 316.8 438.2 318.0 441.0C319.2 443.8 319.7 448.5 320.0 450.0" fill="none" stroke="#b07a7a" stroke-width="3.20" stroke-linecap="butt" stroke-linejoin="round"/>
<path d="M318.0 424.0C320.0 424.7 326.3 425.3 330.0 428.0C333.7 430.7 337.7 435.3 340.0 440.0C342.3 444.7 343.3 453.3 344.0 456.0" fill="none" stroke="#8a5a5a" stroke-width="5.20" stroke-linecap="butt" stroke-linejoin="round"/>
<path d="M318.0 424.0C320.0 424.7 326.3 425.3 330.0 428.0C333.7 430.7 337.7 435.3 340.0 440.0C342.3 444.7 343.3 453.3 344.0 456.0" fill="none" stroke="#b07a7a" stroke-width="3.80" stroke-linecap="butt" stroke-linejoin="round"/>
<path d="M336.0 440.0C336.7 442.5 339.7 450.0 340.0 455.0C340.3 460.0 338.3 467.5 338.0 470.0" fill="none" stroke="#8a5a5a" stroke-width="5.20" stroke-linecap="butt" stroke-linejoin="round"/>
<path d="M336.0 440.0C336.7 442.5 339.7 450.0 340.0 455.0C340.3 460.0 338.3 467.5 338.0 470.0" fill="none" stroke="#b07a7a" stroke-width="3.80" stroke-linecap="butt" stroke-linejoin="round"/>
<path d="M292.0 540.0C293.3 543.3 296.7 553.0 300.0 560.0C303.3 567.0 310.0 578.3 312.0 582.0" fill="none" stroke="#8fc28b" stroke-width="5.00" stroke-linecap="butt" stroke-linejoin="round"/>
<path d="M292.0 540.0C293.3 543.3 296.7 553.0 300.0 560.0C303.3 567.0 310.0 578.3 312.0 582.0" fill="none" stroke="#b2ddad" stroke-width="3.60" stroke-linecap="butt" stroke-linejoin="round"/>
<path d="M295.5 541.5C296.8 544.8 300.2 554.2 303.5 561.0C306.8 567.8 313.1 578.5 315.0 582.0" fill="none" stroke="#a0a3d3" stroke-width="5.00" stroke-linecap="butt" stroke-linejoin="round"/>
<path d="M295.5 541.5C296.8 544.8 300.2 554.2 303.5 561.0C306.8 567.8 313.1 578.5 315.0 582.0" fill="none" stroke="#c4c6ea" stroke-width="3.60" stroke-linecap="butt" stroke-linejoin="round"/>
<path d="M299.0 543.0C300.3 546.2 303.8 555.5 307.0 562.0C310.2 568.5 316.2 578.7 318.0 582.0" fill="none" stroke="#8fc28b" stroke-width="5.00" stroke-linecap="butt" stroke-linejoin="round"/>
<path d="M299.0 543.0C300.3 546.2 303.8 555.5 307.0 562.0C310.2 568.5 316.2 578.7 318.0 582.0" fill="none" stroke="#b2ddad" stroke-width="3.60" stroke-linecap="butt" stroke-linejoin="round"/>
<path d="M302.5 544.5C303.8 547.6 307.4 556.8 310.5 563.0C313.6 569.2 319.2 578.8 321.0 582.0" fill="none" stroke="#a0a3d3" stroke-width="5.00" stroke-linecap="butt" stroke-linejoin="round"/>
<path d="M302.5 544.5C303.8 547.6 307.4 556.8 310.5 563.0C313.6 569.2 319.2 578.8 321.0 582.0" fill="none" stroke="#c4c6ea" stroke-width="3.60" stroke-linecap="butt" stroke-linejoin="round"/>
<path d="M296.0 452.0C300.3 453.0 313.8 454.7 322.0 458.0C330.2 461.3 338.0 466.3 345.0 472.0C352.0 477.7 358.5 485.3 364.0 492.0C369.5 498.7 375.7 508.7 378.0 512.0" fill="none" stroke="#7478b4" stroke-width="8.40" stroke-linecap="butt" stroke-linejoin="round"/>
<path d="M296.0 452.0C300.3 453.0 313.8 454.7 322.0 458.0C330.2 461.3 338.0 466.3 345.0 472.0C352.0 477.7 358.5 485.3 364.0 492.0C369.5 498.7 375.7 508.7 378.0 512.0" fill="none" stroke="#b0b3e2" stroke-width="7.00" stroke-linecap="butt" stroke-linejoin="round"/>
<path d="M372.6,515.8 L383.2,519.5 L383.4,508.2Z" fill="#b0b3e2" stroke="#7478b4" stroke-width="0.7"/>
<path d="M302.0 458.0C306.0 460.2 319.0 465.8 326.0 471.0C333.0 476.2 338.8 483.0 344.0 489.0C349.2 495.0 353.5 502.2 357.0 507.0C360.5 511.8 363.7 516.2 365.0 518.0" fill="none" stroke="#a05555" stroke-width="6.90" stroke-linecap="butt" stroke-linejoin="round"/>
<path d="M302.0 458.0C306.0 460.2 319.0 465.8 326.0 471.0C333.0 476.2 338.8 483.0 344.0 489.0C349.2 495.0 353.5 502.2 357.0 507.0C360.5 511.8 363.7 516.2 365.0 518.0" fill="none" stroke="#d98585" stroke-width="5.50" stroke-linecap="butt" stroke-linejoin="round"/>
<path d="M360.8,521.1 L369.2,523.8 L369.2,514.9Z" fill="#d98585" stroke="#a05555" stroke-width="0.7"/>
<path d="M318,457 C335,463 350,476 362,492" fill="none" stroke="#e6e7f7" stroke-width="2.2" opacity="0.85"/>
<ellipse cx="352.4" cy="538.4" rx="7.5" ry="7.5" transform="rotate(15 352.4 538.4)" fill="none" stroke="#c08585" stroke-width="5.4"/>
<ellipse cx="352.4" cy="538.4" rx="7.5" ry="7.5" transform="rotate(15 352.4 538.4)" fill="none" stroke="#dca0a0" stroke-width="4.5"/>
<path d="M352.4 530.9A7.5 7.5 0 0 1 352.4 545.9" transform="rotate(15 352.4 538.4)" fill="none" stroke="#c4c6ea" stroke-width="4.5" opacity="0.9"/>
<ellipse cx="362.0" cy="541.0" rx="7.5" ry="7.5" transform="rotate(15 362.0 541.0)" fill="none" stroke="#a0a3d3" stroke-width="5.4"/>
<ellipse cx="362.0" cy="541.0" rx="7.5" ry="7.5" transform="rotate(15 362.0 541.0)" fill="none" stroke="#c4c6ea" stroke-width="4.5"/>
<path d="M362.0 533.5A7.5 7.5 0 0 1 362.0 548.5" transform="rotate(15 362.0 541.0)" fill="none" stroke="#b2ddad" stroke-width="4.5" opacity="0.9"/>
<ellipse cx="371.6" cy="543.6" rx="7.5" ry="7.5" transform="rotate(15 371.6 543.6)" fill="none" stroke="#8fc28b" stroke-width="5.4"/>
<ellipse cx="371.6" cy="543.6" rx="7.5" ry="7.5" transform="rotate(15 371.6 543.6)" fill="none" stroke="#b2ddad" stroke-width="4.5"/>
<path d="M371.6 536.1A7.5 7.5 0 0 1 371.6 551.1" transform="rotate(15 371.6 543.6)" fill="none" stroke="#dca0a0" stroke-width="4.5" opacity="0.9"/>
<ellipse cx="396.7" cy="546.5" rx="6.3" ry="7.5" transform="rotate(10 396.7 546.5)" fill="none" stroke="#c08585" stroke-width="5.4"/>
<ellipse cx="396.7" cy="546.5" rx="6.3" ry="7.5" transform="rotate(10 396.7 546.5)" fill="none" stroke="#dca0a0" stroke-width="4.5"/>
<path d="M396.7 539.0A6.3 7.5 0 0 1 396.7 554.0" transform="rotate(10 396.7 546.5)" fill="none" stroke="#c4c6ea" stroke-width="4.5" opacity="0.9"/>
<ellipse cx="405.0" cy="548.0" rx="6.3" ry="7.5" transform="rotate(10 405.0 548.0)" fill="none" stroke="#a0a3d3" stroke-width="5.4"/>
<ellipse cx="405.0" cy="548.0" rx="6.3" ry="7.5" transform="rotate(10 405.0 548.0)" fill="none" stroke="#c4c6ea" stroke-width="4.5"/>
<path d="M405.0 540.5A6.3 7.5 0 0 1 405.0 555.5" transform="rotate(10 405.0 548.0)" fill="none" stroke="#b2ddad" stroke-width="4.5" opacity="0.9"/>
<ellipse cx="413.3" cy="549.5" rx="6.3" ry="7.5" transform="rotate(10 413.3 549.5)" fill="none" stroke="#8fc28b" stroke-width="5.4"/>
<ellipse cx="413.3" cy="549.5" rx="6.3" ry="7.5" transform="rotate(10 413.3 549.5)" fill="none" stroke="#b2ddad" stroke-width="4.5"/>
<path d="M413.3 542.0A6.3 7.5 0 0 1 413.3 557.0" transform="rotate(10 413.3 549.5)" fill="none" stroke="#dca0a0" stroke-width="4.5" opacity="0.9"/>
<ellipse cx="434.8" cy="460.3" rx="10.3" ry="9.4" transform="rotate(85 434.8 460.3)" fill="none" stroke="#8fc28b" stroke-width="6.5"/>
<ellipse cx="434.8" cy="460.3" rx="10.3" ry="9.4" transform="rotate(85 434.8 460.3)" fill="none" stroke="#b2ddad" stroke-width="5.6"/>
<path d="M434.8 450.9A10.3 9.4 0 0 1 434.8 469.6" transform="rotate(85 434.8 460.3)" fill="none" stroke="#dca0a0" stroke-width="5.6" opacity="0.9"/>
<ellipse cx="436.0" cy="474.0" rx="10.3" ry="9.4" transform="rotate(85 436.0 474.0)" fill="none" stroke="#c08585" stroke-width="6.5"/>
<ellipse cx="436.0" cy="474.0" rx="10.3" ry="9.4" transform="rotate(85 436.0 474.0)" fill="none" stroke="#dca0a0" stroke-width="5.6"/>
<path d="M436.0 464.6A10.3 9.4 0 0 1 436.0 483.4" transform="rotate(85 436.0 474.0)" fill="none" stroke="#c4c6ea" stroke-width="5.6" opacity="0.9"/>
<ellipse cx="437.2" cy="487.7" rx="10.3" ry="9.4" transform="rotate(85 437.2 487.7)" fill="none" stroke="#a0a3d3" stroke-width="6.5"/>
<ellipse cx="437.2" cy="487.7" rx="10.3" ry="9.4" transform="rotate(85 437.2 487.7)" fill="none" stroke="#c4c6ea" stroke-width="5.6"/>
<path d="M437.2 478.4A10.3 9.4 0 0 1 437.2 497.1" transform="rotate(85 437.2 487.7)" fill="none" stroke="#b2ddad" stroke-width="5.6" opacity="0.9"/>
<ellipse cx="418.4" cy="516.2" rx="5.8" ry="6.9" transform="rotate(30 418.4 516.2)" fill="none" stroke="#c08585" stroke-width="5.0"/>
<ellipse cx="418.4" cy="516.2" rx="5.8" ry="6.9" transform="rotate(30 418.4 516.2)" fill="none" stroke="#dca0a0" stroke-width="4.1"/>
<path d="M418.4 509.3A5.8 6.9 0 0 1 418.4 523.0" transform="rotate(30 418.4 516.2)" fill="none" stroke="#c4c6ea" stroke-width="4.1" opacity="0.9"/>
<ellipse cx="425.0" cy="520.0" rx="5.8" ry="6.9" transform="rotate(30 425.0 520.0)" fill="none" stroke="#a0a3d3" stroke-width="5.0"/>
<ellipse cx="425.0" cy="520.0" rx="5.8" ry="6.9" transform="rotate(30 425.0 520.0)" fill="none" stroke="#c4c6ea" stroke-width="4.1"/>
<path d="M425.0 513.1A5.8 6.9 0 0 1 425.0 526.9" transform="rotate(30 425.0 520.0)" fill="none" stroke="#b2ddad" stroke-width="4.1" opacity="0.9"/>
<ellipse cx="431.6" cy="523.8" rx="5.8" ry="6.9" transform="rotate(30 431.6 523.8)" fill="none" stroke="#8fc28b" stroke-width="5.0"/>
<ellipse cx="431.6" cy="523.8" rx="5.8" ry="6.9" transform="rotate(30 431.6 523.8)" fill="none" stroke="#b2ddad" stroke-width="4.1"/>
<path d="M431.6 517.0A5.8 6.9 0 0 1 431.6 530.7" transform="rotate(30 431.6 523.8)" fill="none" stroke="#dca0a0" stroke-width="4.1" opacity="0.9"/>
<ellipse cx="325.1" cy="538.0" rx="5.2" ry="6.2" transform="rotate(0 325.1 538.0)" fill="none" stroke="#a0a3d3" stroke-width="4.7"/>
<ellipse cx="325.1" cy="538.0" rx="5.2" ry="6.2" transform="rotate(0 325.1 538.0)" fill="none" stroke="#c4c6ea" stroke-width="3.8"/>
<path d="M325.1 531.8A5.2 6.2 0 0 1 325.1 544.2" transform="rotate(0 325.1 538.0)" fill="none" stroke="#dca0a0" stroke-width="3.8" opacity="0.9"/>
<ellipse cx="332.0" cy="538.0" rx="5.2" ry="6.2" transform="rotate(0 332.0 538.0)" fill="none" stroke="#c08585" stroke-width="4.7"/>
<ellipse cx="332.0" cy="538.0" rx="5.2" ry="6.2" transform="rotate(0 332.0 538.0)" fill="none" stroke="#dca0a0" stroke-width="3.8"/>
<path d="M332.0 531.8A5.2 6.2 0 0 1 332.0 544.2" transform="rotate(0 332.0 538.0)" fill="none" stroke="#b2ddad" stroke-width="3.8" opacity="0.9"/>
<ellipse cx="338.9" cy="538.0" rx="5.2" ry="6.2" transform="rotate(0 338.9 538.0)" fill="none" stroke="#8fc28b" stroke-width="4.7"/>
<ellipse cx="338.9" cy="538.0" rx="5.2" ry="6.2" transform="rotate(0 338.9 538.0)" fill="none" stroke="#b2ddad" stroke-width="3.8"/>
<path d="M338.9 531.8A5.2 6.2 0 0 1 338.9 544.2" transform="rotate(0 338.9 538.0)" fill="none" stroke="#c4c6ea" stroke-width="3.8" opacity="0.9"/>
<ellipse cx="385.1" cy="584.9" rx="7.5" ry="6.9" transform="rotate(-5 385.1 584.9)" fill="none" stroke="#a0a3d3" stroke-width="5.0"/>
<ellipse cx="385.1" cy="584.9" rx="7.5" ry="6.9" transform="rotate(-5 385.1 584.9)" fill="none" stroke="#c4c6ea" stroke-width="4.1"/>
<path d="M385.1 578.0A7.5 6.9 0 0 1 385.1 591.7" transform="rotate(-5 385.1 584.9)" fill="none" stroke="#b2ddad" stroke-width="4.1" opacity="0.9"/>
<ellipse cx="395.0" cy="584.0" rx="7.5" ry="6.9" transform="rotate(-5 395.0 584.0)" fill="none" stroke="#8fc28b" stroke-width="5.0"/>
<ellipse cx="395.0" cy="584.0" rx="7.5" ry="6.9" transform="rotate(-5 395.0 584.0)" fill="none" stroke="#b2ddad" stroke-width="4.1"/>
<path d="M395.0 577.1A7.5 6.9 0 0 1 395.0 590.9" transform="rotate(-5 395.0 584.0)" fill="none" stroke="#dca0a0" stroke-width="4.1" opacity="0.9"/>
<ellipse cx="404.9" cy="583.1" rx="7.5" ry="6.9" transform="rotate(-5 404.9 583.1)" fill="none" stroke="#c08585" stroke-width="5.0"/>
<ellipse cx="404.9" cy="583.1" rx="7.5" ry="6.9" transform="rotate(-5 404.9 583.1)" fill="none" stroke="#dca0a0" stroke-width="4.1"/>
<path d="M404.9 576.3A7.5 6.9 0 0 1 404.9 590.0" transform="rotate(-5 404.9 583.1)" fill="none" stroke="#c4c6ea" stroke-width="4.1" opacity="0.9"/>
<ellipse cx="413.1" cy="576.8" rx="6.3" ry="6.9" transform="rotate(-35 413.1 576.8)" fill="none" stroke="#8fc28b" stroke-width="5.0"/>
<ellipse cx="413.1" cy="576.8" rx="6.3" ry="6.9" transform="rotate(-35 413.1 576.8)" fill="none" stroke="#b2ddad" stroke-width="4.1"/>
<path d="M413.1 570.0A6.3 6.9 0 0 1 413.1 583.7" transform="rotate(-35 413.1 576.8)" fill="none" stroke="#c4c6ea" stroke-width="4.1" opacity="0.9"/>
<ellipse cx="420.0" cy="572.0" rx="6.3" ry="6.9" transform="rotate(-35 420.0 572.0)" fill="none" stroke="#a0a3d3" stroke-width="5.0"/>
<ellipse cx="420.0" cy="572.0" rx="6.3" ry="6.9" transform="rotate(-35 420.0 572.0)" fill="none" stroke="#c4c6ea" stroke-width="4.1"/>
<path d="M420.0 565.1A6.3 6.9 0 0 1 420.0 578.9" transform="rotate(-35 420.0 572.0)" fill="none" stroke="#dca0a0" stroke-width="4.1" opacity="0.9"/>
<ellipse cx="426.9" cy="567.2" rx="6.3" ry="6.9" transform="rotate(-35 426.9 567.2)" fill="none" stroke="#c08585" stroke-width="5.0"/>
<ellipse cx="426.9" cy="567.2" rx="6.3" ry="6.9" transform="rotate(-35 426.9 567.2)" fill="none" stroke="#dca0a0" stroke-width="4.1"/>
<path d="M426.9 560.3A6.3 6.9 0 0 1 426.9 574.0" transform="rotate(-35 426.9 567.2)" fill="none" stroke="#b2ddad" stroke-width="4.1" opacity="0.9"/>
<ellipse cx="345.2" cy="581.8" rx="5.2" ry="6.2" transform="rotate(10 345.2 581.8)" fill="none" stroke="#c08585" stroke-width="4.7"/>
<ellipse cx="345.2" cy="581.8" rx="5.2" ry="6.2" transform="rotate(10 345.2 581.8)" fill="none" stroke="#dca0a0" stroke-width="3.8"/>
<path d="M345.2 575.6A5.2 6.2 0 0 1 345.2 588.1" transform="rotate(10 345.2 581.8)" fill="none" stroke="#b2ddad" stroke-width="3.8" opacity="0.9"/>
<ellipse cx="352.0" cy="583.0" rx="5.2" ry="6.2" transform="rotate(10 352.0 583.0)" fill="none" stroke="#8fc28b" stroke-width="4.7"/>
<ellipse cx="352.0" cy="583.0" rx="5.2" ry="6.2" transform="rotate(10 352.0 583.0)" fill="none" stroke="#b2ddad" stroke-width="3.8"/>
<path d="M352.0 576.8A5.2 6.2 0 0 1 352.0 589.2" transform="rotate(10 352.0 583.0)" fill="none" stroke="#c4c6ea" stroke-width="3.8" opacity="0.9"/>
<ellipse cx="358.8" cy="584.2" rx="5.2" ry="6.2" transform="rotate(10 358.8 584.2)" fill="none" stroke="#a0a3d3" stroke-width="4.7"/>
<ellipse cx="358.8" cy="584.2" rx="5.2" ry="6.2" transform="rotate(10 358.8 584.2)" fill="none" stroke="#c4c6ea" stroke-width="3.8"/>
<path d="M358.8 577.9A5.2 6.2 0 0 1 358.8 590.4" transform="rotate(10 358.8 584.2)" fill="none" stroke="#dca0a0" stroke-width="3.8" opacity="0.9"/>
<ellipse cx="374.8" cy="498.0" rx="6.9" ry="7.5" transform="rotate(0 374.8 498.0)" fill="none" stroke="#a0a3d3" stroke-width="5.4"/>
<ellipse cx="374.8" cy="498.0" rx="6.9" ry="7.5" transform="rotate(0 374.8 498.0)" fill="none" stroke="#c4c6ea" stroke-width="4.5"/>
<path d="M374.8 490.5A6.9 7.5 0 0 1 374.8 505.5" transform="rotate(0 374.8 498.0)" fill="none" stroke="#dca0a0" stroke-width="4.5" opacity="0.9"/>
<ellipse cx="384.0" cy="498.0" rx="6.9" ry="7.5" transform="rotate(0 384.0 498.0)" fill="none" stroke="#c08585" stroke-width="5.4"/>
<ellipse cx="384.0" cy="498.0" rx="6.9" ry="7.5" transform="rotate(0 384.0 498.0)" fill="none" stroke="#dca0a0" stroke-width="4.5"/>
<path d="M384.0 490.5A6.9 7.5 0 0 1 384.0 505.5" transform="rotate(0 384.0 498.0)" fill="none" stroke="#b2ddad" stroke-width="4.5" opacity="0.9"/>
<ellipse cx="393.2" cy="498.0" rx="6.9" ry="7.5" transform="rotate(0 393.2 498.0)" fill="none" stroke="#8fc28b" stroke-width="5.4"/>
<ellipse cx="393.2" cy="498.0" rx="6.9" ry="7.5" transform="rotate(0 393.2 498.0)" fill="none" stroke="#b2ddad" stroke-width="4.5"/>
<path d="M393.2 490.5A6.9 7.5 0 0 1 393.2 505.5" transform="rotate(0 393.2 498.0)" fill="none" stroke="#c4c6ea" stroke-width="4.5" opacity="0.9"/>
<ellipse cx="440.0" cy="533.1" rx="5.2" ry="6.2" transform="rotate(90 440.0 533.1)" fill="none" stroke="#8fc28b" stroke-width="4.7"/>
<ellipse cx="440.0" cy="533.1" rx="5.2" ry="6.2" transform="rotate(90 440.0 533.1)" fill="none" stroke="#b2ddad" stroke-width="3.8"/>
<path d="M440.0 526.9A5.2 6.2 0 0 1 440.0 539.4" transform="rotate(90 440.0 533.1)" fill="none" stroke="#c4c6ea" stroke-width="3.8" opacity="0.9"/>
<ellipse cx="440.0" cy="540.0" rx="5.2" ry="6.2" transform="rotate(90 440.0 540.0)" fill="none" stroke="#a0a3d3" stroke-width="4.7"/>
<ellipse cx="440.0" cy="540.0" rx="5.2" ry="6.2" transform="rotate(90 440.0 540.0)" fill="none" stroke="#c4c6ea" stroke-width="3.8"/>
<path d="M440.0 533.8A5.2 6.2 0 0 1 440.0 546.2" transform="rotate(90 440.0 540.0)" fill="none" stroke="#dca0a0" stroke-width="3.8" opacity="0.9"/>
<ellipse cx="440.0" cy="546.9" rx="5.2" ry="6.2" transform="rotate(90 440.0 546.9)" fill="none" stroke="#c08585" stroke-width="4.7"/>
<ellipse cx="440.0" cy="546.9" rx="5.2" ry="6.2" transform="rotate(90 440.0 546.9)" fill="none" stroke="#dca0a0" stroke-width="3.8"/>
<path d="M440.0 540.6A5.2 6.2 0 0 1 440.0 553.1" transform="rotate(90 440.0 546.9)" fill="none" stroke="#b2ddad" stroke-width="3.8" opacity="0.9"/>
<ellipse cx="361.9" cy="455.0" rx="4.6" ry="6.2" transform="rotate(0 361.9 455.0)" fill="none" stroke="#a0a3d3" stroke-width="4.7"/>
<ellipse cx="361.9" cy="455.0" rx="4.6" ry="6.2" transform="rotate(0 361.9 455.0)" fill="none" stroke="#c4c6ea" stroke-width="3.8"/>
<path d="M361.9 448.8A4.6 6.2 0 0 1 361.9 461.2" transform="rotate(0 361.9 455.0)" fill="none" stroke="#dca0a0" stroke-width="3.8" opacity="0.9"/>
<ellipse cx="368.0" cy="455.0" rx="4.6" ry="6.2" transform="rotate(0 368.0 455.0)" fill="none" stroke="#c08585" stroke-width="4.7"/>
<ellipse cx="368.0" cy="455.0" rx="4.6" ry="6.2" transform="rotate(0 368.0 455.0)" fill="none" stroke="#dca0a0" stroke-width="3.8"/>
<path d="M368.0 448.8A4.6 6.2 0 0 1 368.0 461.2" transform="rotate(0 368.0 455.0)" fill="none" stroke="#b2ddad" stroke-width="3.8" opacity="0.9"/>
<ellipse cx="374.1" cy="455.0" rx="4.6" ry="6.2" transform="rotate(0 374.1 455.0)" fill="none" stroke="#8fc28b" stroke-width="4.7"/>
<ellipse cx="374.1" cy="455.0" rx="4.6" ry="6.2" transform="rotate(0 374.1 455.0)" fill="none" stroke="#b2ddad" stroke-width="3.8"/>
<path d="M374.1 448.8A4.6 6.2 0 0 1 374.1 461.2" transform="rotate(0 374.1 455.0)" fill="none" stroke="#c4c6ea" stroke-width="3.8" opacity="0.9"/>
<ellipse cx="404.6" cy="462.0" rx="4.0" ry="6.2" transform="rotate(0 404.6 462.0)" fill="none" stroke="#c08585" stroke-width="4.7"/>
<ellipse cx="404.6" cy="462.0" rx="4.0" ry="6.2" transform="rotate(0 404.6 462.0)" fill="none" stroke="#dca0a0" stroke-width="3.8"/>
<path d="M404.6 455.8A4.0 6.2 0 0 1 404.6 468.2" transform="rotate(0 404.6 462.0)" fill="none" stroke="#c4c6ea" stroke-width="3.8" opacity="0.9"/>
<ellipse cx="410.0" cy="462.0" rx="4.0" ry="6.2" transform="rotate(0 410.0 462.0)" fill="none" stroke="#a0a3d3" stroke-width="4.7"/>
<ellipse cx="410.0" cy="462.0" rx="4.0" ry="6.2" transform="rotate(0 410.0 462.0)" fill="none" stroke="#c4c6ea" stroke-width="3.8"/>
<path d="M410.0 455.8A4.0 6.2 0 0 1 410.0 468.2" transform="rotate(0 410.0 462.0)" fill="none" stroke="#b2ddad" stroke-width="3.8" opacity="0.9"/>
<ellipse cx="415.4" cy="462.0" rx="4.0" ry="6.2" transform="rotate(0 415.4 462.0)" fill="none" stroke="#8fc28b" stroke-width="4.7"/>
<ellipse cx="415.4" cy="462.0" rx="4.0" ry="6.2" transform="rotate(0 415.4 462.0)" fill="none" stroke="#b2ddad" stroke-width="3.8"/>
<path d="M415.4 455.8A4.0 6.2 0 0 1 415.4 468.2" transform="rotate(0 415.4 462.0)" fill="none" stroke="#dca0a0" stroke-width="3.8" opacity="0.9"/>
<ellipse cx="287.3" cy="459.2" rx="2.9" ry="6.2" transform="rotate(80 287.3 459.2)" fill="none" stroke="#8fc28b" stroke-width="4.7"/>
<ellipse cx="287.3" cy="459.2" rx="2.9" ry="6.2" transform="rotate(80 287.3 459.2)" fill="none" stroke="#b2ddad" stroke-width="3.8"/>
<path d="M287.3 453.0A2.9 6.2 0 0 1 287.3 465.5" transform="rotate(80 287.3 459.2)" fill="none" stroke="#b2ddad" stroke-width="3.8" opacity="0.9"/>
<ellipse cx="288.0" cy="463.0" rx="2.9" ry="6.2" transform="rotate(80 288.0 463.0)" fill="none" stroke="#8fc28b" stroke-width="4.7"/>
<ellipse cx="288.0" cy="463.0" rx="2.9" ry="6.2" transform="rotate(80 288.0 463.0)" fill="none" stroke="#b2ddad" stroke-width="3.8"/>
<path d="M288.0 456.8A2.9 6.2 0 0 1 288.0 469.2" transform="rotate(80 288.0 463.0)" fill="none" stroke="#b2ddad" stroke-width="3.8" opacity="0.9"/>
<ellipse cx="288.7" cy="466.8" rx="2.9" ry="6.2" transform="rotate(80 288.7 466.8)" fill="none" stroke="#8fc28b" stroke-width="4.7"/>
<ellipse cx="288.7" cy="466.8" rx="2.9" ry="6.2" transform="rotate(80 288.7 466.8)" fill="none" stroke="#b2ddad" stroke-width="3.8"/>
<path d="M288.7 460.5A2.9 6.2 0 0 1 288.7 473.0" transform="rotate(80 288.7 466.8)" fill="none" stroke="#b2ddad" stroke-width="3.8" opacity="0.9"/>

<use href="#q89" x="0.0" y="0.0" class="tL" stroke-width="2.0"/>
<use href="#q89" x="0.0" y="0.0" class="TL" stroke-width="1.3"/>
<use href="#q89" x="0.9" y="0.7" class="tP" stroke-width="2.0"/>
<use href="#q89" x="0.9" y="0.7" class="TP" stroke-width="1.3"/>
<use href="#q89" x="-0.8" y="0.9" class="tG" stroke-width="2.0"/>
<use href="#q89" x="-0.8" y="0.9" class="TG" stroke-width="1.3"/>

<use href="#q90" x="0.0" y="0.0" class="tG" stroke-width="2.0"/>
<use href="#q90" x="0.0" y="0.0" class="TG" stroke-width="1.3"/>
<use href="#q90" x="0.9" y="0.7" class="tL" stroke-width="2.0"/>
<use href="#q90" x="0.9" y="0.7" class="TL" stroke-width="1.3"/>
<use href="#q90" x="-0.8" y="0.9" class="tP" stroke-width="2.0"/>
<use href="#q90" x="-0.8" y="0.9" class="TP" stroke-width="1.3"/>

<use href="#q91" x="0.0" y="0.0" class="tL" stroke-width="2.0"/>
<use href="#q91" x="0.0" y="0.0" class="TL" stroke-width="1.3"/>
<use href="#q91" x="0.9" y="0.7" class="tP" stroke-width="2.0"/>
<use href="#q91" x="0.9" y="0.7" class="TP" stroke-width="1.3"/>
<use href="#q91" x="-0.8" y="0.9" class="tG" stroke-width="2.0"/>
<use href="#q91" x="-0.8" y="0.9" class="TG" stroke-width="1.3"/>

<use href="#q92" x="0.0" y="0.0" class="tG" stroke-width="2.0"/>
<use href="#q92" x="0.0" y="0.0" class="TG" stroke-width="1.3"/>
<use href="#q92" x="0.9" y="0.7" class="tP" stroke-width="2.0"/>
<use href="#q92" x="0.9" y="0.7" class="TP" stroke-width="1.3"/>
<use href="#q92" x="-0.8" y="0.9" class="tL" stroke-width="2.0"/>
<use href="#q92" x="-0.8" y="0.9" class="TL" stroke-width="1.3"/>

<use href="#q93" x="0.0" y="0.0" class="tL" stroke-width="2.0"/>
<use href="#q93" x="0.0" y="0.0" class="TL" stroke-width="1.3"/>
<use href="#q93" x="0.9" y="0.7" class="tP" stroke-width="2.0"/>
<use href="#q93" x="0.9" y="0.7" class="TP" stroke-width="1.3"/>
<use href="#q93" x="-0.8" y="0.9" class="tG" stroke-width="2.0"/>
<use href="#q93" x="-0.8" y="0.9" class="TG" stroke-width="1.3"/>

<use href="#q94" x="0.0" y="0.0" class="tG" stroke-width="2.0"/>
<use href="#q94" x="0.0" y="0.0" class="TG" stroke-width="1.3"/>
<use href="#q94" x="0.9" y="0.7" class="tL" stroke-width="2.0"/>
<use href="#q94" x="0.9" y="0.7" class="TL" stroke-width="1.3"/>
<use href="#q94" x="-0.8" y="0.9" class="tP" stroke-width="2.0"/>
<use href="#q94" x="-0.8" y="0.9" class="TP" stroke-width="1.3"/>

<use href="#q95" x="0.0" y="0.0" class="tL" stroke-width="2.0"/>
<use href="#q95" x="0.0" y="0.0" class="TL" stroke-width="1.3"/>
<use href="#q95" x="0.9" y="0.7" class="tP" stroke-width="2.0"/>
<use href="#q95" x="0.9" y="0.7" class="TP" stroke-width="1.3"/>
<use href="#q95" x="-0.8" y="0.9" class="tG" stroke-width="2.0"/>
<use href="#q95" x="-0.8" y="0.9" class="TG" stroke-width="1.3"/>

<use href="#q96" x="0.0" y="0.0" class="tL" stroke-width="2.0"/>
<use href="#q96" x="0.0" y="0.0" class="TL" stroke-width="1.3"/>
<use href="#q96" x="0.9" y="0.7" class="tP" stroke-width="2.0"/>
<use href="#q96" x="0.9" y="0.7" class="TP" stroke-width="1.3"/>
<use href="#q96" x="-0.8" y="0.9" class="tG" stroke-width="2.0"/>
<use href="#q96" x="-0.8" y="0.9" class="TG" stroke-width="1.3"/>

<use href="#q97" x="0.0" y="0.0" class="tL" stroke-width="2.0"/>
<use href="#q97" x="0.0" y="0.0" class="TL" stroke-width="1.3"/>
<use href="#q97" x="0.9" y="0.7" class="tP" stroke-width="2.0"/>
<use href="#q97" x="0.9" y="0.7" class="TP" stroke-width="1.3"/>
<use href="#q97" x="-0.8" y="0.9" class="tG" stroke-width="2.0"/>
<use href="#q97" x="-0.8" y="0.9" class="TG" stroke-width="1.3"/>

<use href="#q98" x="0.0" y="0.0" class="tG" stroke-width="2.0"/>
<use href="#q98" x="0.0" y="0.0" class="TG" stroke-width="1.3"/>
<use href="#q98" x="0.9" y="0.7" class="tP" stroke-width="2.0"/>
<use href="#q98" x="0.9" y="0.7" class="TP" stroke-width="1.3"/>
<use href="#q98" x="-0.8" y="0.9" class="tL" stroke-width="2.0"/>
<use href="#q98" x="-0.8" y="0.9" class="TL" stroke-width="1.3"/>

<use href="#q99" x="0.0" y="0.0" class="tG" stroke-width="2.0"/>
<use href="#q99" x="0.0" y="0.0" class="TG" stroke-width="1.3"/>
<use href="#q99" x="0.9" y="0.7" class="tL" stroke-width="2.0"/>
<use href="#q99" x="0.9" y="0.7" class="TL" stroke-width="1.3"/>
<use href="#q99" x="-0.8" y="0.9" class="tP" stroke-width="2.0"/>
<use href="#q99" x="-0.8" y="0.9" class="TP" stroke-width="1.3"/>

<use href="#q100" x="0.0" y="0.0" class="tL" stroke-width="2.0"/>
<use href="#q100" x="0.0" y="0.0" class="TL" stroke-width="1.3"/>
<use href="#q100" x="0.9" y="0.7" class="tP" stroke-width="2.0"/>
<use href="#q100" x="0.9" y="0.7" class="TP" stroke-width="1.3"/>
<use href="#q100" x="-0.8" y="0.9" class="tG" stroke-width="2.0"/>
<use href="#q100" x="-0.8" y="0.9" class="TG" stroke-width="1.3"/>

<use href="#q101" x="0.0" y="0.0" class="tG" stroke-width="2.0"/>
<use href="#q101" x="0.0" y="0.0" class="TG" stroke-width="1.3"/>
<use href="#q101" x="0.9" y="0.7" class="tP" stroke-width="2.0"/>
<use href="#q101" x="0.9" y="0.7" class="TP" stroke-width="1.3"/>
<use href="#q101" x="-0.8" y="0.9" class="tL" stroke-width="2.0"/>
<use href="#q101" x="-0.8" y="0.9" class="TL" stroke-width="1.3"/>

<use href="#q102" x="0.0" y="0.0" class="tG" stroke-width="2.0"/>
<use href="#q102" x="0.0" y="0.0" class="TG" stroke-width="1.3"/>
<use href="#q102" x="0.9" y="0.7" class="tL" stroke-width="2.0"/>
<use href="#q102" x="0.9" y="0.7" class="TL" stroke-width="1.3"/>
<use href="#q102" x="-0.8" y="0.9" class="tP" stroke-width="2.0"/>
<use href="#q102" x="-0.8" y="0.9" class="TP" stroke-width="1.3"/>

<use href="#q103" x="0.0" y="0.0" class="tG" stroke-width="2.0"/>
<use href="#q103" x="0.0" y="0.0" class="TG" stroke-width="1.3"/>
<use href="#q103" x="0.9" y="0.7" class="tP" stroke-width="2.0"/>
<use href="#q103" x="0.9" y="0.7" class="TP" stroke-width="1.3"/>
<use href="#q103" x="-0.8" y="0.9" class="tL" stroke-width="2.0"/>
<use href="#q103" x="-0.8" y="0.9" class="TL" stroke-width="1.3"/>

<use href="#q104" x="0.0" y="0.0" class="tL" stroke-width="2.0"/>
<use href="#q104" x="0.0" y="0.0" class="TL" stroke-width="1.3"/>
<use href="#q104" x="0.9" y="0.7" class="tP" stroke-width="2.0"/>
<use href="#q104" x="0.9" y="0.7" class="TP" stroke-width="1.3"/>
<use href="#q104" x="-0.8" y="0.9" class="tG" stroke-width="2.0"/>
<use href="#q104" x="-0.8" y="0.9" class="TG" stroke-width="1.3"/>

<use href="#q105" x="0.0" y="0.0" class="tL" stroke-width="2.0"/>
<use href="#q105" x="0.0" y="0.0" class="TL" stroke-width="1.3"/>
<use href="#q105" x="0.9" y="0.7" class="tP" stroke-width="2.0"/>
<use href="#q105" x="0.9" y="0.7" class="TP" stroke-width="1.3"/>
<use href="#q105" x="-0.8" y="0.9" class="tG" stroke-width="2.0"/>
<use href="#q105" x="-0.8" y="0.9" class="TG" stroke-width="1.3"/>

<use href="#q106" x="0.0" y="0.0" class="tG" stroke-width="2.0"/>
<use href="#q106" x="0.0" y="0.0" class="TG" stroke-width="1.3"/>
<use href="#q106" x="0.9" y="0.7" class="tL" stroke-width="2.0"/>
<use href="#q106" x="0.9" y="0.7" class="TL" stroke-width="1.3"/>
<use href="#q106" x="-0.8" y="0.9" class="tP" stroke-width="2.0"/>
<use href="#q106" x="-0.8" y="0.9" class="TP" stroke-width="1.3"/>

<use href="#q107" x="0.0" y="0.0" class="tL" stroke-width="2.0"/>
<use href="#q107" x="0.0" y="0.0" class="TL" stroke-width="1.3"/>
<use href="#q107" x="0.9" y="0.7" class="tP" stroke-width="2.0"/>
<use href="#q107" x="0.9" y="0.7" class="TP" stroke-width="1.3"/>
<use href="#q107" x="-0.8" y="0.9" class="tG" stroke-width="2.0"/>
<use href="#q107" x="-0.8" y="0.9" class="TG" stroke-width="1.3"/>

<use href="#q108" x="0.0" y="0.0" class="tL" stroke-width="2.0"/>
<use href="#q108" x="0.0" y="0.0" class="TL" stroke-width="1.3"/>
<use href="#q108" x="0.9" y="0.7" class="tP" stroke-width="2.0"/>
<use href="#q108" x="0.9" y="0.7" class="TP" stroke-width="1.3"/>
<use href="#q108" x="-0.8" y="0.9" class="tG" stroke-width="2.0"/>
<use href="#q108" x="-0.8" y="0.9" class="TG" stroke-width="1.3"/>

<use href="#q109" x="0.0" y="0.0" class="tL" stroke-width="2.0"/>
<use href="#q109" x="0.0" y="0.0" class="TL" stroke-width="1.3"/>
<use href="#q109" x="0.9" y="0.7" class="tP" stroke-width="2.0"/>
<use href="#q109" x="0.9" y="0.7" class="TP" stroke-width="1.3"/>
<use href="#q109" x="-0.8" y="0.9" class="tG" stroke-width="2.0"/>
<use href="#q109" x="-0.8" y="0.9" class="TG" stroke-width="1.3"/>

<use href="#q110" x="0.0" y="0.0" class="tL" stroke-width="2.0"/>
<use href="#q110" x="0.0" y="0.0" class="TL" stroke-width="1.3"/>
<use href="#q110" x="0.9" y="0.7" class="tP" stroke-width="2.0"/>
<use href="#q110" x="0.9" y="0.7" class="TP" stroke-width="1.3"/>
<use href="#q110" x="-0.8" y="0.9" class="tG" stroke-width="2.0"/>
<use href="#q110" x="-0.8" y="0.9" class="TG" stroke-width="1.3"/>

<use href="#q111" x="0.0" y="0.0" class="tG" stroke-width="2.0"/>
<use href="#q111" x="0.0" y="0.0" class="TG" stroke-width="1.3"/>
<use href="#q111" x="0.9" y="0.7" class="tL" stroke-width="2.0"/>
<use href="#q111" x="0.9" y="0.7" class="TL" stroke-width="1.3"/>
<use href="#q111" x="-0.8" y="0.9" class="tP" stroke-width="2.0"/>
<use href="#q111" x="-0.8" y="0.9" class="TP" stroke-width="1.3"/>

<use href="#q112" x="0.0" y="0.0" class="tG" stroke-width="2.0"/>
<use href="#q112" x="0.0" y="0.0" class="TG" stroke-width="1.3"/>
<use href="#q112" x="0.9" y="0.7" class="tL" stroke-width="2.0"/>
<use href="#q112" x="0.9" y="0.7" class="TL" stroke-width="1.3"/>
<use href="#q112" x="-0.8" y="0.9" class="tP" stroke-width="2.0"/>
<use href="#q112" x="-0.8" y="0.9" class="TP" stroke-width="1.3"/>

<use href="#q113" x="0.0" y="0.0" class="tG" stroke-width="2.0"/>
<use href="#q113" x="0.0" y="0.0" class="TG" stroke-width="1.3"/>
<use href="#q113" x="0.9" y="0.7" class="tP" stroke-width="2.0"/>
<use href="#q113" x="0.9" y="0.7" class="TP" stroke-width="1.3"/>
<use href="#q113" x="-0.8" y="0.9" class="tL" stroke-width="2.0"/>
<use href="#q113" x="-0.8" y="0.9" class="TL" stroke-width="1.3"/>

<use href="#q114" x="0.0" y="0.0" class="tL" stroke-width="2.0"/>
<use href="#q114" x="0.0" y="0.0" class="TL" stroke-width="1.3"/>
<use href="#q114" x="0.9" y="0.7" class="tP" stroke-width="2.0"/>
<use href="#q114" x="0.9" y="0.7" class="TP" stroke-width="1.3"/>
<use href="#q114" x="-0.8" y="0.9" class="tG" stroke-width="2.0"/>
<use href="#q114" x="-0.8" y="0.9" class="TG" stroke-width="1.3"/>

<use href="#q115" x="0.0" y="0.0" class="tL" stroke-width="2.0"/>
<use href="#q115" x="0.0" y="0.0" class="TL" stroke-width="1.3"/>
<use href="#q115" x="0.9" y="0.7" class="tP" stroke-width="2.0"/>
<use href="#q115" x="0.9" y="0.7" class="TP" stroke-width="1.3"/>
<use href="#q115" x="-0.8" y="0.9" class="tG" stroke-width="2.0"/>
<use href="#q115" x="-0.8" y="0.9" class="TG" stroke-width="1.3"/>

<use href="#q116" x="0.0" y="0.0" class="tG" stroke-width="2.0"/>
<use href="#q116" x="0.0" y="0.0" class="TG" stroke-width="1.3"/>
<use href="#q116" x="0.9" y="0.7" class="tL" stroke-width="2.0"/>
<use href="#q116" x="0.9" y="0.7" class="TL" stroke-width="1.3"/>
<use href="#q116" x="-0.8" y="0.9" class="tP" stroke-width="2.0"/>
<use href="#q116" x="-0.8" y="0.9" class="TP" stroke-width="1.3"/>

<use href="#q117" x="0.0" y="0.0" class="tG" stroke-width="2.0"/>
<use href="#q117" x="0.0" y="0.0" class="TG" stroke-width="1.3"/>
<use href="#q117" x="0.9" y="0.7" class="tL" stroke-width="2.0"/>
<use href="#q117" x="0.9" y="0.7" class="TL" stroke-width="1.3"/>
<use href="#q117" x="-0.8" y="0.9" class="tP" stroke-width="2.0"/>
<use href="#q117" x="-0.8" y="0.9" class="TP" stroke-width="1.3"/>

<use href="#q118" x="0.0" y="0.0" class="tG" stroke-width="2.0"/>
<use href="#q118" x="0.0" y="0.0" class="TG" stroke-width="1.3"/>
<use href="#q118" x="0.9" y="0.7" class="tL" stroke-width="2.0"/>
<use href="#q118" x="0.9" y="0.7" class="TL" stroke-width="1.3"/>
<use href="#q118" x="-0.8" y="0.9" class="tP" stroke-width="2.0"/>
<use href="#q118" x="-0.8" y="0.9" class="TP" stroke-width="1.3"/>

<use href="#q119" x="0.0" y="0.0" class="tL" stroke-width="2.0"/>
<use href="#q119" x="0.0" y="0.0" class="TL" stroke-width="1.3"/>
<use href="#q119" x="0.9" y="0.7" class="tP" stroke-width="2.0"/>
<use href="#q119" x="0.9" y="0.7" class="TP" stroke-width="1.3"/>
<use href="#q119" x="-0.8" y="0.9" class="tG" stroke-width="2.0"/>
<use href="#q119" x="-0.8" y="0.9" class="TG" stroke-width="1.3"/>

<use href="#q120" x="0.0" y="0.0" class="tL" stroke-width="2.0"/>
<use href="#q120" x="0.0" y="0.0" class="TL" stroke-width="1.3"/>
<use href="#q120" x="0.9" y="0.7" class="tP" stroke-width="2.0"/>
<use href="#q120" x="0.9" y="0.7" class="TP" stroke-width="1.3"/>
<use href="#q120" x="-0.8" y="0.9" class="tG" stroke-width="2.0"/>
<use href="#q120" x="-0.8" y="0.9" class="TG" stroke-width="1.3"/>

<use href="#q121" x="0.0" y="0.0" class="tG" stroke-width="2.0"/>
<use href="#q121" x="0.0" y="0.0" class="TG" stroke-width="1.3"/>
<use href="#q121" x="0.9" y="0.7" class="tL" stroke-width="2.0"/>
<use href="#q121" x="0.9" y="0.7" class="TL" stroke-width="1.3"/>
<use href="#q121" x="-0.8" y="0.9" class="tP" stroke-width="2.0"/>
<use href="#q121" x="-0.8" y="0.9" class="TP" stroke-width="1.3"/>
</g>

<use href="#q122" x="0.0" y="0.0" class="tL" stroke-width="1.9"/>
<use href="#q122" x="0.0" y="0.0" class="TL" stroke-width="1.2"/>
<use href="#q122" x="0.8" y="0.6" class="tP" stroke-width="1.9"/>
<use href="#q122" x="0.8" y="0.6" class="TP" stroke-width="1.2"/>
<use href="#q122" x="-0.7" y="0.8" class="tG" stroke-width="1.9"/>
<use href="#q122" x="-0.7" y="0.8" class="TG" stroke-width="1.2"/>

<use href="#q123" x="0.0" y="0.0" class="tG" stroke-width="1.9"/>
<use href="#q123" x="0.0" y="0.0" class="TG" stroke-width="1.2"/>
<use href="#q123" x="0.8" y="0.6" class="tP" stroke-width="1.9"/>
<use href="#q123" x="0.8" y="0.6" class="TP" stroke-width="1.2"/>
<use href="#q123" x="-0.7" y="0.8" class="tL" stroke-width="1.9"/>
<use href="#q123" x="-0.7" y="0.8" class="TL" stroke-width="1.2"/>
<path class="tG" d="M352.0 425.0C353.7 423.8 358.2 418.8 362.0 418.0C365.8 417.2 371.3 418.3 375.0 420.0C378.7 421.7 383.2 424.7 384.0 428.0C384.8 431.3 380.7 438.0 380.0 440.0" stroke-width="1.9"/>
<path class="TG" d="M352.0 425.0C353.7 423.8 358.2 418.8 362.0 418.0C365.8 417.2 371.3 418.3 375.0 420.0C378.7 421.7 383.2 424.7 384.0 428.0C384.8 431.3 380.7 438.0 380.0 440.0" stroke-width="1.2"/>
<path class="tG" d="M300.0 406.0C301.7 405.3 306.3 402.3 310.0 402.0C313.7 401.7 320.0 403.7 322.0 404.0" stroke-width="1.9"/>
<path class="TG" d="M300.0 406.0C301.7 405.3 306.3 402.3 310.0 402.0C313.7 401.7 320.0 403.7 322.0 404.0" stroke-width="1.2"/>
<rect x="273.9" y="421" width="141.8" height="99.2" fill="none" stroke="#333" stroke-width="1" stroke-dasharray="3.5,2.6"/>
<line x1="415.70" y1="421.00" x2="492.40" y2="421.00" stroke="#333" stroke-width="1" stroke-dasharray="3.5,2.6"/>
<line x1="415.70" y1="520.20" x2="492.40" y2="584.60" stroke="#333" stroke-width="1" stroke-dasharray="3.5,2.6"/>
<clipPath id="hins"><rect x="492.6" y="421.3" width="164.79999999999995" height="163.49999999999994"/></clipPath>
<g clip-path="url(#hins)">
<path class="tg" d="M608.4 472.9C609.0 474.5 611.3 479.3 612.1 482.7C612.9 486.0 611.5 490.3 613.1 493.0C614.7 495.8 618.6 498.6 621.6 499.1C624.7 499.5 629.3 497.9 631.5 495.7C633.7 493.5 632.8 487.9 635.1 485.9C637.4 483.9 642.8 485.6 645.3 483.7C647.8 481.9 648.2 477.3 650.3 474.6C652.3 471.8 655.5 468.0 657.5 467.1C659.6 466.3 661.6 469.1 662.4 469.5" stroke-width="2.9"/>
<path class="Tg" d="M608.4 472.9C609.0 474.5 611.3 479.3 612.1 482.7C612.9 486.0 611.5 490.3 613.1 493.0C614.7 495.8 618.6 498.6 621.6 499.1C624.7 499.5 629.3 497.9 631.5 495.7C633.7 493.5 632.8 487.9 635.1 485.9C637.4 483.9 642.8 485.6 645.3 483.7C647.8 481.9 648.2 477.3 650.3 474.6C652.3 471.8 655.5 468.0 657.5 467.1C659.6 466.3 661.6 469.1 662.4 469.5" stroke-width="2.2"/>

<use href="#q124" x="0.0" y="0.0" class="tl" stroke-width="2.7"/>
<use href="#q124" x="0.0" y="0.0" class="Tl" stroke-width="2.0"/>
<use href="#q124" x="1.6" y="1.2" class="tp" stroke-width="2.7"/>
<use href="#q124" x="1.6" y="1.2" class="Tp" stroke-width="2.0"/>
<use href="#q124" x="-1.4" y="1.6" class="tg" stroke-width="2.7"/>
<use href="#q124" x="-1.4" y="1.6" class="Tg" stroke-width="2.0"/>
<path class="tg" d="M597.8 518.7C595.8 519.4 589.6 521.3 585.5 522.9C581.5 524.5 577.8 527.9 573.7 528.3C569.7 528.7 564.9 527.2 561.1 525.5C557.2 523.8 554.3 519.8 550.5 518.0C546.7 516.1 541.3 516.7 538.0 514.3C534.8 511.9 531.7 507.5 530.9 503.5C530.0 499.6 532.6 492.8 533.0 490.7" stroke-width="2.9"/>
<path class="Tg" d="M597.8 518.7C595.8 519.4 589.6 521.3 585.5 522.9C581.5 524.5 577.8 527.9 573.7 528.3C569.7 528.7 564.9 527.2 561.1 525.5C557.2 523.8 554.3 519.8 550.5 518.0C546.7 516.1 541.3 516.7 538.0 514.3C534.8 511.9 531.7 507.5 530.9 503.5C530.0 499.6 532.6 492.8 533.0 490.7" stroke-width="2.2"/>
<path class="tg" d="M642.0 516.9C641.0 516.0 638.5 512.6 636.2 511.3C634.0 510.0 630.2 510.6 628.5 509.0C626.8 507.3 626.8 503.9 626.2 501.3C625.5 498.6 625.6 495.9 624.9 493.3C624.2 490.7 623.3 488.1 622.0 485.8C620.7 483.5 617.8 480.5 617.0 479.5" stroke-width="2.9"/>
<path class="Tg" d="M642.0 516.9C641.0 516.0 638.5 512.6 636.2 511.3C634.0 510.0 630.2 510.6 628.5 509.0C626.8 507.3 626.8 503.9 626.2 501.3C625.5 498.6 625.6 495.9 624.9 493.3C624.2 490.7 623.3 488.1 622.0 485.8C620.7 483.5 617.8 480.5 617.0 479.5" stroke-width="2.2"/>
<path class="tg" d="M498.0 491.5C499.6 492.5 504.2 497.2 507.7 497.8C511.3 498.3 516.0 496.9 519.0 494.8C522.0 492.7 523.0 488.0 525.6 485.2C528.3 482.5 531.4 479.2 534.9 478.2C538.4 477.2 542.8 478.4 546.5 479.2C550.3 480.1 555.6 482.6 557.4 483.2" stroke-width="2.9"/>
<path class="Tg" d="M498.0 491.5C499.6 492.5 504.2 497.2 507.7 497.8C511.3 498.3 516.0 496.9 519.0 494.8C522.0 492.7 523.0 488.0 525.6 485.2C528.3 482.5 531.4 479.2 534.9 478.2C538.4 477.2 542.8 478.4 546.5 479.2C550.3 480.1 555.6 482.6 557.4 483.2" stroke-width="2.2"/>

<use href="#q125" x="0.0" y="0.0" class="tl" stroke-width="2.7"/>
<use href="#q125" x="0.0" y="0.0" class="Tl" stroke-width="2.0"/>
<use href="#q125" x="1.6" y="1.2" class="tp" stroke-width="2.7"/>
<use href="#q125" x="1.6" y="1.2" class="Tp" stroke-width="2.0"/>
<use href="#q125" x="-1.4" y="1.6" class="tg" stroke-width="2.7"/>
<use href="#q125" x="-1.4" y="1.6" class="Tg" stroke-width="2.0"/>

<use href="#q126" x="0.0" y="0.0" class="tl" stroke-width="2.7"/>
<use href="#q126" x="0.0" y="0.0" class="Tl" stroke-width="2.0"/>
<use href="#q126" x="1.6" y="1.2" class="tp" stroke-width="2.7"/>
<use href="#q126" x="1.6" y="1.2" class="Tp" stroke-width="2.0"/>
<use href="#q126" x="-1.4" y="1.6" class="tg" stroke-width="2.7"/>
<use href="#q126" x="-1.4" y="1.6" class="Tg" stroke-width="2.0"/>

<use href="#q127" x="0.0" y="0.0" class="tg" stroke-width="2.7"/>
<use href="#q127" x="0.0" y="0.0" class="Tg" stroke-width="2.0"/>
<use href="#q127" x="1.6" y="1.2" class="tp" stroke-width="2.7"/>
<use href="#q127" x="1.6" y="1.2" class="Tp" stroke-width="2.0"/>
<use href="#q127" x="-1.4" y="1.6" class="tl" stroke-width="2.7"/>
<use href="#q127" x="-1.4" y="1.6" class="Tl" stroke-width="2.0"/>
<path class="tg" d="M575.6 479.1C577.5 478.4 583.3 476.2 587.2 474.6C591.1 473.1 594.9 471.4 598.7 469.8C602.6 468.3 606.5 465.1 610.3 465.2C614.1 465.2 618.4 467.8 621.7 470.2C625.0 472.6 629.3 476.0 630.0 479.5C630.7 483.0 627.0 487.3 625.8 491.2C624.6 495.2 623.3 501.3 622.8 503.4" stroke-width="2.9"/>
<path class="Tg" d="M575.6 479.1C577.5 478.4 583.3 476.2 587.2 474.6C591.1 473.1 594.9 471.4 598.7 469.8C602.6 468.3 606.5 465.1 610.3 465.2C614.1 465.2 618.4 467.8 621.7 470.2C625.0 472.6 629.3 476.0 630.0 479.5C630.7 483.0 627.0 487.3 625.8 491.2C624.6 495.2 623.3 501.3 622.8 503.4" stroke-width="2.2"/>

<use href="#q128" x="0.0" y="0.0" class="tg" stroke-width="2.7"/>
<use href="#q128" x="0.0" y="0.0" class="Tg" stroke-width="2.0"/>
<use href="#q128" x="1.6" y="1.2" class="tl" stroke-width="2.7"/>
<use href="#q128" x="1.6" y="1.2" class="Tl" stroke-width="2.0"/>
<use href="#q128" x="-1.4" y="1.6" class="tp" stroke-width="2.7"/>
<use href="#q128" x="-1.4" y="1.6" class="Tp" stroke-width="2.0"/>
<path class="tg" d="M514.9 441.9C516.4 441.3 522.0 440.6 523.6 438.4C525.2 436.3 523.7 432.0 524.7 429.2C525.7 426.3 527.7 423.4 529.6 421.2C531.5 419.1 533.5 417.1 536.2 416.3C538.8 415.5 542.4 416.4 545.5 416.7C548.6 417.0 552.1 418.1 554.7 418.1C557.4 418.0 558.7 416.6 561.3 416.3C563.9 416.0 569.0 416.3 570.6 416.3" stroke-width="2.9"/>
<path class="Tg" d="M514.9 441.9C516.4 441.3 522.0 440.6 523.6 438.4C525.2 436.3 523.7 432.0 524.7 429.2C525.7 426.3 527.7 423.4 529.6 421.2C531.5 419.1 533.5 417.1 536.2 416.3C538.8 415.5 542.4 416.4 545.5 416.7C548.6 417.0 552.1 418.1 554.7 418.1C557.4 418.0 558.7 416.6 561.3 416.3C563.9 416.0 569.0 416.3 570.6 416.3" stroke-width="2.2"/>
<path class="tg" d="M535.3 481.9C533.6 483.0 528.8 488.4 525.3 488.7C521.7 489.1 518.0 484.6 514.1 483.8C510.2 483.0 505.7 485.1 501.9 484.1C498.2 483.0 494.1 480.4 491.7 477.4C489.4 474.4 488.3 470.0 487.6 466.2C486.9 462.4 485.6 457.1 487.6 454.7C489.6 452.3 495.5 452.8 499.4 451.7C503.3 450.6 509.1 448.8 511.1 448.2" stroke-width="2.9"/>
<path class="Tg" d="M535.3 481.9C533.6 483.0 528.8 488.4 525.3 488.7C521.7 489.1 518.0 484.6 514.1 483.8C510.2 483.0 505.7 485.1 501.9 484.1C498.2 483.0 494.1 480.4 491.7 477.4C489.4 474.4 488.3 470.0 487.6 466.2C486.9 462.4 485.6 457.1 487.6 454.7C489.6 452.3 495.5 452.8 499.4 451.7C503.3 450.6 509.1 448.8 511.1 448.2" stroke-width="2.2"/>

<use href="#q129" x="0.0" y="0.0" class="tg" stroke-width="2.7"/>
<use href="#q129" x="0.0" y="0.0" class="Tg" stroke-width="2.0"/>
<use href="#q129" x="1.6" y="1.2" class="tp" stroke-width="2.7"/>
<use href="#q129" x="1.6" y="1.2" class="Tp" stroke-width="2.0"/>
<use href="#q129" x="-1.4" y="1.6" class="tl" stroke-width="2.7"/>
<use href="#q129" x="-1.4" y="1.6" class="Tl" stroke-width="2.0"/>

<use href="#q130" x="0.0" y="0.0" class="tg" stroke-width="2.7"/>
<use href="#q130" x="0.0" y="0.0" class="Tg" stroke-width="2.0"/>
<use href="#q130" x="1.6" y="1.2" class="tl" stroke-width="2.7"/>
<use href="#q130" x="1.6" y="1.2" class="Tl" stroke-width="2.0"/>
<use href="#q130" x="-1.4" y="1.6" class="tp" stroke-width="2.7"/>
<use href="#q130" x="-1.4" y="1.6" class="Tp" stroke-width="2.0"/>
<path class="tg" d="M598.9 576.8C597.2 575.7 592.2 572.4 589.2 569.8C586.2 567.2 584.1 562.3 580.8 561.3C577.4 560.3 572.2 561.7 569.1 563.7C566.0 565.8 563.2 569.8 562.0 573.4C560.8 577.0 562.1 582.6 561.7 585.3C561.3 588.0 559.0 590.7 559.7 589.8C560.4 588.9 565.1 581.4 566.1 579.7" stroke-width="2.9"/>
<path class="Tg" d="M598.9 576.8C597.2 575.7 592.2 572.4 589.2 569.8C586.2 567.2 584.1 562.3 580.8 561.3C577.4 560.3 572.2 561.7 569.1 563.7C566.0 565.8 563.2 569.8 562.0 573.4C560.8 577.0 562.1 582.6 561.7 585.3C561.3 588.0 559.0 590.7 559.7 589.8C560.4 588.9 565.1 581.4 566.1 579.7" stroke-width="2.2"/>

<use href="#q131" x="0.0" y="0.0" class="tl" stroke-width="2.7"/>
<use href="#q131" x="0.0" y="0.0" class="Tl" stroke-width="2.0"/>
<use href="#q131" x="1.6" y="1.2" class="tp" stroke-width="2.7"/>
<use href="#q131" x="1.6" y="1.2" class="Tp" stroke-width="2.0"/>
<use href="#q131" x="-1.4" y="1.6" class="tg" stroke-width="2.7"/>
<use href="#q131" x="-1.4" y="1.6" class="Tg" stroke-width="2.0"/>

<use href="#q132" x="0.0" y="0.0" class="tg" stroke-width="2.7"/>
<use href="#q132" x="0.0" y="0.0" class="Tg" stroke-width="2.0"/>
<use href="#q132" x="1.6" y="1.2" class="tl" stroke-width="2.7"/>
<use href="#q132" x="1.6" y="1.2" class="Tl" stroke-width="2.0"/>
<use href="#q132" x="-1.4" y="1.6" class="tp" stroke-width="2.7"/>
<use href="#q132" x="-1.4" y="1.6" class="Tp" stroke-width="2.0"/>

<use href="#q133" x="0.0" y="0.0" class="tg" stroke-width="2.7"/>
<use href="#q133" x="0.0" y="0.0" class="Tg" stroke-width="2.0"/>
<use href="#q133" x="1.6" y="1.2" class="tp" stroke-width="2.7"/>
<use href="#q133" x="1.6" y="1.2" class="Tp" stroke-width="2.0"/>
<use href="#q133" x="-1.4" y="1.6" class="tl" stroke-width="2.7"/>
<use href="#q133" x="-1.4" y="1.6" class="Tl" stroke-width="2.0"/>
<path class="tg" d="M535.7 456.6C536.4 455.2 540.0 451.0 540.0 448.1C540.0 445.3 537.3 442.4 535.9 439.5C534.6 436.6 532.7 433.8 532.1 430.8C531.4 427.7 533.5 423.7 532.2 421.3C530.9 418.8 525.4 417.1 524.0 416.3" stroke-width="2.9"/>
<path class="Tg" d="M535.7 456.6C536.4 455.2 540.0 451.0 540.0 448.1C540.0 445.3 537.3 442.4 535.9 439.5C534.6 436.6 532.7 433.8 532.1 430.8C531.4 427.7 533.5 423.7 532.2 421.3C530.9 418.8 525.4 417.1 524.0 416.3" stroke-width="2.2"/>

<use href="#q134" x="0.0" y="0.0" class="tl" stroke-width="2.7"/>
<use href="#q134" x="0.0" y="0.0" class="Tl" stroke-width="2.0"/>
<use href="#q134" x="1.6" y="1.2" class="tp" stroke-width="2.7"/>
<use href="#q134" x="1.6" y="1.2" class="Tp" stroke-width="2.0"/>
<use href="#q134" x="-1.4" y="1.6" class="tg" stroke-width="2.7"/>
<use href="#q134" x="-1.4" y="1.6" class="Tg" stroke-width="2.0"/>

<use href="#q135" x="0.0" y="0.0" class="tg" stroke-width="2.7"/>
<use href="#q135" x="0.0" y="0.0" class="Tg" stroke-width="2.0"/>
<use href="#q135" x="1.6" y="1.2" class="tl" stroke-width="2.7"/>
<use href="#q135" x="1.6" y="1.2" class="Tl" stroke-width="2.0"/>
<use href="#q135" x="-1.4" y="1.6" class="tp" stroke-width="2.7"/>
<use href="#q135" x="-1.4" y="1.6" class="Tp" stroke-width="2.0"/>

<use href="#q136" x="0.0" y="0.0" class="tg" stroke-width="2.7"/>
<use href="#q136" x="0.0" y="0.0" class="Tg" stroke-width="2.0"/>
<use href="#q136" x="1.6" y="1.2" class="tl" stroke-width="2.7"/>
<use href="#q136" x="1.6" y="1.2" class="Tl" stroke-width="2.0"/>
<use href="#q136" x="-1.4" y="1.6" class="tp" stroke-width="2.7"/>
<use href="#q136" x="-1.4" y="1.6" class="Tp" stroke-width="2.0"/>
<path d="M488.0 480.0C492.5 478.7 505.0 475.2 515.0 472.0C525.0 468.8 542.5 462.8 548.0 461.0" fill="none" stroke="#7478b4" stroke-width="7.90" stroke-linecap="butt" stroke-linejoin="round"/>
<path d="M488.0 480.0C492.5 478.7 505.0 475.2 515.0 472.0C525.0 468.8 542.5 462.8 548.0 461.0" fill="none" stroke="#b0b3e2" stroke-width="6.50" stroke-linecap="butt" stroke-linejoin="round"/>
<path d="M489.5 476.8C494.0 475.5 506.5 472.0 516.5 468.8C526.5 465.6 544.0 459.6 549.5 457.8" fill="none" stroke="#5f9d5f" stroke-width="3.00" stroke-linecap="butt" stroke-linejoin="round"/>
<path d="M489.5 476.8C494.0 475.5 506.5 472.0 516.5 468.8C526.5 465.6 544.0 459.6 549.5 457.8" fill="none" stroke="#9fd59b" stroke-width="1.60" stroke-linecap="butt" stroke-linejoin="round"/>
<path d="M488.0 497.0C493.3 495.3 508.7 490.3 520.0 487.0C531.3 483.7 550.0 478.7 556.0 477.0" fill="none" stroke="#7478b4" stroke-width="7.90" stroke-linecap="butt" stroke-linejoin="round"/>
<path d="M488.0 497.0C493.3 495.3 508.7 490.3 520.0 487.0C531.3 483.7 550.0 478.7 556.0 477.0" fill="none" stroke="#b0b3e2" stroke-width="6.50" stroke-linecap="butt" stroke-linejoin="round"/>
<path d="M489.5 493.8C494.8 492.1 510.2 487.1 521.5 483.8C532.8 480.5 551.5 475.5 557.5 473.8" fill="none" stroke="#5f9d5f" stroke-width="3.00" stroke-linecap="butt" stroke-linejoin="round"/>
<path d="M489.5 493.8C494.8 492.1 510.2 487.1 521.5 483.8C532.8 480.5 551.5 475.5 557.5 473.8" fill="none" stroke="#9fd59b" stroke-width="1.60" stroke-linecap="butt" stroke-linejoin="round"/>
<path d="M488.0 514.0C494.2 512.2 512.7 506.5 525.0 503.0C537.3 499.5 555.8 494.7 562.0 493.0" fill="none" stroke="#5f9d5f" stroke-width="7.40" stroke-linecap="butt" stroke-linejoin="round"/>
<path d="M488.0 514.0C494.2 512.2 512.7 506.5 525.0 503.0C537.3 499.5 555.8 494.7 562.0 493.0" fill="none" stroke="#9fd59b" stroke-width="6.00" stroke-linecap="butt" stroke-linejoin="round"/>
<path d="M489.5 510.8C495.7 509.0 514.2 503.3 526.5 499.8C538.8 496.3 557.3 491.5 563.5 489.8" fill="none" stroke="#5f9d5f" stroke-width="3.00" stroke-linecap="butt" stroke-linejoin="round"/>
<path d="M489.5 510.8C495.7 509.0 514.2 503.3 526.5 499.8C538.8 496.3 557.3 491.5 563.5 489.8" fill="none" stroke="#9fd59b" stroke-width="1.60" stroke-linecap="butt" stroke-linejoin="round"/>
<path d="M498.0 531.0C504.2 529.5 522.0 524.8 535.0 522.0C548.0 519.2 569.2 515.3 576.0 514.0" fill="none" stroke="#7478b4" stroke-width="7.90" stroke-linecap="butt" stroke-linejoin="round"/>
<path d="M498.0 531.0C504.2 529.5 522.0 524.8 535.0 522.0C548.0 519.2 569.2 515.3 576.0 514.0" fill="none" stroke="#b0b3e2" stroke-width="6.50" stroke-linecap="butt" stroke-linejoin="round"/>
<path d="M499.5 527.8C505.7 526.3 523.5 521.6 536.5 518.8C549.5 516.0 570.7 512.1 577.5 510.8" fill="none" stroke="#5f9d5f" stroke-width="3.00" stroke-linecap="butt" stroke-linejoin="round"/>
<path d="M499.5 527.8C505.7 526.3 523.5 521.6 536.5 518.8C549.5 516.0 570.7 512.1 577.5 510.8" fill="none" stroke="#9fd59b" stroke-width="1.60" stroke-linecap="butt" stroke-linejoin="round"/>
<path d="M515.0 545.0C520.0 544.0 534.5 541.2 545.0 539.0C555.5 536.8 572.5 533.2 578.0 532.0" fill="none" stroke="#7478b4" stroke-width="7.40" stroke-linecap="butt" stroke-linejoin="round"/>
<path d="M515.0 545.0C520.0 544.0 534.5 541.2 545.0 539.0C555.5 536.8 572.5 533.2 578.0 532.0" fill="none" stroke="#b0b3e2" stroke-width="6.00" stroke-linecap="butt" stroke-linejoin="round"/>
<path d="M516.5 541.8C521.5 540.8 536.0 538.0 546.5 535.8C557.0 533.6 574.0 530.0 579.5 528.8" fill="none" stroke="#5f9d5f" stroke-width="3.00" stroke-linecap="butt" stroke-linejoin="round"/>
<path d="M516.5 541.8C521.5 540.8 536.0 538.0 546.5 535.8C557.0 533.6 574.0 530.0 579.5 528.8" fill="none" stroke="#9fd59b" stroke-width="1.60" stroke-linecap="butt" stroke-linejoin="round"/>
<path d="M488.0 462.0C490.0 462.7 496.0 464.7 500.0 466.0C504.0 467.3 510.0 469.3 512.0 470.0" fill="none" stroke="#7478b4" stroke-width="6.40" stroke-linecap="butt" stroke-linejoin="round"/>
<path d="M488.0 462.0C490.0 462.7 496.0 464.7 500.0 466.0C504.0 467.3 510.0 469.3 512.0 470.0" fill="none" stroke="#b0b3e2" stroke-width="5.00" stroke-linecap="butt" stroke-linejoin="round"/>
<path d="M489.5 458.8C491.5 459.5 497.5 461.5 501.5 462.8C505.5 464.1 511.5 466.1 513.5 466.8" fill="none" stroke="#5f9d5f" stroke-width="3.00" stroke-linecap="butt" stroke-linejoin="round"/>
<path d="M489.5 458.8C491.5 459.5 497.5 461.5 501.5 462.8C505.5 464.1 511.5 466.1 513.5 466.8" fill="none" stroke="#9fd59b" stroke-width="1.60" stroke-linecap="butt" stroke-linejoin="round"/>
<path d="M488.0 437.0C493.3 437.5 507.0 438.5 520.0 440.0C533.0 441.5 558.3 445.0 566.0 446.0" fill="none" stroke="#5f9d5f" stroke-width="6.40" stroke-linecap="butt" stroke-linejoin="round"/>
<path d="M488.0 437.0C493.3 437.5 507.0 438.5 520.0 440.0C533.0 441.5 558.3 445.0 566.0 446.0" fill="none" stroke="#9fd59b" stroke-width="5.00" stroke-linecap="butt" stroke-linejoin="round"/>
<path d="M546.0 421.0C546.7 423.0 548.3 428.8 550.0 433.0C551.7 437.2 555.0 443.8 556.0 446.0" fill="none" stroke="#7a4545" stroke-width="11.40" stroke-linecap="butt" stroke-linejoin="round"/>
<path d="M546.0 421.0C546.7 423.0 548.3 428.8 550.0 433.0C551.7 437.2 555.0 443.8 556.0 446.0" fill="none" stroke="#a86a6a" stroke-width="10.00" stroke-linecap="butt" stroke-linejoin="round"/>
<ellipse cx="623.0" cy="473.0" rx="7.5" ry="8.5" transform="rotate(0 623.0 473.0)" fill="none" stroke="#a05555" stroke-width="6.0"/>
<ellipse cx="623.0" cy="473.0" rx="7.5" ry="8.5" transform="rotate(0 623.0 473.0)" fill="none" stroke="#d98585" stroke-width="5.1"/>
<path d="M623.0 464.5A7.5 8.5 0 0 1 623.0 481.5" transform="rotate(0 623.0 473.0)" fill="none" stroke="#b0b3e2" stroke-width="5.1" opacity="0.9"/>
<ellipse cx="633.0" cy="473.0" rx="7.5" ry="8.5" transform="rotate(0 633.0 473.0)" fill="none" stroke="#7478b4" stroke-width="6.0"/>
<ellipse cx="633.0" cy="473.0" rx="7.5" ry="8.5" transform="rotate(0 633.0 473.0)" fill="none" stroke="#b0b3e2" stroke-width="5.1"/>
<path d="M633.0 464.5A7.5 8.5 0 0 1 633.0 481.5" transform="rotate(0 633.0 473.0)" fill="none" stroke="#9fd59b" stroke-width="5.1" opacity="0.9"/>
<ellipse cx="643.0" cy="473.0" rx="7.5" ry="8.5" transform="rotate(0 643.0 473.0)" fill="none" stroke="#5f9d5f" stroke-width="6.0"/>
<ellipse cx="643.0" cy="473.0" rx="7.5" ry="8.5" transform="rotate(0 643.0 473.0)" fill="none" stroke="#9fd59b" stroke-width="5.1"/>
<path d="M643.0 464.5A7.5 8.5 0 0 1 643.0 481.5" transform="rotate(0 643.0 473.0)" fill="none" stroke="#d98585" stroke-width="5.1" opacity="0.9"/>
<ellipse cx="621.0" cy="497.0" rx="7.5" ry="8.5" transform="rotate(0 621.0 497.0)" fill="none" stroke="#a05555" stroke-width="6.0"/>
<ellipse cx="621.0" cy="497.0" rx="7.5" ry="8.5" transform="rotate(0 621.0 497.0)" fill="none" stroke="#d98585" stroke-width="5.1"/>
<path d="M621.0 488.5A7.5 8.5 0 0 1 621.0 505.5" transform="rotate(0 621.0 497.0)" fill="none" stroke="#b0b3e2" stroke-width="5.1" opacity="0.9"/>
<ellipse cx="631.0" cy="497.0" rx="7.5" ry="8.5" transform="rotate(0 631.0 497.0)" fill="none" stroke="#7478b4" stroke-width="6.0"/>
<ellipse cx="631.0" cy="497.0" rx="7.5" ry="8.5" transform="rotate(0 631.0 497.0)" fill="none" stroke="#b0b3e2" stroke-width="5.1"/>
<path d="M631.0 488.5A7.5 8.5 0 0 1 631.0 505.5" transform="rotate(0 631.0 497.0)" fill="none" stroke="#9fd59b" stroke-width="5.1" opacity="0.9"/>
<ellipse cx="641.0" cy="497.0" rx="7.5" ry="8.5" transform="rotate(0 641.0 497.0)" fill="none" stroke="#5f9d5f" stroke-width="6.0"/>
<ellipse cx="641.0" cy="497.0" rx="7.5" ry="8.5" transform="rotate(0 641.0 497.0)" fill="none" stroke="#9fd59b" stroke-width="5.1"/>
<path d="M641.0 488.5A7.5 8.5 0 0 1 641.0 505.5" transform="rotate(0 641.0 497.0)" fill="none" stroke="#d98585" stroke-width="5.1" opacity="0.9"/>
<ellipse cx="580.0" cy="547.3" rx="9.5" ry="8.0" transform="rotate(90 580.0 547.3)" fill="none" stroke="#a05555" stroke-width="5.7"/>
<ellipse cx="580.0" cy="547.3" rx="9.5" ry="8.0" transform="rotate(90 580.0 547.3)" fill="none" stroke="#d98585" stroke-width="4.8"/>
<path d="M580.0 539.3A9.5 8.0 0 0 1 580.0 555.3" transform="rotate(90 580.0 547.3)" fill="none" stroke="#9fd59b" stroke-width="4.8" opacity="0.9"/>
<ellipse cx="580.0" cy="560.0" rx="9.5" ry="8.0" transform="rotate(90 580.0 560.0)" fill="none" stroke="#5f9d5f" stroke-width="5.7"/>
<ellipse cx="580.0" cy="560.0" rx="9.5" ry="8.0" transform="rotate(90 580.0 560.0)" fill="none" stroke="#9fd59b" stroke-width="4.8"/>
<path d="M580.0 552.0A9.5 8.0 0 0 1 580.0 568.0" transform="rotate(90 580.0 560.0)" fill="none" stroke="#b0b3e2" stroke-width="4.8" opacity="0.9"/>
<ellipse cx="580.0" cy="572.7" rx="9.5" ry="8.0" transform="rotate(90 580.0 572.7)" fill="none" stroke="#7478b4" stroke-width="5.7"/>
<ellipse cx="580.0" cy="572.7" rx="9.5" ry="8.0" transform="rotate(90 580.0 572.7)" fill="none" stroke="#b0b3e2" stroke-width="4.8"/>
<path d="M580.0 564.7A9.5 8.0 0 0 1 580.0 580.7" transform="rotate(90 580.0 572.7)" fill="none" stroke="#d98585" stroke-width="4.8" opacity="0.9"/>
<ellipse cx="503.3" cy="568.0" rx="6.5" ry="8.0" transform="rotate(0 503.3 568.0)" fill="none" stroke="#7478b4" stroke-width="5.7"/>
<ellipse cx="503.3" cy="568.0" rx="6.5" ry="8.0" transform="rotate(0 503.3 568.0)" fill="none" stroke="#b0b3e2" stroke-width="4.8"/>
<path d="M503.3 560.0A6.5 8.0 0 0 1 503.3 576.0" transform="rotate(0 503.3 568.0)" fill="none" stroke="#d98585" stroke-width="4.8" opacity="0.9"/>
<ellipse cx="512.0" cy="568.0" rx="6.5" ry="8.0" transform="rotate(0 512.0 568.0)" fill="none" stroke="#a05555" stroke-width="5.7"/>
<ellipse cx="512.0" cy="568.0" rx="6.5" ry="8.0" transform="rotate(0 512.0 568.0)" fill="none" stroke="#d98585" stroke-width="4.8"/>
<path d="M512.0 560.0A6.5 8.0 0 0 1 512.0 576.0" transform="rotate(0 512.0 568.0)" fill="none" stroke="#9fd59b" stroke-width="4.8" opacity="0.9"/>
<ellipse cx="520.7" cy="568.0" rx="6.5" ry="8.0" transform="rotate(0 520.7 568.0)" fill="none" stroke="#5f9d5f" stroke-width="5.7"/>
<ellipse cx="520.7" cy="568.0" rx="6.5" ry="8.0" transform="rotate(0 520.7 568.0)" fill="none" stroke="#9fd59b" stroke-width="4.8"/>
<path d="M520.7 560.0A6.5 8.0 0 0 1 520.7 576.0" transform="rotate(0 520.7 568.0)" fill="none" stroke="#b0b3e2" stroke-width="4.8" opacity="0.9"/>
<ellipse cx="636.3" cy="572.0" rx="6.5" ry="8.5" transform="rotate(0 636.3 572.0)" fill="none" stroke="#5f9d5f" stroke-width="6.0"/>
<ellipse cx="636.3" cy="572.0" rx="6.5" ry="8.5" transform="rotate(0 636.3 572.0)" fill="none" stroke="#9fd59b" stroke-width="5.1"/>
<path d="M636.3 563.5A6.5 8.5 0 0 1 636.3 580.5" transform="rotate(0 636.3 572.0)" fill="none" stroke="#d98585" stroke-width="5.1" opacity="0.9"/>
<ellipse cx="645.0" cy="572.0" rx="6.5" ry="8.5" transform="rotate(0 645.0 572.0)" fill="none" stroke="#a05555" stroke-width="6.0"/>
<ellipse cx="645.0" cy="572.0" rx="6.5" ry="8.5" transform="rotate(0 645.0 572.0)" fill="none" stroke="#d98585" stroke-width="5.1"/>
<path d="M645.0 563.5A6.5 8.5 0 0 1 645.0 580.5" transform="rotate(0 645.0 572.0)" fill="none" stroke="#b0b3e2" stroke-width="5.1" opacity="0.9"/>
<ellipse cx="653.7" cy="572.0" rx="6.5" ry="8.5" transform="rotate(0 653.7 572.0)" fill="none" stroke="#7478b4" stroke-width="6.0"/>
<ellipse cx="653.7" cy="572.0" rx="6.5" ry="8.5" transform="rotate(0 653.7 572.0)" fill="none" stroke="#b0b3e2" stroke-width="5.1"/>
<path d="M653.7 563.5A6.5 8.5 0 0 1 653.7 580.5" transform="rotate(0 653.7 572.0)" fill="none" stroke="#9fd59b" stroke-width="5.1" opacity="0.9"/>
<ellipse cx="540.0" cy="556.0" rx="6.0" ry="7.5" transform="rotate(0 540.0 556.0)" fill="none" stroke="#5f9d5f" stroke-width="5.4"/>
<ellipse cx="540.0" cy="556.0" rx="6.0" ry="7.5" transform="rotate(0 540.0 556.0)" fill="none" stroke="#9fd59b" stroke-width="4.5"/>
<path d="M540.0 548.5A6.0 7.5 0 0 1 540.0 563.5" transform="rotate(0 540.0 556.0)" fill="none" stroke="#b0b3e2" stroke-width="4.5" opacity="0.9"/>
<ellipse cx="548.0" cy="556.0" rx="6.0" ry="7.5" transform="rotate(0 548.0 556.0)" fill="none" stroke="#7478b4" stroke-width="5.4"/>
<ellipse cx="548.0" cy="556.0" rx="6.0" ry="7.5" transform="rotate(0 548.0 556.0)" fill="none" stroke="#b0b3e2" stroke-width="4.5"/>
<path d="M548.0 548.5A6.0 7.5 0 0 1 548.0 563.5" transform="rotate(0 548.0 556.0)" fill="none" stroke="#d98585" stroke-width="4.5" opacity="0.9"/>
<ellipse cx="556.0" cy="556.0" rx="6.0" ry="7.5" transform="rotate(0 556.0 556.0)" fill="none" stroke="#a05555" stroke-width="5.4"/>
<ellipse cx="556.0" cy="556.0" rx="6.0" ry="7.5" transform="rotate(0 556.0 556.0)" fill="none" stroke="#d98585" stroke-width="4.5"/>
<path d="M556.0 548.5A6.0 7.5 0 0 1 556.0 563.5" transform="rotate(0 556.0 556.0)" fill="none" stroke="#9fd59b" stroke-width="4.5" opacity="0.9"/>
<ellipse cx="604.7" cy="578.0" rx="5.5" ry="7.0" transform="rotate(0 604.7 578.0)" fill="none" stroke="#7478b4" stroke-width="5.1"/>
<ellipse cx="604.7" cy="578.0" rx="5.5" ry="7.0" transform="rotate(0 604.7 578.0)" fill="none" stroke="#b0b3e2" stroke-width="4.2"/>
<path d="M604.7 571.0A5.5 7.0 0 0 1 604.7 585.0" transform="rotate(0 604.7 578.0)" fill="none" stroke="#9fd59b" stroke-width="4.2" opacity="0.9"/>
<ellipse cx="612.0" cy="578.0" rx="5.5" ry="7.0" transform="rotate(0 612.0 578.0)" fill="none" stroke="#5f9d5f" stroke-width="5.1"/>
<ellipse cx="612.0" cy="578.0" rx="5.5" ry="7.0" transform="rotate(0 612.0 578.0)" fill="none" stroke="#9fd59b" stroke-width="4.2"/>
<path d="M612.0 571.0A5.5 7.0 0 0 1 612.0 585.0" transform="rotate(0 612.0 578.0)" fill="none" stroke="#b0b3e2" stroke-width="4.2" opacity="0.9"/>
<ellipse cx="619.3" cy="578.0" rx="5.5" ry="7.0" transform="rotate(0 619.3 578.0)" fill="none" stroke="#7478b4" stroke-width="5.1"/>
<ellipse cx="619.3" cy="578.0" rx="5.5" ry="7.0" transform="rotate(0 619.3 578.0)" fill="none" stroke="#b0b3e2" stroke-width="4.2"/>
<path d="M619.3 571.0A5.5 7.0 0 0 1 619.3 585.0" transform="rotate(0 619.3 578.0)" fill="none" stroke="#9fd59b" stroke-width="4.2" opacity="0.9"/>
<ellipse cx="650.0" cy="513.3" rx="5.0" ry="6.5" transform="rotate(90 650.0 513.3)" fill="none" stroke="#7478b4" stroke-width="4.8"/>
<ellipse cx="650.0" cy="513.3" rx="5.0" ry="6.5" transform="rotate(90 650.0 513.3)" fill="none" stroke="#b0b3e2" stroke-width="3.9"/>
<path d="M650.0 506.8A5.0 6.5 0 0 1 650.0 519.8" transform="rotate(90 650.0 513.3)" fill="none" stroke="#d98585" stroke-width="3.9" opacity="0.9"/>
<ellipse cx="650.0" cy="520.0" rx="5.0" ry="6.5" transform="rotate(90 650.0 520.0)" fill="none" stroke="#a05555" stroke-width="4.8"/>
<ellipse cx="650.0" cy="520.0" rx="5.0" ry="6.5" transform="rotate(90 650.0 520.0)" fill="none" stroke="#d98585" stroke-width="3.9"/>
<path d="M650.0 513.5A5.0 6.5 0 0 1 650.0 526.5" transform="rotate(90 650.0 520.0)" fill="none" stroke="#b0b3e2" stroke-width="3.9" opacity="0.9"/>
<ellipse cx="650.0" cy="526.7" rx="5.0" ry="6.5" transform="rotate(90 650.0 526.7)" fill="none" stroke="#7478b4" stroke-width="4.8"/>
<ellipse cx="650.0" cy="526.7" rx="5.0" ry="6.5" transform="rotate(90 650.0 526.7)" fill="none" stroke="#b0b3e2" stroke-width="3.9"/>
<path d="M650.0 520.2A5.0 6.5 0 0 1 650.0 533.2" transform="rotate(90 650.0 526.7)" fill="none" stroke="#d98585" stroke-width="3.9" opacity="0.9"/>
<path d="M505.0 458.0C508.3 460.2 517.8 465.7 525.0 471.0C532.2 476.3 539.7 482.7 548.0 490.0C556.3 497.3 566.7 507.0 575.0 515.0C583.3 523.0 591.8 531.8 598.0 538.0C604.2 544.2 609.7 549.7 612.0 552.0" fill="none" stroke="#7478b4" stroke-width="13.40" stroke-linecap="butt" stroke-linejoin="round"/>
<path d="M505.0 458.0C508.3 460.2 517.8 465.7 525.0 471.0C532.2 476.3 539.7 482.7 548.0 490.0C556.3 497.3 566.7 507.0 575.0 515.0C583.3 523.0 591.8 531.8 598.0 538.0C604.2 544.2 609.7 549.7 612.0 552.0" fill="none" stroke="#b0b3e2" stroke-width="12.00" stroke-linecap="butt" stroke-linejoin="round"/>
<path d="M603.9,560.1 L623.0,563.0 L620.1,543.9Z" fill="#b0b3e2" stroke="#7478b4" stroke-width="0.7"/>
<path d="M496.0 446.0C500.0 448.2 511.8 453.5 520.0 459.0C528.2 464.5 535.8 471.0 545.0 479.0C554.2 487.0 566.2 498.2 575.0 507.0C583.8 515.8 590.8 524.3 598.0 532.0C605.2 539.7 614.7 549.5 618.0 553.0" fill="none" stroke="#a05555" stroke-width="11.40" stroke-linecap="butt" stroke-linejoin="round"/>
<path d="M496.0 446.0C500.0 448.2 511.8 453.5 520.0 459.0C528.2 464.5 535.8 471.0 545.0 479.0C554.2 487.0 566.2 498.2 575.0 507.0C583.8 515.8 590.8 524.3 598.0 532.0C605.2 539.7 614.7 549.5 618.0 553.0" fill="none" stroke="#d98585" stroke-width="10.00" stroke-linecap="butt" stroke-linejoin="round"/>
<path d="M611.1,559.6 L627.0,562.4 L624.9,546.4Z" fill="#d98585" stroke="#a05555" stroke-width="0.7"/>
<path d="M490.0 444.0C493.7 444.5 504.8 445.7 512.0 447.0C519.2 448.3 524.8 448.7 533.0 452.0C541.2 455.3 551.7 460.5 561.0 467.0C570.3 473.5 580.2 482.5 589.0 491.0C597.8 499.5 606.8 510.2 614.0 518.0C621.2 525.8 627.3 532.8 632.0 538.0C636.7 543.2 640.3 547.2 642.0 549.0" fill="none" stroke="#7478b4" stroke-width="15.40" stroke-linecap="butt" stroke-linejoin="round"/>
<path d="M490.0 444.0C493.7 444.5 504.8 445.7 512.0 447.0C519.2 448.3 524.8 448.7 533.0 452.0C541.2 455.3 551.7 460.5 561.0 467.0C570.3 473.5 580.2 482.5 589.0 491.0C597.8 499.5 606.8 510.2 614.0 518.0C621.2 525.8 627.3 532.8 632.0 538.0C636.7 543.2 640.3 547.2 642.0 549.0" fill="none" stroke="#b0b3e2" stroke-width="14.00" stroke-linecap="butt" stroke-linejoin="round"/>
<path d="M632.2,557.9 L654.2,562.5 L651.8,540.1Z" fill="#b0b3e2" stroke="#7478b4" stroke-width="0.7"/>
<path d="M535,451 C560,462 580,478 595,495 C607,508 618,520 628,533" fill="none" stroke="#e4e5f6" stroke-width="4" opacity="0.8"/>

<use href="#q137" x="0.0" y="0.0" class="tl" stroke-width="2.7"/>
<use href="#q137" x="0.0" y="0.0" class="Tl" stroke-width="2.0"/>
<use href="#q137" x="1.6" y="1.2" class="tp" stroke-width="2.7"/>
<use href="#q137" x="1.6" y="1.2" class="Tp" stroke-width="2.0"/>
<use href="#q137" x="-1.4" y="1.6" class="tg" stroke-width="2.7"/>
<use href="#q137" x="-1.4" y="1.6" class="Tg" stroke-width="2.0"/>

<use href="#q138" x="0.0" y="0.0" class="tg" stroke-width="2.7"/>
<use href="#q138" x="0.0" y="0.0" class="Tg" stroke-width="2.0"/>
<use href="#q138" x="1.6" y="1.2" class="tp" stroke-width="2.7"/>
<use href="#q138" x="1.6" y="1.2" class="Tp" stroke-width="2.0"/>
<use href="#q138" x="-1.4" y="1.6" class="tl" stroke-width="2.7"/>
<use href="#q138" x="-1.4" y="1.6" class="Tl" stroke-width="2.0"/>
<path class="tg" d="M575.3 545.9C575.0 547.4 573.6 551.9 573.1 555.0C572.7 558.1 572.2 561.4 572.8 564.4C573.3 567.4 576.2 570.2 576.3 573.1C576.4 576.0 572.9 579.2 573.2 582.0C573.5 584.8 575.6 588.6 577.9 589.8C580.3 591.0 584.4 589.9 587.3 589.0C590.2 588.1 594.1 585.2 595.5 584.4" stroke-width="2.9"/>
<path class="Tg" d="M575.3 545.9C575.0 547.4 573.6 551.9 573.1 555.0C572.7 558.1 572.2 561.4 572.8 564.4C573.3 567.4 576.2 570.2 576.3 573.1C576.4 576.0 572.9 579.2 573.2 582.0C573.5 584.8 575.6 588.6 577.9 589.8C580.3 591.0 584.4 589.9 587.3 589.0C590.2 588.1 594.1 585.2 595.5 584.4" stroke-width="2.2"/>

<use href="#q139" x="0.0" y="0.0" class="tg" stroke-width="2.7"/>
<use href="#q139" x="0.0" y="0.0" class="Tg" stroke-width="2.0"/>
<use href="#q139" x="1.6" y="1.2" class="tp" stroke-width="2.7"/>
<use href="#q139" x="1.6" y="1.2" class="Tp" stroke-width="2.0"/>
<use href="#q139" x="-1.4" y="1.6" class="tl" stroke-width="2.7"/>
<use href="#q139" x="-1.4" y="1.6" class="Tl" stroke-width="2.0"/>

<use href="#q140" x="0.0" y="0.0" class="tl" stroke-width="2.7"/>
<use href="#q140" x="0.0" y="0.0" class="Tl" stroke-width="2.0"/>
<use href="#q140" x="1.6" y="1.2" class="tp" stroke-width="2.7"/>
<use href="#q140" x="1.6" y="1.2" class="Tp" stroke-width="2.0"/>
<use href="#q140" x="-1.4" y="1.6" class="tg" stroke-width="2.7"/>
<use href="#q140" x="-1.4" y="1.6" class="Tg" stroke-width="2.0"/>

<use href="#q141" x="0.0" y="0.0" class="tg" stroke-width="2.7"/>
<use href="#q141" x="0.0" y="0.0" class="Tg" stroke-width="2.0"/>
<use href="#q141" x="1.6" y="1.2" class="tp" stroke-width="2.7"/>
<use href="#q141" x="1.6" y="1.2" class="Tp" stroke-width="2.0"/>
<use href="#q141" x="-1.4" y="1.6" class="tl" stroke-width="2.7"/>
<use href="#q141" x="-1.4" y="1.6" class="Tl" stroke-width="2.0"/>
<path class="tg" d="M526.3 556.4C524.9 554.9 521.4 549.3 518.0 547.4C514.6 545.5 510.0 545.6 506.0 545.2C501.9 544.7 496.7 544.4 493.7 544.9C490.6 545.5 488.6 547.8 487.6 548.4" stroke-width="2.9"/>
<path class="Tg" d="M526.3 556.4C524.9 554.9 521.4 549.3 518.0 547.4C514.6 545.5 510.0 545.6 506.0 545.2C501.9 544.7 496.7 544.4 493.7 544.9C490.6 545.5 488.6 547.8 487.6 548.4" stroke-width="2.2"/>

<use href="#q142" x="0.0" y="0.0" class="tl" stroke-width="2.7"/>
<use href="#q142" x="0.0" y="0.0" class="Tl" stroke-width="2.0"/>
<use href="#q142" x="1.6" y="1.2" class="tp" stroke-width="2.7"/>
<use href="#q142" x="1.6" y="1.2" class="Tp" stroke-width="2.0"/>
<use href="#q142" x="-1.4" y="1.6" class="tg" stroke-width="2.7"/>
<use href="#q142" x="-1.4" y="1.6" class="Tg" stroke-width="2.0"/>

<use href="#q143" x="0.0" y="0.0" class="tl" stroke-width="2.7"/>
<use href="#q143" x="0.0" y="0.0" class="Tl" stroke-width="2.0"/>
<use href="#q143" x="1.6" y="1.2" class="tp" stroke-width="2.7"/>
<use href="#q143" x="1.6" y="1.2" class="Tp" stroke-width="2.0"/>
<use href="#q143" x="-1.4" y="1.6" class="tg" stroke-width="2.7"/>
<use href="#q143" x="-1.4" y="1.6" class="Tg" stroke-width="2.0"/>
<path class="tg" d="M511.3 515.4C509.8 515.0 505.2 513.9 502.1 513.0C499.0 512.2 494.8 512.3 492.9 510.3C491.1 508.3 491.1 504.1 491.0 501.0C490.9 497.8 491.7 494.6 492.2 491.5C492.8 488.3 494.0 483.7 494.4 482.2" stroke-width="2.9"/>
<path class="Tg" d="M511.3 515.4C509.8 515.0 505.2 513.9 502.1 513.0C499.0 512.2 494.8 512.3 492.9 510.3C491.1 508.3 491.1 504.1 491.0 501.0C490.9 497.8 491.7 494.6 492.2 491.5C492.8 488.3 494.0 483.7 494.4 482.2" stroke-width="2.2"/>
<path class="tg" d="M575.0 421.0C575.8 422.8 577.8 428.8 580.0 432.0C582.2 435.2 585.0 439.3 588.0 440.0C591.0 440.7 595.0 435.0 598.0 436.0C601.0 437.0 603.7 442.3 606.0 446.0C608.3 449.7 609.3 455.3 612.0 458.0C614.7 460.7 620.3 461.3 622.0 462.0" stroke-width="2.7"/>
<path class="Tg" d="M575.0 421.0C575.8 422.8 577.8 428.8 580.0 432.0C582.2 435.2 585.0 439.3 588.0 440.0C591.0 440.7 595.0 435.0 598.0 436.0C601.0 437.0 603.7 442.3 606.0 446.0C608.3 449.7 609.3 455.3 612.0 458.0C614.7 460.7 620.3 461.3 622.0 462.0" stroke-width="2.0"/>
<path class="tg" d="M600.0 421.0C601.0 422.5 605.3 426.8 606.0 430.0C606.7 433.2 604.3 438.3 604.0 440.0" stroke-width="2.7"/>
<path class="Tg" d="M600.0 421.0C601.0 422.5 605.3 426.8 606.0 430.0C606.7 433.2 604.3 438.3 604.0 440.0" stroke-width="2.0"/>
<path class="tl" d="M640.0 440.0C641.3 438.7 645.3 433.7 648.0 432.0C650.7 430.3 654.7 430.3 656.0 430.0" stroke-width="3.1"/>
<path class="Tl" d="M640.0 440.0C641.3 438.7 645.3 433.7 648.0 432.0C650.7 430.3 654.7 430.3 656.0 430.0" stroke-width="2.4"/>
<path class="tp" d="M642.0 446.0C643.3 444.7 647.5 439.7 650.0 438.0C652.5 436.3 655.8 436.3 657.0 436.0" stroke-width="3.1"/>
<path class="Tp" d="M642.0 446.0C643.3 444.7 647.5 439.7 650.0 438.0C652.5 436.3 655.8 436.3 657.0 436.0" stroke-width="2.4"/>
</g>
<rect x="492.6" y="421.3" width="164.79999999999995" height="163.49999999999994" fill="none" stroke="#444" stroke-width="1.1"/>
<text x="593.00" y="434.40" font-size="12" text-anchor="start" fill="#5a58a8"  style="">β-sheet</text>
<text x="593.00" y="449.30" font-size="12" text-anchor="start" fill="#5a58a8"  style="">connection</text>
</svg>
</body></html>
